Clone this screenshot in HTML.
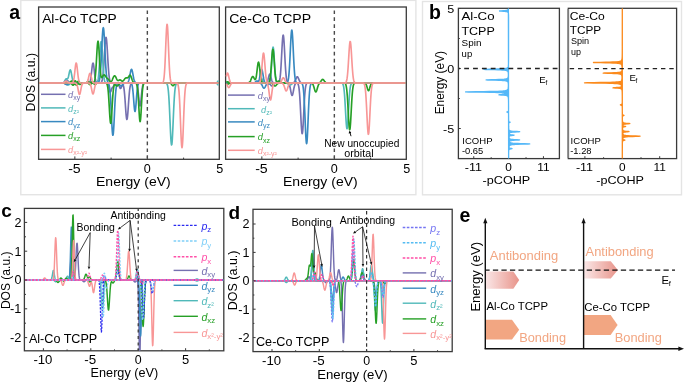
<!DOCTYPE html>
<html><head><meta charset="utf-8"><style>
html,body{margin:0;padding:0;background:#fff;}
svg{display:block;will-change:transform;}
text{font-family:"Liberation Sans", sans-serif;}
</style></head><body>
<svg width="685" height="382" viewBox="0 0 685 382">
<rect x="0" y="0" width="685" height="382" fill="#fff"/>
<rect x="20.80" y="0.40" width="395.10" height="194.30" fill="none" stroke="#e4e4e4" stroke-width="1.4"/>
<rect x="422.50" y="1.50" width="259.00" height="193.30" fill="none" stroke="#e4e4e4" stroke-width="1.4"/>
<text x="9.30" y="18.80" font-size="19.5" fill="#000" font-weight="bold" >a</text>
<text x="429.00" y="19.40" font-size="19.5" fill="#000" font-weight="bold" >b</text>
<text x="1.20" y="217.30" font-size="19" fill="#000" font-weight="bold" >c</text>
<text x="228.40" y="219.40" font-size="19" fill="#000" font-weight="bold" >d</text>
<text x="459.40" y="221.60" font-size="19.5" fill="#000" font-weight="bold" >e</text>
<rect x="38.60" y="7.00" width="180.70" height="152.30" fill="none" stroke="#3a3a3a" stroke-width="1.3"/>
<line x1="74.85" y1="159.00" x2="74.85" y2="156.40" stroke="#3a3a3a" stroke-width="1" />
<line x1="111.10" y1="159.00" x2="111.10" y2="157.60" stroke="#3a3a3a" stroke-width="1" />
<line x1="147.35" y1="159.00" x2="147.35" y2="156.40" stroke="#3a3a3a" stroke-width="1" />
<line x1="183.60" y1="159.00" x2="183.60" y2="157.60" stroke="#3a3a3a" stroke-width="1" />
<line x1="147.35" y1="7.60" x2="147.35" y2="158.40" stroke="#4a4a4a" stroke-width="1.4" stroke-dasharray="3.7,3.2" stroke-dashoffset="4.1"/>
<text x="42.20" y="23.10" font-size="12.6" fill="#000" textLength="74.6" lengthAdjust="spacingAndGlyphs" >Al-Co TCPP</text>
<text x="74.45" y="172.80" font-size="12.5" fill="#000" textLength="12.6" lengthAdjust="spacingAndGlyphs" text-anchor="middle" >-5</text>
<text x="147.35" y="172.80" font-size="12.5" fill="#000" textLength="7.0" lengthAdjust="spacingAndGlyphs" text-anchor="middle" >0</text>
<text x="219.85" y="172.80" font-size="12.5" fill="#000" textLength="7.0" lengthAdjust="spacingAndGlyphs" text-anchor="middle" >5</text>
<text x="96.05" y="186.00" font-size="12.6" fill="#000" textLength="74.6" lengthAdjust="spacingAndGlyphs" >Energy (eV)</text>
<rect x="225.60" y="7.00" width="180.70" height="152.30" fill="none" stroke="#3a3a3a" stroke-width="1.3"/>
<line x1="261.85" y1="159.00" x2="261.85" y2="156.40" stroke="#3a3a3a" stroke-width="1" />
<line x1="298.10" y1="159.00" x2="298.10" y2="157.60" stroke="#3a3a3a" stroke-width="1" />
<line x1="334.35" y1="159.00" x2="334.35" y2="156.40" stroke="#3a3a3a" stroke-width="1" />
<line x1="370.60" y1="159.00" x2="370.60" y2="157.60" stroke="#3a3a3a" stroke-width="1" />
<line x1="334.35" y1="7.60" x2="334.35" y2="158.40" stroke="#4a4a4a" stroke-width="1.4" stroke-dasharray="3.7,3.2" stroke-dashoffset="4.1"/>
<text x="229.20" y="23.10" font-size="12.6" fill="#000" textLength="82.0" lengthAdjust="spacingAndGlyphs" >Ce-Co TCPP</text>
<text x="261.45" y="172.80" font-size="12.5" fill="#000" textLength="12.6" lengthAdjust="spacingAndGlyphs" text-anchor="middle" >-5</text>
<text x="334.35" y="172.80" font-size="12.5" fill="#000" textLength="7.0" lengthAdjust="spacingAndGlyphs" text-anchor="middle" >0</text>
<text x="406.85" y="172.80" font-size="12.5" fill="#000" textLength="7.0" lengthAdjust="spacingAndGlyphs" text-anchor="middle" >5</text>
<text x="283.05" y="186.00" font-size="12.6" fill="#000" textLength="74.6" lengthAdjust="spacingAndGlyphs" >Energy (eV)</text>
<text x="34.60" y="111.40" font-size="12.4" fill="#000" textLength="58.4" lengthAdjust="spacingAndGlyphs" transform="rotate(-90 34.60 111.40)" >DOS (a.u.)</text>
<rect x="458.40" y="8.30" width="101.00" height="150.30" fill="none" stroke="#3a3a3a" stroke-width="1.3"/>
<line x1="473.75" y1="158.60" x2="473.75" y2="156.20" stroke="#3a3a3a" stroke-width="1" />
<line x1="491.18" y1="158.60" x2="491.18" y2="157.20" stroke="#3a3a3a" stroke-width="1" />
<line x1="526.02" y1="158.60" x2="526.02" y2="157.20" stroke="#3a3a3a" stroke-width="1" />
<line x1="543.45" y1="158.60" x2="543.45" y2="156.20" stroke="#3a3a3a" stroke-width="1" />
<line x1="458.40" y1="8.50" x2="460.80" y2="8.50" stroke="#3a3a3a" stroke-width="1" />
<line x1="458.40" y1="38.50" x2="459.80" y2="38.50" stroke="#3a3a3a" stroke-width="1" />
<line x1="458.40" y1="68.50" x2="460.80" y2="68.50" stroke="#3a3a3a" stroke-width="1" />
<line x1="458.40" y1="98.50" x2="459.80" y2="98.50" stroke="#3a3a3a" stroke-width="1" />
<line x1="458.40" y1="128.50" x2="460.80" y2="128.50" stroke="#3a3a3a" stroke-width="1" />
<text x="473.35" y="171.00" font-size="11.2" fill="#000" textLength="17.2" lengthAdjust="spacingAndGlyphs" text-anchor="middle" >-11</text>
<text x="508.60" y="171.00" font-size="11.2" fill="#000" textLength="6.6" lengthAdjust="spacingAndGlyphs" text-anchor="middle" >0</text>
<text x="543.45" y="171.00" font-size="11.2" fill="#000" textLength="12.4" lengthAdjust="spacingAndGlyphs" text-anchor="middle" >11</text>
<text x="482.60" y="183.60" font-size="11.2" fill="#000" textLength="47.6" lengthAdjust="spacingAndGlyphs" >-pCOHP</text>
<text x="461.40" y="20.40" font-size="11.3" fill="#000" textLength="33.2" lengthAdjust="spacingAndGlyphs" >Al-Co</text>
<text x="461.40" y="35.10" font-size="11.3" fill="#000" textLength="33.4" lengthAdjust="spacingAndGlyphs" >TCPP</text>
<text x="461.60" y="45.60" font-size="8.8" fill="#000" textLength="19.8" lengthAdjust="spacingAndGlyphs" >Spin</text>
<text x="461.60" y="56.60" font-size="8.8" fill="#000" textLength="10.6" lengthAdjust="spacingAndGlyphs" >up</text>
<text x="462.30" y="143.60" font-size="9.2" fill="#000" textLength="30.2" lengthAdjust="spacingAndGlyphs" >ICOHP</text>
<text x="461.90" y="154.30" font-size="9.2" fill="#000" textLength="21.4" lengthAdjust="spacingAndGlyphs" >-0.65</text>
<rect x="568.30" y="8.30" width="108.30" height="150.30" fill="none" stroke="#3a3a3a" stroke-width="1.3"/>
<line x1="584.90" y1="158.60" x2="584.90" y2="156.20" stroke="#3a3a3a" stroke-width="1" />
<line x1="603.60" y1="158.60" x2="603.60" y2="157.20" stroke="#3a3a3a" stroke-width="1" />
<line x1="641.00" y1="158.60" x2="641.00" y2="157.20" stroke="#3a3a3a" stroke-width="1" />
<line x1="659.70" y1="158.60" x2="659.70" y2="156.20" stroke="#3a3a3a" stroke-width="1" />
<text x="584.50" y="171.00" font-size="11.2" fill="#000" textLength="17.2" lengthAdjust="spacingAndGlyphs" text-anchor="middle" >-11</text>
<text x="622.30" y="171.00" font-size="11.2" fill="#000" textLength="6.6" lengthAdjust="spacingAndGlyphs" text-anchor="middle" >0</text>
<text x="659.70" y="171.00" font-size="11.2" fill="#000" textLength="12.4" lengthAdjust="spacingAndGlyphs" text-anchor="middle" >11</text>
<text x="596.30" y="183.60" font-size="11.2" fill="#000" textLength="47.6" lengthAdjust="spacingAndGlyphs" >-pCOHP</text>
<text x="569.70" y="20.10" font-size="11.3" fill="#000" textLength="35.0" lengthAdjust="spacingAndGlyphs" >Ce-Co</text>
<text x="569.70" y="33.60" font-size="11.3" fill="#000" textLength="31.4" lengthAdjust="spacingAndGlyphs" >TCPP</text>
<text x="570.90" y="44.20" font-size="8.8" fill="#000" textLength="18.2" lengthAdjust="spacingAndGlyphs" >Spin</text>
<text x="570.90" y="54.80" font-size="8.8" fill="#000" textLength="10.0" lengthAdjust="spacingAndGlyphs" >up</text>
<text x="570.60" y="143.60" font-size="9.2" fill="#000" textLength="30.2" lengthAdjust="spacingAndGlyphs" >ICOHP</text>
<text x="570.20" y="154.30" font-size="9.2" fill="#000" textLength="21.4" lengthAdjust="spacingAndGlyphs" >-1.28</text>
<line x1="568.30" y1="9.00" x2="568.30" y2="157.90" stroke="#7c7c7c" stroke-width="1.7" />
<text x="454.20" y="12.70" font-size="11.6" fill="#000" textLength="7.0" lengthAdjust="spacingAndGlyphs" text-anchor="end" >5</text>
<text x="454.20" y="72.70" font-size="11.6" fill="#000" textLength="7.0" lengthAdjust="spacingAndGlyphs" text-anchor="end" >0</text>
<text x="454.20" y="132.70" font-size="11.6" fill="#000" textLength="11.2" lengthAdjust="spacingAndGlyphs" text-anchor="end" >-5</text>
<text x="443.60" y="114.30" font-size="12.8" fill="#000" textLength="63.3" lengthAdjust="spacingAndGlyphs" transform="rotate(-90 443.60 114.30)" >Energy (eV)</text>
<text x="539.20" y="82.80" font-size="9.6" fill="#000" >E</text>
<text x="545.50" y="85.00" font-size="6.4" fill="#000" >f</text>
<text x="629.40" y="81.00" font-size="9.6" fill="#000" >E</text>
<text x="635.50" y="83.20" font-size="6.4" fill="#000" >f</text>
<path d="M508.37,8.80 L508.35,8.90 L508.33,9.00 L508.30,9.10 L508.27,9.20 L508.23,9.30 L508.18,9.40 L508.13,9.50 L508.06,9.60 L507.98,9.70 L507.88,9.80 L507.76,9.90 L507.60,10.00 L507.40,10.10 L507.14,10.20 L506.78,10.30 L506.29,10.40 L505.61,10.50 L504.65,10.60 L503.35,10.70 L501.74,10.80 L500.18,10.90 L499.50,11.00 L500.18,11.10 L501.74,11.20 L503.35,11.30 L504.65,11.40 L505.61,11.50 L506.29,11.60 L506.78,11.70 L507.14,11.80 L507.40,11.90 L507.60,12.00 L507.76,12.10 L507.88,12.20 L507.98,12.30 L508.06,12.40 L508.13,12.50 L508.18,12.60 L508.23,12.70 L508.27,12.80 L508.30,12.90 L508.33,13.00 L508.35,13.10 L508.37,13.20 L508.39,13.30 L508.41,13.40 L508.42,13.50 L508.44,13.60 L508.45,13.70 L508.46,13.80 L508.47,13.90 L508.48,14.00 L508.48,14.10 L508.49,14.20 L508.50,14.30 L508.50,14.40 L508.51,14.50 L508.51,14.60 L508.52,14.70 L508.52,14.80 L508.52,14.90 L508.53,15.00 L508.53,15.10 L508.53,15.20 L508.54,15.30 L508.54,15.40 L508.54,15.50 L508.55,15.60 L508.55,15.70 L508.55,15.80 L508.55,15.90 L508.55,16.00 L508.55,16.10 L508.56,16.20 L508.56,16.30 L508.56,16.40 L508.56,16.50 L508.56,16.60 L508.56,16.70 L508.56,16.80 L508.57,16.90 L508.57,17.00 L508.57,17.10 L508.57,17.20 L508.57,17.30 L508.57,17.40 L508.57,17.50 L508.57,17.60 L508.57,17.70 L508.57,17.80 L508.57,17.90 L508.57,18.00 L508.58,18.10 L508.58,18.20 L508.58,18.30 L508.58,18.40 L508.58,18.50 L508.58,18.60 L508.58,18.70 L508.58,18.80 L508.58,18.90 L508.58,19.00 L508.58,19.10 L508.58,53.50 L508.58,53.60 L508.58,53.70 L508.58,53.80 L508.58,53.90 L508.58,54.00 L508.58,54.10 L508.58,54.20 L508.58,54.30 L508.58,54.40 L508.58,54.50 L508.58,54.60 L508.58,54.70 L508.58,54.80 L508.58,54.90 L508.58,55.00 L508.58,55.10 L508.58,55.20 L508.58,55.30 L508.58,55.40 L508.58,55.50 L508.58,55.60 L508.57,55.70 L508.57,55.80 L508.57,55.90 L508.57,56.00 L508.57,56.10 L508.57,56.20 L508.57,56.30 L508.57,56.40 L508.57,56.50 L508.57,56.60 L508.57,56.70 L508.57,56.80 L508.57,56.90 L508.57,57.00 L508.57,57.10 L508.57,57.20 L508.57,57.30 L508.57,57.40 L508.57,57.50 L508.57,57.60 L508.57,57.70 L508.57,57.80 L508.57,57.90 L508.57,58.00 L508.57,58.10 L508.57,58.20 L508.56,58.30 L508.56,58.40 L508.56,58.50 L508.56,58.60 L508.56,58.70 L508.56,58.80 L508.56,58.90 L508.56,59.00 L508.56,59.10 L508.56,59.20 L508.56,59.30 L508.56,59.40 L508.56,59.50 L508.56,59.60 L508.56,59.70 L508.56,59.80 L508.55,59.90 L508.55,60.00 L508.55,60.10 L508.55,60.20 L508.55,60.30 L508.55,60.40 L508.55,60.50 L508.55,60.60 L508.55,60.70 L508.55,60.80 L508.54,60.90 L508.54,61.00 L508.54,61.10 L508.54,61.20 L508.54,61.30 L508.54,61.40 L508.54,61.50 L508.54,61.60 L508.53,61.70 L508.53,61.80 L508.53,61.90 L508.53,62.00 L508.53,62.10 L508.53,62.20 L508.53,62.30 L508.52,62.40 L508.52,62.50 L508.52,62.60 L508.52,62.70 L508.51,62.80 L508.51,62.90 L508.51,63.00 L508.51,63.10 L508.51,63.20 L508.50,63.30 L508.50,63.40 L508.50,63.50 L508.49,63.60 L508.49,63.70 L508.49,63.80 L508.48,63.90 L508.48,64.00 L508.47,64.10 L508.47,64.20 L508.47,64.30 L508.46,64.40 L508.46,64.50 L508.45,64.60 L508.44,64.70 L508.44,64.80 L508.43,64.90 L508.43,65.00 L508.42,65.10 L508.41,65.20 L508.40,65.30 L508.39,65.40 L508.38,65.50 L508.37,65.60 L508.36,65.70 L508.35,65.80 L508.33,65.90 L508.32,66.00 L508.30,66.10 L508.29,66.20 L508.27,66.30 L508.25,66.40 L508.22,66.50 L508.20,66.60 L508.17,66.70 L508.14,66.80 L508.10,66.90 L508.06,67.00 L508.02,67.10 L507.97,67.20 L507.91,67.30 L507.84,67.40 L507.77,67.50 L507.68,67.60 L507.57,67.70 L507.45,67.80 L507.30,67.90 L507.12,68.00 L506.91,68.10 L506.64,68.20 L506.31,68.30 L505.88,68.40 L505.34,68.50 L504.62,68.60 L503.65,68.70 L502.32,68.80 L500.48,68.90 L497.90,69.00 L494.38,69.10 L490.02,69.20 L485.82,69.30 L483.96,69.40 L485.82,69.50 L490.02,69.60 L494.38,69.70 L497.89,69.80 L500.47,69.90 L502.31,70.00 L503.64,70.10 L504.61,70.20 L505.33,70.30 L505.87,70.40 L506.30,70.50 L506.63,70.60 L506.89,70.70 L507.11,70.80 L507.28,70.90 L507.43,71.00 L507.55,71.10 L507.65,71.20 L507.74,71.30 L507.82,71.40 L507.88,71.50 L507.94,71.60 L507.99,71.70 L508.03,71.80 L508.07,71.90 L508.10,72.00 L508.13,72.10 L508.16,72.20 L508.18,72.30 L508.21,72.40 L508.23,72.50 L508.24,72.60 L508.26,72.70 L508.27,72.80 L508.28,72.90 L508.30,73.00 L508.31,73.10 L508.32,73.20 L508.32,73.30 L508.33,73.40 L508.34,73.50 L508.34,73.60 L508.35,73.70 L508.35,73.80 L508.36,73.90 L508.36,74.00 L508.37,74.10 L508.37,74.20 L508.37,74.30 L508.37,74.40 L508.37,74.50 L508.37,74.60 L508.37,74.70 L508.37,74.80 L508.37,74.90 L508.37,75.00 L508.37,75.10 L508.37,75.20 L508.36,75.30 L508.36,75.40 L508.36,75.50 L508.35,75.60 L508.35,75.70 L508.34,75.80 L508.34,75.90 L508.33,76.00 L508.32,76.10 L508.31,76.20 L508.30,76.30 L508.29,76.40 L508.28,76.50 L508.27,76.60 L508.25,76.70 L508.24,76.80 L508.22,76.90 L508.20,77.00 L508.18,77.10 L508.15,77.20 L508.13,77.30 L508.10,77.40 L508.06,77.50 L508.02,77.60 L507.97,77.70 L507.92,77.80 L507.86,77.90 L507.79,78.00 L507.71,78.10 L507.62,78.20 L507.51,78.30 L507.37,78.40 L507.21,78.50 L507.02,78.60 L506.78,78.70 L506.47,78.80 L506.09,78.90 L505.59,79.00 L504.93,79.10 L504.05,79.20 L502.85,79.30 L501.17,79.40 L498.82,79.50 L495.62,79.60 L491.65,79.70 L487.82,79.80 L486.13,79.90 L487.82,80.00 L491.65,80.10 L495.62,80.20 L498.82,80.30 L501.17,80.40 L502.84,80.50 L504.05,80.60 L504.93,80.70 L505.59,80.80 L506.09,80.90 L506.47,81.00 L506.77,81.10 L507.01,81.20 L507.21,81.30 L507.37,81.40 L507.50,81.50 L507.61,81.60 L507.71,81.70 L507.79,81.80 L507.86,81.90 L507.92,82.00 L507.97,82.10 L508.01,82.20 L508.05,82.30 L508.09,82.40 L508.12,82.50 L508.15,82.60 L508.17,82.70 L508.19,82.80 L508.21,82.90 L508.23,83.00 L508.24,83.10 L508.26,83.20 L508.27,83.30 L508.28,83.40 L508.29,83.50 L508.30,83.60 L508.31,83.70 L508.32,83.80 L508.33,83.90 L508.33,84.00 L508.34,84.10 L508.34,84.20 L508.35,84.30 L508.35,84.40 L508.35,84.50 L508.36,84.60 L508.36,84.70 L508.36,84.80 L508.36,84.90 L508.36,85.00 L508.36,85.10 L508.36,85.20 L508.36,85.30 L508.36,85.40 L508.36,85.50 L508.36,85.60 L508.36,85.70 L508.36,85.80 L508.36,85.90 L508.35,86.00 L508.35,86.10 L508.35,86.20 L508.34,86.30 L508.34,86.40 L508.33,86.50 L508.33,86.60 L508.32,86.70 L508.32,86.80 L508.31,86.90 L508.30,87.00 L508.29,87.10 L508.29,87.20 L508.28,87.30 L508.27,87.40 L508.25,87.50 L508.24,87.60 L508.23,87.70 L508.22,87.80 L508.20,87.90 L508.18,88.00 L508.17,88.10 L508.15,88.20 L508.13,88.30 L508.10,88.40 L508.08,88.50 L508.05,88.60 L508.02,88.70 L507.99,88.80 L507.95,88.90 L507.91,89.00 L507.87,89.10 L507.82,89.20 L507.76,89.30 L507.70,89.40 L507.63,89.50 L507.55,89.60 L507.46,89.70 L507.36,89.80 L507.25,89.90 L507.11,90.00 L506.96,90.10 L506.77,90.20 L506.56,90.30 L506.30,90.40 L505.99,90.50 L505.61,90.60 L505.14,90.70 L504.56,90.80 L503.82,90.90 L502.86,91.00 L501.60,91.10 L499.91,91.20 L497.59,91.30 L494.37,91.40 L489.87,91.50 L483.74,91.60 L476.12,91.70 L468.79,91.80 L465.55,91.90 L468.78,92.00 L476.09,92.10 L483.69,92.20 L489.80,92.30 L494.28,92.40 L497.48,92.50 L499.78,92.60 L501.44,92.70 L502.67,92.80 L503.60,92.90 L504.31,93.00 L504.85,93.10 L505.27,93.20 L505.59,93.30 L505.83,93.40 L506.01,93.50 L506.12,93.60 L506.18,93.70 L506.18,93.80 L506.11,93.90 L505.96,94.00 L505.71,94.10 L505.30,94.20 L504.70,94.30 L503.81,94.40 L502.58,94.50 L501.02,94.60 L499.51,94.70 L498.87,94.80 L499.60,94.90 L501.19,95.00 L502.83,95.10 L504.16,95.20 L505.14,95.30 L505.85,95.40 L506.37,95.50 L506.74,95.60 L507.03,95.70 L507.25,95.80 L507.43,95.90 L507.56,96.00 L507.68,96.10 L507.77,96.20 L507.85,96.30 L507.92,96.40 L507.97,96.50 L508.02,96.60 L508.06,96.70 L508.10,96.80 L508.13,96.90 L508.16,97.00 L508.19,97.10 L508.21,97.20 L508.24,97.30 L508.26,97.40 L508.27,97.50 L508.29,97.60 L508.30,97.70 L508.32,97.80 L508.33,97.90 L508.34,98.00 L508.35,98.10 L508.36,98.20 L508.37,98.30 L508.38,98.40 L508.39,98.50 L508.40,98.60 L508.41,98.70 L508.41,98.80 L508.42,98.90 L508.43,99.00 L508.43,99.10 L508.44,99.20 L508.44,99.30 L508.45,99.40 L508.45,99.50 L508.46,99.60 L508.46,99.70 L508.46,99.80 L508.47,99.90 L508.47,100.00 L508.48,100.10 L508.48,100.20 L508.48,100.30 L508.49,100.40 L508.49,100.50 L508.49,100.60 L508.49,100.70 L508.50,100.80 L508.50,100.90 L508.50,101.00 L508.50,101.10 L508.51,101.20 L508.51,101.30 L508.51,101.40 L508.51,101.50 L508.51,101.60 L508.52,101.70 L508.52,101.80 L508.52,101.90 L508.52,102.00 L508.52,102.10 L508.52,102.20 L508.53,102.30 L508.53,102.40 L508.53,102.50 L508.53,102.60 L508.53,102.70 L508.53,102.80 L508.53,102.90 L508.54,103.00 L508.54,103.10 L508.54,103.20 L508.54,103.30 L508.54,103.40 L508.54,103.50 L508.54,103.60 L508.54,103.70 L508.54,103.80 L508.55,103.90 L508.55,104.00 L508.55,104.10 L508.55,104.20 L508.55,104.30 L508.55,104.40 L508.55,104.50 L508.55,104.60 L508.55,104.70 L508.55,104.80 L508.55,104.90 L508.55,105.00 L508.55,105.10 L508.56,105.20 L508.56,105.30 L508.56,105.40 L508.56,105.50 L508.56,105.60 L508.56,105.70 L508.56,105.80 L508.56,105.90 L508.56,106.00 L508.56,106.10 L508.56,106.20 L508.56,106.30 L508.56,106.40 L508.56,106.50 L508.56,106.60 L508.56,106.70 L508.56,106.80 L508.56,106.90 L508.56,107.00 L508.56,107.10 L508.56,107.20 L508.56,107.30 L508.56,107.40 L508.56,107.50 L508.56,107.60 L508.56,107.70 L508.56,107.80 L508.56,107.90 L508.56,108.00 L508.56,108.10 L508.56,108.20 L508.56,108.30 L508.56,108.40 L508.56,108.50 L508.56,108.60 L508.56,108.70 L508.56,108.80 L508.56,108.90 L508.56,109.00 L508.56,109.10 L508.55,109.20 L508.55,109.30 L508.55,109.40 L508.55,109.50 L508.55,109.60 L508.54,109.70 L508.54,109.80 L508.54,109.90 L508.53,110.00 L508.53,110.10 L508.52,110.20 L508.52,110.30 L508.51,110.40 L508.50,110.50 L508.49,110.60 L508.47,110.70 L508.45,110.80 L508.43,110.90 L508.40,111.00 L508.36,111.10 L508.31,111.20 L508.25,111.30 L508.16,111.40 L508.03,111.50 L507.85,111.60 L507.61,111.70 L507.31,111.80 L507.02,111.90 L506.89,112.00 L507.02,112.10 L507.31,112.20 L507.61,112.30 L507.85,112.40 L508.03,112.50 L508.16,112.60 L508.25,112.70 L508.32,112.80 L508.37,112.90 L508.41,113.00 L508.44,113.10 L508.46,113.20 L508.48,113.30 L508.49,113.40 L508.51,113.50 L508.52,113.60 L508.53,113.70 L508.53,113.80 L508.54,113.90 L508.55,114.00 L508.55,114.10 L508.55,114.20 L508.56,114.30 L508.56,114.40 L508.56,114.50 L508.57,114.60 L508.57,114.70 L508.57,114.80 L508.57,114.90 L508.58,115.00 L508.58,115.10 L508.58,115.20 L508.58,115.30 L508.62,119.00 L508.62,119.10 L508.62,119.20 L508.62,119.30 L508.63,119.40 L508.63,119.50 L508.63,119.60 L508.63,119.70 L508.64,119.80 L508.64,119.90 L508.64,120.00 L508.65,120.10 L508.65,120.20 L508.66,120.30 L508.66,120.40 L508.67,120.50 L508.68,120.60 L508.69,120.70 L508.70,120.80 L508.71,120.90 L508.73,121.00 L508.75,121.10 L508.78,121.20 L508.81,121.30 L508.85,121.40 L508.91,121.50 L508.99,121.60 L509.11,121.70 L509.27,121.80 L509.48,121.90 L509.75,122.00 L510.00,122.10 L510.12,122.20 L510.00,122.30 L509.75,122.40 L509.48,122.50 L509.27,122.60 L509.11,122.70 L509.00,122.80 L508.92,122.90 L508.86,123.00 L508.82,123.10 L508.79,123.20 L508.76,123.30 L508.74,123.40 L508.73,123.50 L508.71,123.60 L508.70,123.70 L508.70,123.80 L508.69,123.90 L508.68,124.00 L508.68,124.10 L508.68,124.20 L508.67,124.30 L508.67,124.40 L508.67,124.50 L508.67,124.60 L508.67,124.70 L508.66,124.80 L508.66,124.90 L508.66,125.00 L508.66,125.10 L508.66,125.20 L508.66,125.30 L508.66,125.40 L508.66,125.50 L508.66,125.60 L508.67,125.70 L508.67,125.80 L508.67,125.90 L508.67,126.00 L508.67,126.10 L508.67,126.20 L508.67,126.30 L508.67,126.40 L508.68,126.50 L508.68,126.60 L508.68,126.70 L508.68,126.80 L508.68,126.90 L508.69,127.00 L508.69,127.10 L508.69,127.20 L508.70,127.30 L508.70,127.40 L508.70,127.50 L508.71,127.60 L508.71,127.70 L508.72,127.80 L508.72,127.90 L508.73,128.00 L508.73,128.10 L508.74,128.20 L508.75,128.30 L508.75,128.40 L508.76,128.50 L508.77,128.60 L508.78,128.70 L508.79,128.80 L508.81,128.90 L508.82,129.00 L508.83,129.10 L508.85,129.20 L508.87,129.30 L508.89,129.40 L508.91,129.50 L508.94,129.60 L508.97,129.70 L509.01,129.80 L509.05,129.90 L509.10,130.00 L509.15,130.10 L509.22,130.20 L509.30,130.30 L509.40,130.40 L509.52,130.50 L509.67,130.60 L509.86,130.70 L510.11,130.80 L510.43,130.90 L510.87,131.00 L511.46,131.10 L512.29,131.20 L513.44,131.30 L515.02,131.40 L516.97,131.50 L518.85,131.60 L519.69,131.70 L518.86,131.80 L516.99,131.90 L515.04,132.00 L513.47,132.10 L512.33,132.20 L511.51,132.30 L510.92,132.40 L510.50,132.50 L510.18,132.60 L509.95,132.70 L509.77,132.80 L509.63,132.90 L509.52,133.00 L509.44,133.10 L509.37,133.20 L509.33,133.30 L509.29,133.40 L509.27,133.50 L509.26,133.60 L509.26,133.70 L509.27,133.80 L509.29,133.90 L509.33,134.00 L509.38,134.10 L509.46,134.20 L509.56,134.30 L509.70,134.40 L509.90,134.50 L510.18,134.60 L510.57,134.70 L511.12,134.80 L511.87,134.90 L512.80,135.00 L513.70,135.10 L514.10,135.20 L513.70,135.30 L512.79,135.40 L511.85,135.50 L511.09,135.60 L510.54,135.70 L510.14,135.80 L509.86,135.90 L509.65,136.00 L509.50,136.10 L509.38,136.20 L509.29,136.30 L509.23,136.40 L509.17,136.50 L509.13,136.60 L509.10,136.70 L509.08,136.80 L509.06,136.90 L509.05,137.00 L509.04,137.10 L509.04,137.20 L509.04,137.30 L509.04,137.40 L509.05,137.50 L509.06,137.60 L509.07,137.70 L509.09,137.80 L509.11,137.90 L509.14,138.00 L509.18,138.10 L509.22,138.20 L509.27,138.30 L509.33,138.40 L509.41,138.50 L509.50,138.60 L509.62,138.70 L509.77,138.80 L509.95,138.90 L510.20,139.00 L510.51,139.10 L510.94,139.20 L511.53,139.30 L512.34,139.40 L513.47,139.50 L515.02,139.60 L516.94,139.70 L518.79,139.80 L519.61,139.90 L518.80,140.00 L516.97,140.10 L515.06,140.20 L513.52,140.30 L512.40,140.40 L511.60,140.50 L511.04,140.60 L510.62,140.70 L510.32,140.80 L510.10,140.90 L509.93,141.00 L509.81,141.10 L509.71,141.20 L509.64,141.30 L509.60,141.40 L509.57,141.50 L509.55,141.60 L509.55,141.70 L509.56,141.80 L509.58,141.90 L509.61,142.00 L509.66,142.10 L509.73,142.20 L509.82,142.30 L509.92,142.40 L510.06,142.50 L510.23,142.60 L510.44,142.70 L510.72,142.80 L511.07,142.90 L511.53,143.00 L512.13,143.10 L512.95,143.20 L514.08,143.30 L515.64,143.40 L517.84,143.50 L520.83,143.60 L524.55,143.70 L528.13,143.80 L529.71,143.90 L528.13,144.00 L524.54,144.10 L520.81,144.20 L517.81,144.30 L515.61,144.40 L514.03,144.50 L512.90,144.60 L512.07,144.70 L511.45,144.80 L510.98,144.90 L510.62,145.00 L510.34,145.10 L510.11,145.20 L509.93,145.30 L509.78,145.40 L509.65,145.50 L509.55,145.60 L509.46,145.70 L509.39,145.80 L509.32,145.90 L509.27,146.00 L509.22,146.10 L509.19,146.20 L509.15,146.30 L509.12,146.40 L509.10,146.50 L509.08,146.60 L509.07,146.70 L509.06,146.80 L509.05,146.90 L509.05,147.00 L509.05,147.10 L509.06,147.20 L509.07,147.30 L509.10,147.40 L509.13,147.50 L509.18,147.60 L509.24,147.70 L509.33,147.80 L509.45,147.90 L509.62,148.00 L509.86,148.10 L510.19,148.20 L510.66,148.30 L511.24,148.40 L511.80,148.50 L512.04,148.60 L511.78,148.70 L511.22,148.80 L510.63,148.90 L510.15,149.00 L509.80,149.10 L509.55,149.20 L509.37,149.30 L509.23,149.40 L509.13,149.50 L509.06,149.60 L509.00,149.70 L508.95,149.80 L508.91,149.90 L508.88,150.00 L508.85,150.10 L508.83,150.20 L508.81,150.30 L508.80,150.40 L508.78,150.50 L508.77,150.60 L508.76,150.70 L508.75,150.80 L508.74,150.90 L508.73,151.00 L508.73,151.10 L508.72,151.20 L508.71,151.30 L508.71,151.40 L508.70,151.50 L508.70,151.60 L508.70,151.70 L508.69,151.80 L508.69,151.90 L508.69,152.00 L508.68,152.10 L508.68,152.20 L508.68,152.30 L508.67,152.40 L508.67,152.50 L508.67,152.60 L508.67,152.70 L508.67,152.80 L508.66,152.90 L508.66,153.00 L508.66,153.10 L508.66,153.20 L508.66,153.30 L508.66,153.40 L508.65,153.50 L508.65,153.60 L508.65,153.70 L508.65,153.80 L508.65,153.90 L508.65,154.00 L508.65,154.10 L508.65,154.20 L508.64,154.30 L508.64,154.40 L508.64,154.50 L508.64,154.60 L508.64,154.70 L508.64,154.80 L508.64,154.90 L508.64,155.00 L508.64,155.10 L508.64,155.20 L508.64,155.30 L508.64,155.40 L508.63,155.50 L508.63,155.60 L508.63,155.70 L508.63,155.80 L508.63,155.90 L508.63,156.00 L508.63,156.10 L508.63,156.20 L508.63,156.30 L508.63,156.40 L508.63,156.50 L508.63,156.60 L508.63,156.70 L508.63,156.80 L508.63,156.90 L508.63,157.00 L508.63,157.10 L508.63,157.20 L508.63,157.30 L508.62,157.40 L508.62,157.50 L508.62,157.60 L508.62,157.70 L508.62,157.80 L508.62,157.90 Z" fill="#55b8f8" stroke="#55b8f8" stroke-width="1.3" stroke-linejoin="round"/>
<path d="M622.30,8.80 L622.28,46.20 L622.28,46.30 L622.28,46.40 L622.28,46.50 L622.28,46.60 L622.28,46.70 L622.28,46.80 L622.28,46.90 L622.28,47.00 L622.28,47.10 L622.28,47.20 L622.28,47.30 L622.28,47.40 L622.28,47.50 L622.28,47.60 L622.28,47.70 L622.28,47.80 L622.28,47.90 L622.28,48.00 L622.28,48.10 L622.28,48.20 L622.27,48.30 L622.27,48.40 L622.27,48.50 L622.27,48.60 L622.27,48.70 L622.27,48.80 L622.27,48.90 L622.27,49.00 L622.27,49.10 L622.27,49.20 L622.27,49.30 L622.27,49.40 L622.27,49.50 L622.27,49.60 L622.27,49.70 L622.27,49.80 L622.27,49.90 L622.27,50.00 L622.27,50.10 L622.27,50.20 L622.27,50.30 L622.27,50.40 L622.27,50.50 L622.27,50.60 L622.27,50.70 L622.27,50.80 L622.26,50.90 L622.26,51.00 L622.26,51.10 L622.26,51.20 L622.26,51.30 L622.26,51.40 L622.26,51.50 L622.26,51.60 L622.26,51.70 L622.26,51.80 L622.26,51.90 L622.26,52.00 L622.26,52.10 L622.26,52.20 L622.26,52.30 L622.26,52.40 L622.25,52.50 L622.25,52.60 L622.25,52.70 L622.25,52.80 L622.25,52.90 L622.25,53.00 L622.25,53.10 L622.25,53.20 L622.25,53.30 L622.25,53.40 L622.25,53.50 L622.24,53.60 L622.24,53.70 L622.24,53.80 L622.24,53.90 L622.24,54.00 L622.24,54.10 L622.24,54.20 L622.24,54.30 L622.23,54.40 L622.23,54.50 L622.23,54.60 L622.23,54.70 L622.23,54.80 L622.23,54.90 L622.22,55.00 L622.22,55.10 L622.22,55.20 L622.22,55.30 L622.22,55.40 L622.21,55.50 L622.21,55.60 L622.21,55.70 L622.21,55.80 L622.20,55.90 L622.20,56.00 L622.20,56.10 L622.20,56.20 L622.19,56.30 L622.19,56.40 L622.19,56.50 L622.18,56.60 L622.18,56.70 L622.18,56.80 L622.17,56.90 L622.17,57.00 L622.16,57.10 L622.16,57.20 L622.15,57.30 L622.15,57.40 L622.14,57.50 L622.14,57.60 L622.13,57.70 L622.12,57.80 L622.12,57.90 L622.11,58.00 L622.10,58.10 L622.09,58.20 L622.08,58.30 L622.07,58.40 L622.06,58.50 L622.05,58.60 L622.04,58.70 L622.03,58.80 L622.01,58.90 L621.99,59.00 L621.98,59.10 L621.96,59.20 L621.94,59.30 L621.92,59.40 L621.89,59.50 L621.87,59.60 L621.84,59.70 L621.80,59.80 L621.77,59.90 L621.72,60.00 L621.68,60.10 L621.62,60.20 L621.57,60.30 L621.50,60.40 L621.42,60.50 L621.33,60.60 L621.23,60.70 L621.10,60.80 L620.96,60.90 L620.79,61.00 L620.58,61.10 L620.33,61.20 L620.02,61.30 L619.63,61.40 L619.13,61.50 L618.49,61.60 L617.64,61.70 L616.51,61.80 L614.96,61.90 L612.80,62.00 L609.78,62.10 L605.67,62.20 L600.56,62.30 L595.64,62.40 L593.47,62.50 L595.64,62.60 L600.56,62.70 L605.66,62.80 L609.78,62.90 L612.79,63.00 L614.95,63.10 L616.50,63.20 L617.64,63.30 L618.48,63.40 L619.12,63.50 L619.61,63.60 L620.00,63.70 L620.31,63.80 L620.57,63.90 L620.77,64.00 L620.94,64.10 L621.09,64.20 L621.21,64.30 L621.31,64.40 L621.40,64.50 L621.48,64.60 L621.54,64.70 L621.60,64.80 L621.65,64.90 L621.70,65.00 L621.74,65.10 L621.77,65.20 L621.80,65.30 L621.83,65.40 L621.86,65.50 L621.88,65.60 L621.90,65.70 L621.92,65.80 L621.94,65.90 L621.95,66.00 L621.97,66.10 L621.98,66.20 L621.99,66.30 L622.00,66.40 L622.01,66.50 L622.02,66.60 L622.03,66.70 L622.03,66.80 L622.04,66.90 L622.05,67.00 L622.05,67.10 L622.05,67.20 L622.06,67.30 L622.06,67.40 L622.07,67.50 L622.07,67.60 L622.07,67.70 L622.07,67.80 L622.07,67.90 L622.07,68.00 L622.07,68.10 L622.07,68.20 L622.07,68.30 L622.07,68.40 L622.07,68.50 L622.07,68.60 L622.07,68.70 L622.06,68.80 L622.06,68.90 L622.05,69.00 L622.05,69.10 L622.04,69.20 L622.04,69.30 L622.03,69.40 L622.02,69.50 L622.01,69.60 L622.01,69.70 L621.99,69.80 L621.98,69.90 L621.97,70.00 L621.95,70.10 L621.94,70.20 L621.92,70.30 L621.90,70.40 L621.88,70.50 L621.85,70.60 L621.82,70.70 L621.79,70.80 L621.75,70.90 L621.70,71.00 L621.65,71.10 L621.59,71.20 L621.53,71.30 L621.45,71.40 L621.35,71.50 L621.24,71.60 L621.10,71.70 L620.94,71.80 L620.73,71.90 L620.47,72.00 L620.15,72.10 L619.72,72.20 L619.17,72.30 L618.42,72.40 L617.40,72.50 L615.97,72.60 L613.98,72.70 L611.27,72.80 L607.90,72.90 L604.65,73.00 L603.22,73.10 L604.65,73.20 L607.89,73.30 L611.26,73.40 L613.98,73.50 L615.97,73.60 L617.39,73.70 L618.41,73.80 L619.16,73.90 L619.72,74.00 L620.14,74.10 L620.46,74.20 L620.72,74.30 L620.93,74.40 L621.09,74.50 L621.23,74.60 L621.34,74.70 L621.43,74.80 L621.51,74.90 L621.58,75.00 L621.64,75.10 L621.68,75.20 L621.73,75.30 L621.76,75.40 L621.80,75.50 L621.83,75.60 L621.85,75.70 L621.87,75.80 L621.89,75.90 L621.91,76.00 L621.92,76.10 L621.94,76.20 L621.95,76.30 L621.96,76.40 L621.97,76.50 L621.98,76.60 L621.98,76.70 L621.99,76.80 L621.99,76.90 L622.00,77.00 L622.00,77.10 L622.00,77.20 L622.01,77.30 L622.01,77.40 L622.01,77.50 L622.01,77.60 L622.01,77.70 L622.00,77.80 L622.00,77.90 L622.00,78.00 L622.00,78.10 L621.99,78.20 L621.99,78.30 L621.98,78.40 L621.97,78.50 L621.97,78.60 L621.96,78.70 L621.95,78.80 L621.94,78.90 L621.93,79.00 L621.92,79.10 L621.91,79.20 L621.89,79.30 L621.88,79.40 L621.87,79.50 L621.85,79.60 L621.83,79.70 L621.81,79.80 L621.79,79.90 L621.77,80.00 L621.76,80.10 L621.74,80.20 L621.72,80.30 L621.71,80.40 L621.71,80.50 L621.73,80.60 L621.77,80.70 L621.84,80.80 L621.97,80.90 L622.13,81.00 L622.26,81.10 L622.20,81.20 L621.85,81.30 L621.29,81.40 L620.66,81.50 L620.00,81.60 L619.31,81.70 L618.54,81.80 L617.60,81.90 L616.43,82.00 L614.89,82.10 L612.82,82.20 L609.95,82.30 L605.97,82.40 L600.55,82.50 L593.83,82.60 L587.37,82.70 L584.50,82.80 L587.34,82.90 L593.79,83.00 L600.49,83.10 L605.88,83.20 L609.83,83.30 L612.66,83.40 L614.69,83.50 L616.17,83.60 L617.27,83.70 L618.11,83.80 L618.75,83.90 L619.26,84.00 L619.66,84.10 L619.99,84.20 L620.26,84.30 L620.47,84.40 L620.66,84.50 L620.81,84.60 L620.94,84.70 L621.05,84.80 L621.14,84.90 L621.22,85.00 L621.29,85.10 L621.34,85.20 L621.39,85.30 L621.43,85.40 L621.46,85.50 L621.48,85.60 L621.50,85.70 L621.51,85.80 L621.52,85.90 L621.51,86.00 L621.50,86.10 L621.48,86.20 L621.45,86.30 L621.40,86.40 L621.34,86.50 L621.26,86.60 L621.15,86.70 L621.01,86.80 L620.82,86.90 L620.57,87.00 L620.22,87.10 L619.74,87.20 L619.07,87.30 L618.13,87.40 L616.84,87.50 L615.23,87.60 L613.69,87.70 L613.01,87.80 L613.70,87.90 L615.26,88.00 L616.88,88.10 L618.19,88.20 L619.15,88.30 L619.83,88.40 L620.33,88.50 L620.69,88.60 L620.96,88.70 L621.17,88.80 L621.33,88.90 L621.46,89.00 L621.56,89.10 L621.64,89.20 L621.71,89.30 L621.77,89.40 L621.82,89.50 L621.86,89.60 L621.90,89.70 L621.93,89.80 L621.95,89.90 L621.98,90.00 L622.00,90.10 L622.02,90.20 L622.03,90.30 L622.05,90.40 L622.06,90.50 L622.08,90.60 L622.09,90.70 L622.10,90.80 L622.11,90.90 L622.12,91.00 L622.12,91.10 L622.13,91.20 L622.14,91.30 L622.15,91.40 L622.15,91.50 L622.16,91.60 L622.16,91.70 L622.17,91.80 L622.17,91.90 L622.18,92.00 L622.18,92.10 L622.18,92.20 L622.19,92.30 L622.19,92.40 L622.19,92.50 L622.20,92.60 L622.20,92.70 L622.20,92.80 L622.21,92.90 L622.21,93.00 L622.21,93.10 L622.21,93.20 L622.22,93.30 L622.22,93.40 L622.22,93.50 L622.22,93.60 L622.22,93.70 L622.23,93.80 L622.23,93.90 L622.23,94.00 L622.23,94.10 L622.23,94.20 L622.23,94.30 L622.23,94.40 L622.24,94.50 L622.24,94.60 L622.24,94.70 L622.24,94.80 L622.24,94.90 L622.24,95.00 L622.24,95.10 L622.24,95.20 L622.25,95.30 L622.25,95.40 L622.25,95.50 L622.25,95.60 L622.25,95.70 L622.25,95.80 L622.25,95.90 L622.25,96.00 L622.25,96.10 L622.25,96.20 L622.25,96.30 L622.25,96.40 L622.26,96.50 L622.26,96.60 L622.26,96.70 L622.26,96.80 L622.26,96.90 L622.26,97.00 L622.26,97.10 L622.26,97.20 L622.26,97.30 L622.26,97.40 L622.26,97.50 L622.26,97.60 L622.26,97.70 L622.26,97.80 L622.26,97.90 L622.26,98.00 L622.26,98.10 L622.26,98.20 L622.26,98.30 L622.26,98.40 L622.27,98.50 L622.27,98.60 L622.27,98.70 L622.27,98.80 L622.27,98.90 L622.27,99.00 L622.27,99.10 L622.27,99.20 L622.27,99.30 L622.27,99.40 L622.27,99.50 L622.27,99.60 L622.27,99.70 L622.27,99.80 L622.27,99.90 L622.27,100.00 L622.27,100.10 L622.27,100.20 L622.27,100.30 L622.27,100.40 L622.27,100.50 L622.27,100.60 L622.27,100.70 L622.27,100.80 L622.27,100.90 L622.27,101.00 L622.27,101.10 L622.26,101.20 L622.26,101.30 L622.26,101.40 L622.26,101.50 L622.26,101.60 L622.26,101.70 L622.26,101.80 L622.26,101.90 L622.26,102.00 L622.26,102.10 L622.25,102.20 L622.25,102.30 L622.25,102.40 L622.25,102.50 L622.24,102.60 L622.24,102.70 L622.24,102.80 L622.23,102.90 L622.22,103.00 L622.22,103.10 L622.21,103.20 L622.20,103.30 L622.19,103.40 L622.18,103.50 L622.16,103.60 L622.14,103.70 L622.11,103.80 L622.08,103.90 L622.04,104.00 L621.98,104.10 L621.91,104.20 L621.81,104.30 L621.67,104.40 L621.47,104.50 L621.20,104.60 L620.86,104.70 L620.53,104.80 L620.39,104.90 L620.54,105.00 L620.86,105.10 L621.20,105.20 L621.47,105.30 L621.67,105.40 L621.81,105.50 L621.91,105.60 L621.99,105.70 L622.04,105.80 L622.09,105.90 L622.12,106.00 L622.15,106.10 L622.17,106.20 L622.18,106.30 L622.20,106.40 L622.21,106.50 L622.22,106.60 L622.23,106.70 L622.23,106.80 L622.24,106.90 L622.25,107.00 L622.25,107.10 L622.25,107.20 L622.26,107.30 L622.26,107.40 L622.26,107.50 L622.27,107.60 L622.27,107.70 L622.27,107.80 L622.27,107.90 L622.28,108.00 L622.28,108.10 L622.28,108.20 L622.28,108.30 L622.32,112.10 L622.32,112.20 L622.32,112.30 L622.32,112.40 L622.33,112.50 L622.33,112.60 L622.33,112.70 L622.33,112.80 L622.34,112.90 L622.34,113.00 L622.34,113.10 L622.35,113.20 L622.35,113.30 L622.36,113.40 L622.36,113.50 L622.37,113.60 L622.38,113.70 L622.38,113.80 L622.40,113.90 L622.41,114.00 L622.42,114.10 L622.44,114.20 L622.47,114.30 L622.50,114.40 L622.53,114.50 L622.58,114.60 L622.65,114.70 L622.74,114.80 L622.87,114.90 L623.05,115.00 L623.29,115.10 L623.60,115.20 L623.89,115.30 L624.02,115.40 L623.89,115.50 L623.60,115.60 L623.30,115.70 L623.05,115.80 L622.88,115.90 L622.75,116.00 L622.66,116.10 L622.59,116.20 L622.54,116.30 L622.51,116.40 L622.48,116.50 L622.46,116.60 L622.44,116.70 L622.42,116.80 L622.41,116.90 L622.40,117.00 L622.40,117.10 L622.39,117.20 L622.39,117.30 L622.38,117.40 L622.38,117.50 L622.37,117.60 L622.37,117.70 L622.37,117.80 L622.37,117.90 L622.37,118.00 L622.37,118.10 L622.37,118.20 L622.37,118.30 L622.37,118.40 L622.37,118.50 L622.37,118.60 L622.37,118.70 L622.37,118.80 L622.37,118.90 L622.37,119.00 L622.37,119.10 L622.37,119.20 L622.38,119.30 L622.38,119.40 L622.38,119.50 L622.38,119.60 L622.39,119.70 L622.39,119.80 L622.39,119.90 L622.40,120.00 L622.40,120.10 L622.41,120.20 L622.41,120.30 L622.42,120.40 L622.42,120.50 L622.43,120.60 L622.44,120.70 L622.44,120.80 L622.45,120.90 L622.46,121.00 L622.47,121.10 L622.49,121.20 L622.50,121.30 L622.52,121.40 L622.54,121.50 L622.56,121.60 L622.58,121.70 L622.61,121.80 L622.64,121.90 L622.68,122.00 L622.73,122.10 L622.78,122.20 L622.85,122.30 L622.93,122.40 L623.03,122.50 L623.16,122.60 L623.33,122.70 L623.55,122.80 L623.85,122.90 L624.26,123.00 L624.82,123.10 L625.61,123.20 L626.68,123.30 L628.02,123.40 L629.30,123.50 L629.87,123.60 L629.31,123.70 L628.03,123.80 L626.71,123.90 L625.64,124.00 L624.86,124.10 L624.30,124.20 L623.91,124.30 L623.62,124.40 L623.41,124.50 L623.25,124.60 L623.14,124.70 L623.05,124.80 L622.99,124.90 L622.94,125.00 L622.91,125.10 L622.89,125.20 L622.89,125.30 L622.90,125.40 L622.93,125.50 L622.98,125.60 L623.06,125.70 L623.17,125.80 L623.33,125.90 L623.55,126.00 L623.88,126.10 L624.33,126.20 L624.89,126.30 L625.42,126.40 L625.66,126.50 L625.41,126.60 L624.86,126.70 L624.29,126.80 L623.83,126.90 L623.49,127.00 L623.25,127.10 L623.08,127.20 L622.95,127.30 L622.86,127.40 L622.78,127.50 L622.73,127.60 L622.69,127.70 L622.65,127.80 L622.63,127.90 L622.60,128.00 L622.59,128.10 L622.57,128.20 L622.56,128.30 L622.56,128.40 L622.55,128.50 L622.55,128.60 L622.55,128.70 L622.55,128.80 L622.55,128.90 L622.55,129.00 L622.56,129.10 L622.56,129.20 L622.57,129.30 L622.58,129.40 L622.59,129.50 L622.61,129.60 L622.63,129.70 L622.65,129.80 L622.68,129.90 L622.71,130.00 L622.75,130.10 L622.80,130.20 L622.86,130.30 L622.93,130.40 L623.02,130.50 L623.13,130.60 L623.28,130.70 L623.47,130.80 L623.73,130.90 L624.09,131.00 L624.59,131.10 L625.28,131.20 L626.23,131.30 L627.40,131.40 L628.53,131.50 L629.03,131.60 L628.54,131.70 L627.42,131.80 L626.25,131.90 L625.31,132.00 L624.62,132.10 L624.14,132.20 L623.79,132.30 L623.53,132.40 L623.35,132.50 L623.21,132.60 L623.11,132.70 L623.03,132.80 L622.97,132.90 L622.92,133.00 L622.89,133.10 L622.86,133.20 L622.84,133.30 L622.83,133.40 L622.83,133.50 L622.83,133.60 L622.84,133.70 L622.85,133.80 L622.87,133.90 L622.89,134.00 L622.93,134.10 L622.96,134.20 L623.01,134.30 L623.07,134.40 L623.13,134.50 L623.22,134.60 L623.32,134.70 L623.44,134.80 L623.59,134.90 L623.78,135.00 L624.01,135.10 L624.31,135.20 L624.71,135.30 L625.22,135.40 L625.91,135.50 L626.87,135.60 L628.19,135.70 L630.04,135.80 L632.57,135.90 L635.71,136.00 L638.73,136.10 L640.06,136.20 L638.73,136.30 L635.71,136.40 L632.57,136.50 L630.04,136.60 L628.18,136.70 L626.86,136.80 L625.90,136.90 L625.21,137.00 L624.69,137.10 L624.30,137.20 L623.99,137.30 L623.76,137.40 L623.57,137.50 L623.41,137.60 L623.29,137.70 L623.19,137.80 L623.10,137.90 L623.03,138.00 L622.98,138.10 L622.93,138.20 L622.89,138.30 L622.86,138.40 L622.83,138.50 L622.81,138.60 L622.80,138.70 L622.80,138.80 L622.80,138.90 L622.81,139.00 L622.83,139.10 L622.87,139.20 L622.93,139.30 L623.01,139.40 L623.12,139.50 L623.29,139.60 L623.53,139.70 L623.86,139.80 L624.28,139.90 L624.68,140.00 L624.86,140.10 L624.67,140.20 L624.25,140.30 L623.82,140.40 L623.47,140.50 L623.21,140.60 L623.03,140.70 L622.89,140.80 L622.79,140.90 L622.72,141.00 L622.66,141.10 L622.62,141.20 L622.58,141.30 L622.55,141.40 L622.53,141.50 L622.51,141.60 L622.49,141.70 L622.48,141.80 L622.46,141.90 L622.45,142.00 L622.44,142.10 L622.43,142.20 L622.43,142.30 L622.42,142.40 L622.41,142.50 L622.41,142.60 L622.40,142.70 L622.40,142.80 L622.39,142.90 L622.39,143.00 L622.39,143.10 L622.38,143.20 L622.38,143.30 L622.38,143.40 L622.37,143.50 L622.37,143.60 L622.37,143.70 L622.37,143.80 L622.36,143.90 L622.36,144.00 L622.36,144.10 L622.36,144.20 L622.36,144.30 L622.35,144.40 L622.35,144.50 L622.35,144.60 L622.35,144.70 L622.35,144.80 L622.35,144.90 L622.35,145.00 L622.34,145.10 L622.34,145.20 L622.34,145.30 L622.34,145.40 L622.34,145.50 L622.34,145.60 L622.34,145.70 L622.34,145.80 L622.34,145.90 L622.34,146.00 L622.33,146.10 L622.33,146.20 L622.33,146.30 L622.33,146.40 L622.33,146.50 L622.33,146.60 L622.33,146.70 L622.33,146.80 L622.33,146.90 L622.33,147.00 L622.33,147.10 L622.33,147.20 L622.33,147.30 L622.33,147.40 L622.33,147.50 L622.33,147.60 L622.32,147.70 L622.32,147.80 L622.32,147.90 L622.32,148.00 L622.32,148.10 L622.32,148.20 L622.32,148.30 L622.32,148.40 L622.32,148.50 L622.32,148.60 L622.32,148.70 L622.32,148.80 L622.32,148.90 L622.32,149.00 L622.31,157.90 Z" fill="#fb8a1c" stroke="#fb8a1c" stroke-width="1.3" stroke-linejoin="round"/>
<line x1="459.00" y1="68.50" x2="558.80" y2="68.50" stroke="#222" stroke-width="1.3" stroke-dasharray="4.8,4.05" stroke-dashoffset="3.65"/>
<line x1="568.90" y1="68.70" x2="676.00" y2="68.70" stroke="#222" stroke-width="1.3" stroke-dasharray="4.4,3.9" stroke-dashoffset="7.5"/>
<rect x="24.40" y="208.40" width="199.40" height="142.40" fill="none" stroke="#3a3a3a" stroke-width="1.3"/>
<rect x="253.00" y="209.30" width="199.20" height="142.30" fill="none" stroke="#3a3a3a" stroke-width="1.3"/>
<path d="M39.30,83.00 L62.05,82.98 L62.30,82.97 L62.55,82.95 L62.80,82.93 L63.05,82.89 L63.30,82.85 L63.55,82.78 L63.80,82.70 L64.05,82.60 L64.30,82.49 L64.55,82.36 L64.80,82.21 L65.05,82.06 L65.30,81.91 L65.55,81.77 L65.80,81.65 L66.05,81.57 L66.30,81.51 L66.55,81.50 L66.80,81.53 L67.05,81.60 L67.30,81.70 L67.55,81.83 L67.80,81.97 L68.05,82.12 L68.30,82.27 L68.55,82.41 L68.80,82.54 L69.05,82.65 L69.30,82.74 L69.55,82.81 L69.80,82.87 L70.05,82.91 L70.30,82.94 L70.55,82.96 L70.80,82.98 L71.05,82.98 L88.05,82.99 L88.30,82.97 L88.55,82.94 L88.80,82.89 L89.05,82.80 L89.30,82.65 L89.55,82.41 L89.80,82.03 L90.05,81.48 L90.30,80.69 L90.55,79.61 L90.80,78.22 L91.05,76.51 L91.30,74.49 L91.55,72.26 L91.80,69.94 L92.05,67.69 L92.30,65.70 L92.55,64.16 L92.80,63.24 L93.05,63.01 L93.30,63.53 L93.55,64.71 L93.80,66.45 L94.05,68.57 L94.30,70.87 L94.55,73.17 L94.80,75.33 L95.05,77.23 L95.30,78.82 L95.55,80.08 L95.80,81.03 L96.05,81.72 L96.30,82.20 L96.55,82.52 L96.80,82.72 L97.05,82.84 L97.30,82.92 L97.55,82.96 L97.80,82.98 L98.05,82.99 L99.55,82.99 L99.80,82.97 L100.05,82.95 L100.30,82.92 L100.55,82.86 L100.80,82.77 L101.05,82.62 L101.30,82.39 L101.55,82.04 L101.80,81.54 L102.05,80.83 L102.30,79.85 L102.55,78.53 L102.80,76.82 L103.05,74.65 L103.30,72.00 L103.55,68.85 L103.80,65.24 L104.05,61.25 L104.30,57.01 L104.55,52.69 L104.80,48.50 L105.05,44.69 L105.30,41.47 L105.55,39.07 L105.80,37.66 L106.05,37.32 L106.30,38.10 L106.55,39.92 L106.80,42.67 L107.05,46.15 L107.30,50.15 L107.55,54.42 L107.80,58.73 L108.05,62.89 L108.30,66.74 L108.55,70.17 L108.80,73.12 L109.05,75.57 L109.30,77.55 L109.55,79.10 L109.80,80.28 L110.05,81.14 L110.30,81.77 L110.55,82.20 L110.80,82.49 L111.05,82.69 L111.30,82.81 L111.55,82.89 L111.80,82.94 L112.05,82.96 L112.30,82.98 L218.55,83.00" fill="none" stroke="#7570b0" stroke-width="1.65" stroke-linejoin="round" opacity="1"/>
<path d="M39.30,83.00 L62.30,83.02 L62.55,83.03 L62.80,83.04 L63.05,83.07 L63.30,83.10 L63.55,83.14 L63.80,83.20 L64.05,83.28 L64.30,83.37 L64.55,83.49 L64.80,83.62 L65.05,83.76 L65.30,83.91 L65.55,84.06 L65.80,84.20 L66.05,84.32 L66.30,84.42 L66.55,84.48 L66.80,84.50 L67.05,84.48 L67.30,84.42 L67.55,84.32 L67.80,84.20 L68.05,84.06 L68.30,83.91 L68.55,83.76 L68.80,83.62 L69.05,83.49 L69.30,83.37 L69.55,83.28 L69.80,83.20 L70.05,83.14 L70.30,83.10 L70.55,83.07 L70.80,83.04 L71.05,83.03 L71.30,83.02 L106.05,83.02 L106.30,83.03 L106.55,83.07 L106.80,83.13 L107.05,83.23 L107.30,83.40 L107.55,83.65 L107.80,84.03 L108.05,84.55 L108.30,85.24 L108.55,86.11 L108.80,87.12 L109.05,88.23 L109.30,89.36 L109.55,90.41 L109.80,91.27 L110.05,91.85 L110.30,92.08 L110.55,91.96 L110.80,91.52 L111.05,90.85 L111.30,90.07 L111.55,89.28 L111.80,88.58 L112.05,88.02 L112.30,87.59 L112.55,87.26 L112.80,86.97 L113.05,86.65 L113.30,86.26 L113.55,85.81 L113.80,85.31 L114.05,84.80 L114.30,84.32 L114.55,83.92 L114.80,83.60 L115.05,83.37 L115.30,83.22 L115.55,83.12 L115.80,83.06 L116.05,83.03 L116.30,83.03 L116.55,83.03 L116.80,83.05 L117.05,83.09 L117.30,83.16 L117.55,83.27 L117.80,83.44 L118.05,83.68 L118.30,84.02 L118.55,84.47 L118.80,85.02 L119.05,85.65 L119.30,86.34 L119.55,87.02 L119.80,87.64 L120.05,88.13 L120.30,88.43 L120.55,88.50 L120.80,88.34 L121.05,87.97 L121.30,87.44 L121.55,86.81 L121.80,86.17 L122.05,85.58 L122.30,85.12 L122.55,84.82 L122.80,84.75 L123.05,84.93 L123.30,85.41 L123.55,86.23 L123.80,87.44 L124.05,89.07 L124.30,91.16 L124.55,93.72 L124.80,96.71 L125.05,100.06 L125.30,103.67 L125.55,107.35 L125.80,110.89 L126.05,114.09 L126.30,116.69 L126.55,118.52 L126.80,119.42 L127.05,119.32 L127.30,118.23 L127.55,116.23 L127.80,113.49 L128.05,110.21 L128.30,106.61 L128.55,102.93 L128.80,99.36 L129.05,96.07 L129.30,93.15 L129.55,90.67 L129.80,88.63 L130.05,87.02 L130.30,85.80 L130.55,84.89 L130.80,84.24 L131.05,83.79 L131.30,83.49 L131.55,83.30 L131.80,83.18 L132.05,83.10 L132.30,83.06 L132.55,83.03 L132.80,83.02 L135.05,83.02 L135.30,83.03 L135.55,83.07 L135.80,83.12 L136.05,83.23 L136.30,83.40 L136.55,83.68 L136.80,84.11 L137.05,84.75 L137.30,85.66 L137.55,86.89 L137.80,88.49 L138.05,90.47 L138.30,92.78 L138.55,95.35 L138.80,98.02 L139.05,100.61 L139.30,102.90 L139.55,104.66 L139.80,105.73 L140.05,105.98 L140.30,105.40 L140.55,104.03 L140.80,102.03 L141.05,99.60 L141.30,96.95 L141.55,94.30 L141.80,91.82 L142.05,89.63 L142.30,87.81 L142.55,86.36 L142.80,85.26 L143.05,84.47 L143.30,83.92 L143.55,83.55 L143.80,83.32 L144.05,83.18 L144.30,83.10 L144.55,83.05 L144.80,83.03 L145.05,83.01 L218.55,83.00" fill="none" stroke="#7570b0" stroke-width="1.65" stroke-linejoin="round" opacity="1"/>
<path d="M39.30,83.00 L61.80,82.99 L62.05,82.98 L62.30,82.96 L62.55,82.92 L62.80,82.87 L63.05,82.79 L63.30,82.67 L63.55,82.50 L63.80,82.27 L64.05,81.98 L64.30,81.62 L64.55,81.21 L64.80,80.75 L65.05,80.28 L65.30,79.83 L65.55,79.43 L65.80,79.11 L66.05,78.90 L66.30,78.79 L66.55,78.78 L66.80,78.83 L67.05,78.89 L67.30,78.89 L67.55,78.78 L67.80,78.49 L68.05,77.97 L68.30,77.23 L68.55,76.27 L68.80,75.14 L69.05,73.91 L69.30,72.69 L69.55,71.59 L69.80,70.72 L70.05,70.16 L70.30,69.97 L70.55,70.19 L70.80,70.80 L71.05,71.73 L71.30,72.93 L71.55,74.27 L71.80,75.68 L72.05,77.05 L72.30,78.31 L72.55,79.43 L72.80,80.36 L73.05,81.11 L73.30,81.69 L73.55,82.12 L73.80,82.43 L74.05,82.64 L74.30,82.78 L74.55,82.87 L74.80,82.93 L75.05,82.96 L75.30,82.98 L75.55,82.99 L95.55,82.99 L95.80,82.98 L96.05,82.95 L96.30,82.91 L96.55,82.83 L96.80,82.70 L97.05,82.49 L97.30,82.14 L97.55,81.61 L97.80,80.83 L98.05,79.70 L98.30,78.14 L98.55,76.08 L98.80,73.45 L99.05,70.24 L99.30,66.48 L99.55,62.28 L99.80,57.83 L100.05,53.38 L100.30,49.25 L100.55,45.74 L100.80,43.16 L101.05,41.74 L101.30,41.61 L101.55,42.78 L101.80,45.14 L102.05,48.49 L102.30,52.52 L102.55,56.93 L102.80,61.40 L103.05,65.67 L103.30,69.53 L103.55,72.86 L103.80,75.60 L104.05,77.77 L104.30,79.42 L104.55,80.63 L104.80,81.48 L105.05,82.05 L105.30,82.43 L105.55,82.67 L105.80,82.81 L106.05,82.90 L106.30,82.95 L106.55,82.97 L106.80,82.99 L215.30,82.99 L215.55,82.97 L215.80,82.95 L216.05,82.90 L216.30,82.82 L216.55,82.70 L216.80,82.53 L217.05,82.30 L217.30,82.03 L217.55,81.73 L217.80,81.43 L218.05,81.19 L218.30,81.04 L218.55,81.00" fill="none" stroke="#50b9b9" stroke-width="1.65" stroke-linejoin="round" opacity="1"/>
<path d="M39.30,83.00 L63.30,83.01 L63.55,83.02 L63.80,83.04 L64.05,83.06 L64.30,83.10 L64.55,83.14 L64.80,83.21 L65.05,83.29 L65.30,83.40 L65.55,83.53 L65.80,83.68 L66.05,83.86 L66.30,84.05 L66.55,84.25 L66.80,84.45 L67.05,84.64 L67.30,84.79 L67.55,84.91 L67.80,84.98 L68.05,85.00 L68.30,84.96 L68.55,84.87 L68.80,84.73 L69.05,84.57 L69.30,84.37 L69.55,84.17 L69.80,83.97 L70.05,83.79 L70.30,83.62 L70.55,83.47 L70.80,83.35 L71.05,83.25 L71.30,83.18 L71.55,83.12 L71.80,83.08 L72.05,83.05 L72.30,83.03 L72.55,83.02 L72.80,83.01 L165.05,83.01 L165.30,83.03 L165.55,83.05 L165.80,83.09 L166.05,83.15 L166.30,83.26 L166.55,83.43 L166.80,83.69 L167.05,84.09 L167.30,84.67 L167.55,85.52 L167.80,86.69 L168.05,88.29 L168.30,90.39 L168.55,93.08 L168.80,96.41 L169.05,100.41 L169.30,105.06 L169.55,110.28 L169.80,115.93 L170.05,121.78 L170.30,127.57 L170.55,132.99 L170.80,137.71 L171.05,141.44 L171.30,143.92 L171.55,144.97 L171.80,144.52 L172.05,142.60 L172.30,139.34 L172.55,134.98 L172.80,129.80 L173.05,124.12 L173.30,118.26 L173.55,112.50 L173.80,107.09 L174.05,102.20 L174.30,97.93 L174.55,94.33 L174.80,91.39 L175.05,89.06 L175.30,87.28 L175.55,85.94 L175.80,84.98 L176.05,84.30 L176.30,83.83 L176.55,83.52 L176.80,83.32 L177.05,83.19 L177.30,83.11 L177.55,83.06 L177.80,83.03 L178.05,83.02 L215.30,83.01 L215.55,83.03 L215.80,83.05 L216.05,83.10 L216.30,83.18 L216.55,83.30 L216.80,83.47 L217.05,83.70 L217.30,83.97 L217.55,84.27 L217.80,84.57 L218.05,84.81 L218.30,84.96 L218.55,85.00" fill="none" stroke="#50b9b9" stroke-width="1.65" stroke-linejoin="round" opacity="1"/>
<path d="M39.30,83.00 L62.05,82.98 L62.30,82.97 L62.55,82.95 L62.80,82.93 L63.05,82.89 L63.30,82.83 L63.55,82.75 L63.80,82.65 L64.05,82.52 L64.30,82.35 L64.55,82.16 L64.80,81.93 L65.05,81.68 L65.30,81.42 L65.55,81.16 L65.80,80.92 L66.05,80.71 L66.30,80.54 L66.55,80.44 L66.80,80.40 L67.05,80.44 L67.30,80.54 L67.55,80.71 L67.80,80.92 L68.05,81.16 L68.30,81.42 L68.55,81.68 L68.80,81.93 L69.05,82.16 L69.30,82.35 L69.55,82.52 L69.80,82.65 L70.05,82.75 L70.30,82.83 L70.55,82.89 L70.80,82.93 L71.05,82.95 L71.30,82.97 L71.55,82.98 L96.80,82.99 L97.05,82.97 L97.30,82.95 L97.55,82.91 L97.80,82.85 L98.05,82.75 L98.30,82.58 L98.55,82.33 L98.80,81.94 L99.05,81.38 L99.30,80.57 L99.55,79.45 L99.80,77.95 L100.05,75.97 L100.30,73.47 L100.55,70.37 L100.80,66.69 L101.05,62.43 L101.30,57.68 L101.55,52.59 L101.80,47.37 L102.05,42.24 L102.30,37.51 L102.55,33.45 L102.80,30.34 L103.05,28.37 L103.30,27.70 L103.55,28.37 L103.80,30.34 L104.05,33.45 L104.30,37.51 L104.55,42.24 L104.80,47.37 L105.05,52.59 L105.30,57.68 L105.55,62.43 L105.80,66.69 L106.05,70.37 L106.30,73.47 L106.55,75.97 L106.80,77.95 L107.05,79.45 L107.30,80.57 L107.55,81.38 L107.80,81.94 L108.05,82.33 L108.30,82.58 L108.55,82.75 L108.80,82.85 L109.05,82.91 L109.30,82.95 L109.55,82.97 L109.80,82.99 L126.05,82.98 L126.30,82.97 L126.55,82.94 L126.80,82.90 L127.05,82.83 L127.30,82.73 L127.55,82.57 L127.80,82.35 L128.05,82.03 L128.30,81.59 L128.55,81.02 L128.80,80.29 L129.05,79.39 L129.30,78.33 L129.55,77.12 L129.80,75.79 L130.05,74.41 L130.30,73.05 L130.55,71.79 L130.80,70.71 L131.05,69.90 L131.30,69.42 L131.55,69.31 L131.80,69.57 L132.05,70.19 L132.30,71.12 L132.55,72.28 L132.80,73.59 L133.05,74.97 L133.30,76.33 L133.55,77.62 L133.80,78.77 L134.05,79.77 L134.30,80.60 L134.55,81.27 L134.80,81.78 L135.05,82.17 L135.30,82.45 L135.55,82.64 L135.80,82.77 L136.05,82.86 L136.30,82.92 L136.55,82.95 L136.80,82.97 L137.05,82.99 L218.55,83.00" fill="none" stroke="#3889c0" stroke-width="1.65" stroke-linejoin="round" opacity="1"/>
<path d="M39.30,83.00 L62.30,83.02 L62.55,83.03 L62.80,83.04 L63.05,83.07 L63.30,83.10 L63.55,83.14 L63.80,83.20 L64.05,83.28 L64.30,83.37 L64.55,83.49 L64.80,83.62 L65.05,83.76 L65.30,83.91 L65.55,84.06 L65.80,84.20 L66.05,84.32 L66.30,84.42 L66.55,84.48 L66.80,84.50 L67.05,84.48 L67.30,84.42 L67.55,84.32 L67.80,84.20 L68.05,84.06 L68.30,83.91 L68.55,83.76 L68.80,83.62 L69.05,83.49 L69.30,83.37 L69.55,83.28 L69.80,83.20 L70.05,83.14 L70.30,83.10 L70.55,83.07 L70.80,83.04 L71.05,83.03 L71.30,83.02 L106.80,83.01 L107.05,83.03 L107.30,83.05 L107.55,83.09 L107.80,83.16 L108.05,83.28 L108.30,83.48 L108.55,83.78 L108.80,84.25 L109.05,84.94 L109.30,85.94 L109.55,87.33 L109.80,89.19 L110.05,91.62 L110.30,94.67 L110.55,98.36 L110.80,102.67 L111.05,107.49 L111.30,112.67 L111.55,117.95 L111.80,123.05 L112.05,127.63 L112.30,131.37 L112.55,133.99 L112.80,135.28 L113.05,135.14 L113.30,133.57 L113.55,130.70 L113.80,126.77 L114.05,122.06 L114.30,116.90 L114.55,111.61 L114.80,106.49 L115.05,101.76 L115.30,97.57 L115.55,94.01 L115.80,91.09 L116.05,88.79 L116.30,87.04 L116.55,85.75 L116.80,84.84 L117.05,84.23 L117.30,83.85 L117.55,83.64 L117.80,83.56 L118.05,83.58 L118.30,83.67 L118.55,83.83 L118.80,84.05 L119.05,84.30 L119.30,84.58 L119.55,84.88 L119.80,85.18 L120.05,85.46 L120.30,85.69 L120.55,85.87 L120.80,85.97 L121.05,86.00 L121.30,85.94 L121.55,85.80 L121.80,85.60 L122.05,85.35 L122.30,85.06 L122.55,84.76 L122.80,84.46 L123.05,84.18 L123.30,83.93 L123.55,83.71 L123.80,83.53 L124.05,83.38 L124.30,83.27 L124.55,83.18 L124.80,83.12 L125.05,83.08 L125.30,83.05 L125.55,83.03 L125.80,83.02 L129.80,83.01 L130.05,83.02 L130.30,83.04 L130.55,83.08 L130.80,83.15 L131.05,83.28 L131.30,83.50 L131.55,83.84 L131.80,84.38 L132.05,85.17 L132.30,86.30 L132.55,87.83 L132.80,89.81 L133.05,92.25 L133.30,95.12 L133.55,98.30 L133.80,101.61 L134.05,104.82 L134.30,107.65 L134.55,109.84 L134.80,111.16 L135.05,111.48 L135.30,110.75 L135.55,109.06 L135.80,106.58 L136.05,103.57 L136.30,100.29 L136.55,97.00 L136.80,93.93 L137.05,91.22 L137.30,88.96 L137.55,87.16 L137.80,85.80 L138.05,84.82 L138.30,84.14 L138.55,83.68 L138.80,83.40 L139.05,83.22 L139.30,83.12 L139.55,83.06 L139.80,83.03 L140.05,83.02 L218.55,83.00" fill="none" stroke="#3889c0" stroke-width="1.65" stroke-linejoin="round" opacity="1"/>
<path d="M39.30,83.00 L68.55,82.99 L68.80,82.98 L69.05,82.95 L69.30,82.90 L69.55,82.81 L69.80,82.66 L70.05,82.45 L70.30,82.18 L70.55,81.85 L70.80,81.52 L71.05,81.23 L71.30,81.05 L71.55,81.00 L71.80,81.09 L72.05,81.31 L72.30,81.60 L72.55,81.88 L72.80,82.10 L73.05,82.22 L73.30,82.21 L73.55,82.08 L73.80,81.85 L74.05,81.56 L74.30,81.26 L74.55,81.01 L74.80,80.84 L75.05,80.80 L75.30,80.89 L75.55,81.10 L75.80,81.38 L76.05,81.69 L76.30,81.96 L76.55,82.17 L76.80,82.26 L77.05,82.24 L77.30,82.10 L77.55,81.88 L77.80,81.63 L78.05,81.39 L78.30,81.23 L78.55,81.20 L78.80,81.30 L79.05,81.51 L79.30,81.79 L79.55,82.09 L79.80,82.37 L80.05,82.59 L80.30,82.76 L80.55,82.87 L80.80,82.93 L81.05,82.97 L81.30,82.99 L85.05,82.98 L85.30,82.96 L85.55,82.93 L85.80,82.87 L86.05,82.78 L86.30,82.65 L86.55,82.48 L86.80,82.27 L87.05,82.04 L87.30,81.83 L87.55,81.64 L87.80,81.53 L88.05,81.50 L88.30,81.56 L88.55,81.71 L88.80,81.90 L89.05,82.12 L89.30,82.32 L89.55,82.49 L89.80,82.60 L90.05,82.64 L90.30,82.61 L90.55,82.52 L90.80,82.39 L91.05,82.22 L91.30,82.05 L91.55,81.91 L91.80,81.82 L92.05,81.80 L92.30,81.84 L92.55,81.95 L92.80,82.09 L93.05,82.23 L93.30,82.34 L93.55,82.37 L93.80,82.30 L94.05,82.07 L94.30,81.64 L94.55,80.95 L94.80,79.91 L95.05,78.45 L95.30,76.49 L95.55,73.96 L95.80,70.84 L96.05,67.15 L96.30,63.00 L96.55,58.54 L96.80,54.04 L97.05,49.78 L97.30,46.08 L97.55,43.26 L97.80,41.56 L98.05,41.13 L98.30,42.01 L98.55,44.11 L98.80,47.22 L99.05,51.07 L99.30,55.33 L99.55,59.68 L99.80,63.83 L100.05,67.55 L100.30,70.71 L100.55,73.24 L100.80,75.12 L101.05,76.41 L101.30,77.19 L101.55,77.54 L101.80,77.58 L102.05,77.39 L102.30,77.05 L102.55,76.63 L102.80,76.19 L103.05,75.78 L103.30,75.42 L103.55,75.15 L103.80,74.97 L104.05,74.91 L104.30,74.94 L104.55,75.08 L104.80,75.31 L105.05,75.60 L105.30,75.93 L105.55,76.28 L105.80,76.64 L106.05,76.98 L106.30,77.29 L106.55,77.57 L106.80,77.82 L107.05,78.04 L107.30,78.26 L107.55,78.47 L107.80,78.71 L108.05,78.96 L108.30,79.25 L108.55,79.57 L108.80,79.91 L109.05,80.26 L109.30,80.61 L109.55,80.93 L109.80,81.21 L110.05,81.44 L110.30,81.60 L110.55,81.68 L110.80,81.67 L111.05,81.57 L111.30,81.38 L111.55,81.10 L111.80,80.73 L112.05,80.28 L112.30,79.77 L112.55,79.20 L112.80,78.61 L113.05,78.02 L113.30,77.45 L113.55,76.92 L113.80,76.47 L114.05,76.13 L114.30,75.90 L114.55,75.80 L114.80,75.84 L115.05,76.01 L115.30,76.30 L115.55,76.70 L115.80,77.18 L116.05,77.70 L116.30,78.25 L116.55,78.78 L116.80,79.28 L117.05,79.71 L117.30,80.07 L117.55,80.33 L117.80,80.49 L118.05,80.56 L118.30,80.55 L118.55,80.47 L118.80,80.34 L119.05,80.19 L119.30,80.05 L119.55,79.94 L119.80,79.87 L120.05,79.87 L120.30,79.93 L120.55,80.04 L120.80,80.21 L121.05,80.41 L121.30,80.62 L121.55,80.82 L121.80,80.99 L122.05,81.11 L122.30,81.17 L122.55,81.16 L122.80,81.08 L123.05,80.94 L123.30,80.72 L123.55,80.46 L123.80,80.15 L124.05,79.81 L124.30,79.46 L124.55,79.12 L124.80,78.79 L125.05,78.50 L125.30,78.26 L125.55,78.06 L125.80,77.93 L126.05,77.84 L126.30,77.81 L126.55,77.81 L126.80,77.83 L127.05,77.85 L127.30,77.84 L127.55,77.78 L127.80,77.66 L128.05,77.47 L128.30,77.19 L128.55,76.85 L128.80,76.47 L129.05,76.07 L129.30,75.70 L129.55,75.41 L129.80,75.23 L130.05,75.19 L130.30,75.32 L130.55,75.62 L130.80,76.07 L131.05,76.66 L131.30,77.35 L131.55,78.09 L131.80,78.85 L132.05,79.58 L132.30,80.26 L132.55,80.87 L132.80,81.38 L133.05,81.81 L133.30,82.14 L133.55,82.40 L133.80,82.59 L134.05,82.73 L134.30,82.83 L134.55,82.89 L134.80,82.93 L135.05,82.96 L135.30,82.98 L135.55,82.99 L218.55,83.00" fill="none" stroke="#26a026" stroke-width="1.65" stroke-linejoin="round" opacity="1"/>
<path d="M39.30,83.00 L69.80,83.01 L70.05,83.03 L70.30,83.06 L70.55,83.11 L70.80,83.20 L71.05,83.33 L71.30,83.52 L71.55,83.77 L71.80,84.07 L72.05,84.40 L72.30,84.72 L72.55,84.99 L72.80,85.16 L73.05,85.20 L73.30,85.12 L73.55,84.92 L73.80,84.65 L74.05,84.38 L74.30,84.14 L74.55,83.99 L74.80,83.95 L75.05,84.04 L75.30,84.23 L75.55,84.49 L75.80,84.77 L76.05,85.01 L76.30,85.17 L76.55,85.20 L76.80,85.11 L77.05,84.90 L77.30,84.61 L77.55,84.30 L77.80,84.02 L78.05,83.81 L78.30,83.69 L78.55,83.68 L78.80,83.77 L79.05,83.94 L79.30,84.15 L79.55,84.34 L79.80,84.47 L80.05,84.50 L80.30,84.42 L80.55,84.25 L80.80,84.01 L81.05,83.76 L81.30,83.53 L81.55,83.34 L81.80,83.20 L82.05,83.11 L82.30,83.06 L82.55,83.03 L82.80,83.01 L86.80,83.01 L87.05,83.02 L87.30,83.04 L87.55,83.08 L87.80,83.14 L88.05,83.24 L88.30,83.38 L88.55,83.56 L88.80,83.78 L89.05,84.02 L89.30,84.25 L89.55,84.45 L89.80,84.57 L90.05,84.60 L90.30,84.53 L90.55,84.38 L90.80,84.16 L91.05,83.92 L91.30,83.69 L91.55,83.49 L91.80,83.33 L92.05,83.22 L92.30,83.15 L92.55,83.14 L92.80,83.17 L93.05,83.24 L93.30,83.36 L93.55,83.53 L93.80,83.73 L94.05,83.96 L94.30,84.17 L94.55,84.36 L94.80,84.47 L95.05,84.50 L95.30,84.43 L95.55,84.29 L95.80,84.09 L96.05,83.86 L96.30,83.64 L96.55,83.45 L96.80,83.30 L97.05,83.18 L97.30,83.11 L97.55,83.06 L97.80,83.03 L98.05,83.01 L105.05,83.01 L105.30,83.02 L105.55,83.05 L105.80,83.09 L106.05,83.16 L106.30,83.29 L106.55,83.50 L106.80,83.83 L107.05,84.35 L107.30,85.12 L107.55,86.21 L107.80,87.73 L108.05,89.74 L108.30,92.29 L108.55,95.42 L108.80,99.09 L109.05,103.17 L109.30,107.50 L109.55,111.83 L109.80,115.86 L110.05,119.27 L110.30,121.78 L110.55,123.17 L110.80,123.30 L111.05,122.16 L111.30,119.86 L111.55,116.60 L111.80,112.68 L112.05,108.39 L112.30,104.05 L112.55,99.91 L112.80,96.18 L113.05,92.97 L113.30,90.35 L113.55,88.30 L113.80,86.79 L114.05,85.74 L114.30,85.07 L114.55,84.71 L114.80,84.58 L115.05,84.61 L115.30,84.76 L115.55,84.98 L115.80,85.23 L116.05,85.48 L116.30,85.70 L116.55,85.87 L116.80,85.98 L117.05,86.00 L117.30,85.94 L117.55,85.81 L117.80,85.60 L118.05,85.35 L118.30,85.06 L118.55,84.76 L118.80,84.46 L119.05,84.18 L119.30,83.93 L119.55,83.71 L119.80,83.53 L120.05,83.38 L120.30,83.27 L120.55,83.18 L120.80,83.12 L121.05,83.08 L121.30,83.05 L121.55,83.03 L121.80,83.02 L134.80,83.01 L135.05,83.02 L135.30,83.04 L135.55,83.08 L135.80,83.16 L136.05,83.30 L136.30,83.54 L136.55,83.93 L136.80,84.54 L137.05,85.47 L137.30,86.80 L137.55,88.65 L137.80,91.09 L138.05,94.16 L138.30,97.84 L138.55,102.01 L138.80,106.47 L139.05,110.93 L139.30,115.02 L139.55,118.39 L139.80,120.68 L140.05,121.67 L140.30,121.24 L140.55,119.45 L140.80,116.48 L141.05,112.63 L141.30,108.27 L141.55,103.78 L141.80,99.46 L142.05,95.56 L142.30,92.24 L142.55,89.55 L142.80,87.48 L143.05,85.95 L143.30,84.87 L143.55,84.14 L143.80,83.67 L144.05,83.38 L144.30,83.21 L144.55,83.11 L144.80,83.06 L145.05,83.03 L145.30,83.01 L169.05,83.01 L169.30,83.02 L169.55,83.04 L169.80,83.08 L170.05,83.13 L170.30,83.21 L170.55,83.34 L170.80,83.50 L171.05,83.72 L171.30,83.99 L171.55,84.30 L171.80,84.64 L172.05,84.97 L172.30,85.28 L172.55,85.52 L172.80,85.66 L173.05,85.70 L173.30,85.62 L173.55,85.43 L173.80,85.16 L174.05,84.84 L174.30,84.50 L174.55,84.17 L174.80,83.88 L175.05,83.63 L175.30,83.43 L175.55,83.28 L175.80,83.18 L176.05,83.11 L176.30,83.06 L176.55,83.03 L176.80,83.02 L218.55,83.00" fill="none" stroke="#26a026" stroke-width="1.65" stroke-linejoin="round" opacity="1"/>
<path d="M39.30,83.00 L61.55,82.98 L61.80,82.97 L62.05,82.96 L62.30,82.93 L62.55,82.90 L62.80,82.85 L63.05,82.78 L63.30,82.69 L63.55,82.58 L63.80,82.44 L64.05,82.28 L64.30,82.10 L64.55,81.91 L64.80,81.71 L65.05,81.51 L65.30,81.33 L65.55,81.18 L65.80,81.07 L66.05,81.01 L66.30,81.00 L66.55,81.05 L66.80,81.15 L67.05,81.30 L67.30,81.47 L67.55,81.67 L67.80,81.87 L68.05,82.07 L68.30,82.25 L68.55,82.41 L68.80,82.55 L69.05,82.67 L69.30,82.76 L69.55,82.83 L69.80,82.89 L70.05,82.93 L70.30,82.95 L70.55,82.97 L70.80,82.98 L71.05,82.98 L71.30,82.98 L71.55,82.96 L71.80,82.93 L72.05,82.88 L72.30,82.78 L72.55,82.61 L72.80,82.35 L73.05,81.94 L73.30,81.34 L73.55,80.50 L73.80,79.36 L74.05,77.91 L74.30,76.13 L74.55,74.06 L74.80,71.80 L75.05,69.48 L75.30,67.26 L75.55,65.35 L75.80,63.92 L76.05,63.13 L76.30,63.06 L76.55,63.71 L76.80,65.02 L77.05,66.85 L77.30,69.02 L77.55,71.34 L77.80,73.62 L78.05,75.73 L78.30,77.58 L78.55,79.10 L78.80,80.29 L79.05,81.19 L79.30,81.84 L79.55,82.28 L79.80,82.57 L80.05,82.75 L80.30,82.86 L80.55,82.93 L80.80,82.96 L81.05,82.98 L85.30,82.99 L85.55,82.97 L85.80,82.95 L86.05,82.90 L86.30,82.83 L86.55,82.71 L86.80,82.53 L87.05,82.26 L87.30,81.88 L87.55,81.36 L87.80,80.68 L88.05,79.85 L88.30,78.87 L88.55,77.79 L88.80,76.66 L89.05,75.57 L89.30,74.61 L89.55,73.86 L89.80,73.41 L90.05,73.31 L90.30,73.55 L90.55,74.13 L90.80,74.97 L91.05,76.00 L91.30,77.12 L91.55,78.23 L91.80,79.28 L92.05,80.20 L92.30,80.97 L92.55,81.58 L92.80,82.05 L93.05,82.38 L93.30,82.61 L93.55,82.77 L93.80,82.86 L94.05,82.92 L94.30,82.96 L94.55,82.98 L94.80,82.99 L161.30,82.99 L161.55,82.98 L161.80,82.95 L162.05,82.91 L162.30,82.84 L162.55,82.70 L162.80,82.47 L163.05,82.10 L163.30,81.52 L163.55,80.64 L163.80,79.35 L164.05,77.52 L164.30,75.04 L164.55,71.81 L164.80,67.75 L165.05,62.87 L165.30,57.27 L165.55,51.14 L165.80,44.79 L166.05,38.62 L166.30,33.06 L166.55,28.57 L166.80,25.53 L167.05,24.24 L167.30,24.80 L167.55,27.16 L167.80,31.11 L168.05,36.29 L168.30,42.28 L168.55,48.61 L168.80,54.87 L169.05,60.71 L169.30,65.89 L169.55,70.28 L169.80,73.84 L170.05,76.61 L170.30,78.69 L170.55,80.18 L170.80,81.21 L171.05,81.90 L171.30,82.35 L171.55,82.62 L171.80,82.79 L172.05,82.89 L172.30,82.94 L172.55,82.97 L172.80,82.99 L218.55,83.00" fill="none" stroke="#f89696" stroke-width="1.65" stroke-linejoin="round" opacity="1"/>
<path d="M39.30,83.00 L74.80,83.02 L75.05,83.03 L75.30,83.06 L75.55,83.11 L75.80,83.20 L76.05,83.34 L76.30,83.56 L76.55,83.88 L76.80,84.33 L77.05,84.95 L77.30,85.75 L77.55,86.73 L77.80,87.89 L78.05,89.17 L78.30,90.51 L78.55,91.81 L78.80,92.95 L79.05,93.83 L79.30,94.36 L79.55,94.49 L79.80,94.20 L80.05,93.52 L80.30,92.52 L80.55,91.30 L80.80,89.98 L81.05,88.65 L81.30,87.41 L81.55,86.32 L81.80,85.40 L82.05,84.68 L82.30,84.13 L82.55,83.73 L82.80,83.46 L83.05,83.28 L83.30,83.16 L83.55,83.09 L83.80,83.05 L84.05,83.03 L84.30,83.01 L88.30,83.02 L88.55,83.03 L88.80,83.06 L89.05,83.11 L89.30,83.19 L89.55,83.32 L89.80,83.53 L90.05,83.83 L90.30,84.26 L90.55,84.85 L90.80,85.60 L91.05,86.54 L91.30,87.64 L91.55,88.85 L91.80,90.12 L92.05,91.35 L92.30,92.43 L92.55,93.27 L92.80,93.77 L93.05,93.89 L93.30,93.61 L93.55,92.97 L93.80,92.02 L94.05,90.87 L94.30,89.61 L94.55,88.35 L94.80,87.18 L95.05,86.14 L95.30,85.28 L95.55,84.59 L95.80,84.07 L96.05,83.70 L96.30,83.43 L96.55,83.26 L96.80,83.15 L97.05,83.09 L97.30,83.05 L97.55,83.02 L97.80,83.01 L175.80,83.01 L176.05,83.02 L176.30,83.05 L176.55,83.09 L176.80,83.16 L177.05,83.28 L177.30,83.48 L177.55,83.79 L177.80,84.28 L178.05,85.02 L178.30,86.09 L178.55,87.59 L178.80,89.65 L179.05,92.35 L179.30,95.80 L179.55,100.05 L179.80,105.07 L180.05,110.79 L180.30,117.04 L180.55,123.55 L180.80,129.98 L181.05,135.94 L181.30,141.02 L181.55,144.85 L181.80,147.13 L182.05,147.66 L182.30,146.42 L182.55,143.49 L182.80,139.12 L183.05,133.64 L183.30,127.44 L183.55,120.93 L183.80,114.49 L184.05,108.43 L184.30,102.97 L184.55,98.25 L184.80,94.33 L185.05,91.19 L185.30,88.75 L185.55,86.93 L185.80,85.61 L186.05,84.69 L186.30,84.06 L186.55,83.65 L186.80,83.39 L187.05,83.22 L187.30,83.13 L187.55,83.07 L187.80,83.04 L188.05,83.02 L218.55,83.00" fill="none" stroke="#f89696" stroke-width="1.65" stroke-linejoin="round" opacity="1"/>
<path d="M226.30,83.00 L246.30,82.98 L246.55,82.97 L246.80,82.96 L247.05,82.94 L247.30,82.92 L247.55,82.89 L247.80,82.86 L248.05,82.82 L248.30,82.78 L248.55,82.73 L248.80,82.68 L249.05,82.63 L249.30,82.58 L249.55,82.54 L249.80,82.52 L250.05,82.50 L250.30,82.50 L250.55,82.51 L250.80,82.54 L251.05,82.57 L251.30,82.62 L251.55,82.67 L251.80,82.72 L252.05,82.77 L252.30,82.81 L252.55,82.85 L252.80,82.89 L253.05,82.92 L253.30,82.94 L253.55,82.96 L253.80,82.97 L254.05,82.98 L265.05,82.99 L265.30,82.98 L265.55,82.96 L265.80,82.92 L266.05,82.86 L266.30,82.76 L266.55,82.61 L266.80,82.38 L267.05,82.05 L267.30,81.60 L267.55,81.01 L267.80,80.27 L268.05,79.40 L268.30,78.43 L268.55,77.39 L268.80,76.38 L269.05,75.46 L269.30,74.73 L269.55,74.26 L269.80,74.10 L270.05,74.26 L270.30,74.73 L270.55,75.46 L270.80,76.38 L271.05,77.39 L271.30,78.43 L271.55,79.40 L271.80,80.27 L272.05,81.01 L272.30,81.60 L272.55,82.05 L272.80,82.38 L273.05,82.61 L273.30,82.76 L273.55,82.86 L273.80,82.92 L274.05,82.96 L274.30,82.98 L274.55,82.99 L277.05,82.99 L277.30,82.98 L277.55,82.96 L277.80,82.93 L278.05,82.87 L278.30,82.77 L278.55,82.61 L278.80,82.35 L279.05,81.96 L279.30,81.37 L279.55,80.51 L279.80,79.32 L280.05,77.71 L280.30,75.59 L280.55,72.92 L280.80,69.65 L281.05,65.82 L281.30,61.48 L281.55,56.79 L281.80,51.95 L282.05,47.22 L282.30,42.91 L282.55,39.30 L282.80,36.68 L283.05,35.24 L283.30,35.11 L283.55,36.29 L283.80,38.69 L284.05,42.12 L284.30,46.32 L284.55,50.99 L284.80,55.82 L285.05,60.56 L285.30,64.99 L285.55,68.93 L285.80,72.31 L286.05,75.11 L286.30,77.33 L286.55,79.04 L286.80,80.31 L287.05,81.22 L287.30,81.85 L287.55,82.28 L287.80,82.56 L288.05,82.74 L288.30,82.85 L288.55,82.92 L288.80,82.95 L289.05,82.98 L289.30,82.99 L292.05,82.99 L292.30,82.98 L292.55,82.96 L292.80,82.93 L293.05,82.89 L293.30,82.82 L293.55,82.73 L293.80,82.59 L294.05,82.41 L294.30,82.16 L294.55,81.85 L294.80,81.45 L295.05,80.99 L295.30,80.45 L295.55,79.86 L295.80,79.24 L296.05,78.62 L296.30,78.04 L296.55,77.53 L296.80,77.14 L297.05,76.89 L297.30,76.80 L297.55,76.89 L297.80,77.14 L298.05,77.53 L298.30,78.04 L298.55,78.62 L298.80,79.24 L299.05,79.86 L299.30,80.45 L299.55,80.99 L299.80,81.45 L300.05,81.85 L300.30,82.16 L300.55,82.41 L300.80,82.59 L301.05,82.73 L301.30,82.82 L301.55,82.89 L301.80,82.93 L302.05,82.96 L302.30,82.98 L302.55,82.99 L405.55,83.00" fill="none" stroke="#7570b0" stroke-width="1.65" stroke-linejoin="round" opacity="1"/>
<path d="M226.30,83.00 L267.80,83.01 L268.05,83.02 L268.30,83.04 L268.55,83.08 L268.80,83.13 L269.05,83.22 L269.30,83.34 L269.55,83.52 L269.80,83.75 L270.05,84.04 L270.30,84.37 L270.55,84.74 L270.80,85.12 L271.05,85.47 L271.30,85.75 L271.55,85.94 L271.80,86.00 L272.05,85.94 L272.30,85.75 L272.55,85.47 L272.80,85.12 L273.05,84.74 L273.30,84.37 L273.55,84.04 L273.80,83.75 L274.05,83.52 L274.30,83.34 L274.55,83.22 L274.80,83.13 L275.05,83.08 L275.30,83.04 L275.55,83.02 L275.80,83.01 L287.05,83.02 L287.30,83.03 L287.55,83.06 L287.80,83.11 L288.05,83.19 L288.30,83.31 L288.55,83.50 L288.80,83.77 L289.05,84.16 L289.30,84.68 L289.55,85.36 L289.80,86.22 L290.05,87.24 L290.30,88.43 L290.55,89.72 L290.80,91.06 L291.05,92.36 L291.30,93.53 L291.55,94.48 L291.80,95.12 L292.05,95.39 L292.30,95.27 L292.55,94.78 L292.80,93.94 L293.05,92.85 L293.30,91.59 L293.55,90.25 L293.80,88.93 L294.05,87.70 L294.30,86.61 L294.55,85.68 L294.80,84.93 L295.05,84.35 L295.30,83.91 L295.55,83.60 L295.80,83.38 L296.05,83.24 L296.30,83.16 L296.55,83.12 L296.80,83.12 L297.05,83.16 L297.30,83.26 L297.55,83.42 L297.80,83.69 L298.05,84.11 L298.30,84.73 L298.55,85.63 L298.80,86.89 L299.05,88.60 L299.30,90.84 L299.55,93.67 L299.80,97.12 L300.05,101.19 L300.30,105.78 L300.55,110.74 L300.80,115.86 L301.05,120.86 L301.30,125.43 L301.55,129.25 L301.80,132.03 L302.05,133.55 L302.30,133.69 L302.55,132.44 L302.80,129.89 L303.05,126.26 L303.30,121.82 L303.55,116.88 L303.80,111.76 L304.05,106.74 L304.30,102.07 L304.55,97.89 L304.80,94.31 L305.05,91.36 L305.30,89.00 L305.55,87.20 L305.80,85.85 L306.05,84.89 L306.30,84.21 L306.55,83.76 L306.80,83.46 L307.05,83.27 L307.30,83.16 L307.55,83.09 L307.80,83.05 L308.05,83.03 L308.30,83.01 L405.55,83.00" fill="none" stroke="#7570b0" stroke-width="1.65" stroke-linejoin="round" opacity="1"/>
<path d="M226.30,83.00 L255.80,82.99 L256.05,82.98 L256.30,82.96 L256.55,82.94 L256.80,82.90 L257.05,82.84 L257.30,82.76 L257.55,82.64 L257.80,82.49 L258.05,82.28 L258.30,82.01 L258.55,81.68 L258.80,81.29 L259.05,80.85 L259.30,80.37 L259.55,79.87 L259.80,79.37 L260.05,78.91 L260.30,78.52 L260.55,78.22 L260.80,78.04 L261.05,78.00 L261.30,78.10 L261.55,78.33 L261.80,78.66 L262.05,79.09 L262.30,79.57 L262.55,80.07 L262.80,80.57 L263.05,81.03 L263.30,81.46 L263.55,81.82 L263.80,82.12 L264.05,82.37 L264.30,82.56 L264.55,82.70 L264.80,82.80 L265.05,82.87 L265.30,82.92 L265.55,82.95 L265.80,82.97 L266.05,82.98 L268.05,82.98 L268.30,82.96 L268.55,82.92 L268.80,82.85 L269.05,82.72 L269.30,82.50 L269.55,82.14 L269.80,81.57 L270.05,80.71 L270.30,79.47 L270.55,77.76 L270.80,75.49 L271.05,72.65 L271.30,69.23 L271.55,65.36 L271.80,61.23 L272.05,57.09 L272.30,53.29 L272.55,50.17 L272.80,48.04 L273.05,47.13 L273.30,47.52 L273.55,49.19 L273.80,51.94 L274.05,55.51 L274.30,59.55 L274.55,63.73 L274.80,67.73 L275.05,71.34 L275.30,74.43 L275.55,76.92 L275.80,78.85 L276.05,80.27 L276.30,81.26 L276.55,81.94 L276.80,82.37 L277.05,82.64 L277.30,82.81 L277.55,82.90 L277.80,82.95 L278.05,82.97 L278.30,82.99 L405.55,83.00" fill="none" stroke="#50b9b9" stroke-width="1.65" stroke-linejoin="round" opacity="1"/>
<path d="M226.30,83.00 L285.30,83.01 L285.55,83.02 L285.80,83.04 L286.05,83.06 L286.30,83.10 L286.55,83.14 L286.80,83.21 L287.05,83.29 L287.30,83.40 L287.55,83.53 L287.80,83.68 L288.05,83.86 L288.30,84.05 L288.55,84.25 L288.80,84.45 L289.05,84.64 L289.30,84.79 L289.55,84.91 L289.80,84.98 L290.05,85.00 L290.30,84.96 L290.55,84.87 L290.80,84.73 L291.05,84.57 L291.30,84.37 L291.55,84.17 L291.80,83.97 L292.05,83.79 L292.30,83.62 L292.55,83.47 L292.80,83.35 L293.05,83.25 L293.30,83.18 L293.55,83.12 L293.80,83.08 L294.05,83.05 L294.30,83.03 L294.55,83.02 L294.80,83.01 L341.05,83.02 L341.30,83.03 L341.55,83.06 L341.80,83.11 L342.05,83.20 L342.30,83.34 L342.55,83.56 L342.80,83.91 L343.05,84.43 L343.30,85.18 L343.55,86.24 L343.80,87.70 L344.05,89.61 L344.30,92.04 L344.55,95.04 L344.80,98.59 L345.05,102.63 L345.30,107.04 L345.55,111.64 L345.80,116.19 L346.05,120.40 L346.30,123.99 L346.55,126.69 L346.80,128.30 L347.05,128.67 L347.30,127.80 L347.55,125.73 L347.80,122.64 L348.05,118.77 L348.30,114.39 L348.55,109.79 L348.80,105.24 L349.05,100.96 L349.30,97.11 L349.55,93.77 L349.80,91.00 L350.05,88.78 L350.30,87.06 L350.55,85.78 L350.80,84.85 L351.05,84.19 L351.30,83.75 L351.55,83.46 L351.80,83.27 L352.05,83.16 L352.30,83.09 L352.55,83.05 L352.80,83.03 L353.05,83.01 L405.55,83.00" fill="none" stroke="#50b9b9" stroke-width="1.65" stroke-linejoin="round" opacity="1"/>
<path d="M226.30,83.00 L253.05,82.98 L253.30,82.97 L253.55,82.95 L253.80,82.91 L254.05,82.86 L254.30,82.77 L254.55,82.66 L254.80,82.50 L255.05,82.31 L255.30,82.08 L255.55,81.84 L255.80,81.58 L256.05,81.35 L256.30,81.16 L256.55,81.02 L256.80,80.96 L257.05,80.97 L257.30,81.04 L257.55,81.14 L257.80,81.24 L258.05,81.28 L258.30,81.23 L258.55,81.02 L258.80,80.63 L259.05,80.03 L259.30,79.19 L259.55,78.13 L259.80,76.87 L260.05,75.47 L260.30,74.00 L260.55,72.57 L260.80,71.27 L261.05,70.22 L261.30,69.51 L261.55,69.21 L261.80,69.34 L262.05,69.89 L262.30,70.82 L262.55,72.04 L262.80,73.44 L263.05,74.93 L263.30,76.40 L263.55,77.77 L263.80,78.99 L264.05,80.02 L264.30,80.85 L264.55,81.50 L264.80,81.99 L265.05,82.34 L265.30,82.58 L265.55,82.74 L265.80,82.85 L266.05,82.91 L266.30,82.95 L266.55,82.97 L266.80,82.99 L285.80,82.98 L286.05,82.97 L286.30,82.94 L286.55,82.88 L286.80,82.80 L287.05,82.65 L287.30,82.41 L287.55,82.04 L287.80,81.49 L288.05,80.68 L288.30,79.52 L288.55,77.94 L288.80,75.84 L289.05,73.15 L289.30,69.81 L289.55,65.83 L289.80,61.25 L290.05,56.21 L290.30,50.91 L290.55,45.62 L290.80,40.64 L291.05,36.32 L291.30,32.96 L291.55,30.83 L291.80,30.10 L292.05,30.83 L292.30,32.96 L292.55,36.32 L292.80,40.64 L293.05,45.62 L293.30,50.91 L293.55,56.21 L293.80,61.25 L294.05,65.83 L294.30,69.81 L294.55,73.15 L294.80,75.84 L295.05,77.94 L295.30,79.52 L295.55,80.68 L295.80,81.49 L296.05,82.04 L296.30,82.41 L296.55,82.65 L296.80,82.80 L297.05,82.88 L297.30,82.94 L297.55,82.97 L297.80,82.98 L405.55,83.00" fill="none" stroke="#3889c0" stroke-width="1.65" stroke-linejoin="round" opacity="1"/>
<path d="M226.30,83.00 L258.80,83.01 L259.05,83.02 L259.30,83.04 L259.55,83.06 L259.80,83.10 L260.05,83.16 L260.30,83.25 L260.55,83.37 L260.80,83.53 L261.05,83.75 L261.30,84.03 L261.55,84.37 L261.80,84.77 L262.05,85.23 L262.30,85.74 L262.55,86.26 L262.80,86.78 L263.05,87.26 L263.30,87.66 L263.55,87.97 L263.80,88.15 L264.05,88.20 L264.30,88.10 L264.55,87.86 L264.80,87.51 L265.05,87.07 L265.30,86.58 L265.55,86.07 L265.80,85.57 L266.05,85.11 L266.30,84.72 L266.55,84.42 L266.80,84.22 L267.05,84.11 L267.30,84.10 L267.55,84.14 L267.80,84.23 L268.05,84.31 L268.30,84.36 L268.55,84.35 L268.80,84.27 L269.05,84.14 L269.30,83.95 L269.55,83.75 L269.80,83.56 L270.05,83.39 L270.30,83.26 L270.55,83.16 L270.80,83.09 L271.05,83.05 L271.30,83.03 L271.55,83.01 L300.55,83.02 L300.80,83.03 L301.05,83.06 L301.30,83.12 L301.55,83.21 L301.80,83.36 L302.05,83.61 L302.30,84.00 L302.55,84.59 L302.80,85.45 L303.05,86.69 L303.30,88.40 L303.55,90.68 L303.80,93.63 L304.05,97.31 L304.30,101.73 L304.55,106.86 L304.80,112.55 L305.05,118.59 L305.30,124.70 L305.55,130.51 L305.80,135.65 L306.05,139.75 L306.30,142.50 L306.55,143.67 L306.80,143.16 L307.05,141.03 L307.30,137.44 L307.55,132.67 L307.80,127.08 L308.05,121.04 L308.30,114.94 L308.55,109.07 L308.80,103.71 L309.05,98.99 L309.30,95.01 L309.55,91.78 L309.80,89.24 L310.05,87.31 L310.30,85.90 L310.55,84.89 L310.80,84.20 L311.05,83.74 L311.30,83.45 L311.55,83.26 L311.80,83.15 L312.05,83.08 L312.30,83.04 L312.55,83.02 L312.80,83.01 L405.55,83.00" fill="none" stroke="#3889c0" stroke-width="1.65" stroke-linejoin="round" opacity="1"/>
<path d="M226.30,82.27 L226.55,82.12 L226.80,81.99 L227.05,81.88 L227.30,81.82 L227.55,81.80 L227.80,81.84 L228.05,81.92 L228.30,82.04 L228.55,82.18 L228.80,82.33 L229.05,82.48 L229.30,82.61 L229.55,82.72 L229.80,82.81 L230.05,82.87 L230.30,82.92 L230.55,82.95 L230.80,82.97 L231.05,82.98 L247.30,82.98 L247.55,82.97 L247.80,82.95 L248.05,82.92 L248.30,82.88 L248.55,82.81 L248.80,82.71 L249.05,82.58 L249.30,82.41 L249.55,82.17 L249.80,81.88 L250.05,81.52 L250.30,81.08 L250.55,80.58 L250.80,80.02 L251.05,79.43 L251.30,78.81 L251.55,78.21 L251.80,77.65 L252.05,77.18 L252.30,76.81 L252.55,76.58 L252.80,76.49 L253.05,76.57 L253.30,76.79 L253.55,77.14 L253.80,77.58 L254.05,78.08 L254.30,78.58 L254.55,79.04 L254.80,79.39 L255.05,79.58 L255.30,79.55 L255.55,79.25 L255.80,78.62 L256.05,77.65 L256.30,76.33 L256.55,74.66 L256.80,72.72 L257.05,70.59 L257.30,68.40 L257.55,66.32 L257.80,64.51 L258.05,63.12 L258.30,62.29 L258.55,62.10 L258.80,62.57 L259.05,63.65 L259.30,65.25 L259.55,67.22 L259.80,69.42 L260.05,71.68 L260.30,73.85 L260.55,75.85 L260.80,77.58 L261.05,79.02 L261.30,80.17 L261.55,81.05 L261.80,81.70 L262.05,82.16 L262.30,82.47 L262.55,82.68 L262.80,82.81 L263.05,82.89 L263.30,82.94 L263.55,82.97 L263.80,82.98 L267.30,82.99 L267.55,82.98 L267.80,82.96 L268.05,82.92 L268.30,82.85 L268.55,82.73 L268.80,82.54 L269.05,82.23 L269.30,81.76 L269.55,81.08 L269.80,80.10 L270.05,78.76 L270.30,76.99 L270.55,74.76 L270.80,72.06 L271.05,68.92 L271.30,65.46 L271.55,61.83 L271.80,58.25 L272.05,54.97 L272.30,52.26 L272.55,50.34 L272.80,49.39 L273.05,49.49 L273.30,50.65 L273.55,52.74 L273.80,55.59 L274.05,58.94 L274.30,62.55 L274.55,66.15 L274.80,69.54 L275.05,72.57 L275.30,75.15 L275.55,77.24 L275.80,78.85 L276.05,80.03 L276.30,80.84 L276.55,81.35 L276.80,81.62 L277.05,81.72 L277.30,81.71 L277.55,81.61 L277.80,81.47 L278.05,81.32 L278.30,81.19 L278.55,81.08 L278.80,81.01 L279.05,81.00 L279.30,81.04 L279.55,81.13 L279.80,81.26 L280.05,81.43 L280.30,81.63 L280.55,81.83 L280.80,82.03 L281.05,82.21 L281.30,82.38 L281.55,82.53 L281.80,82.65 L282.05,82.75 L282.30,82.82 L282.55,82.88 L282.80,82.92 L283.05,82.95 L283.30,82.97 L283.55,82.98 L283.80,82.99 L317.80,82.98 L318.05,82.97 L318.30,82.95 L318.55,82.92 L318.80,82.88 L319.05,82.81 L319.30,82.72 L319.55,82.60 L319.80,82.44 L320.05,82.24 L320.30,82.00 L320.55,81.71 L320.80,81.39 L321.05,81.03 L321.30,80.67 L321.55,80.32 L321.80,79.99 L322.05,79.72 L322.30,79.53 L322.55,79.42 L322.80,79.41 L323.05,79.50 L323.30,79.68 L323.55,79.93 L323.80,80.25 L324.05,80.60 L324.30,80.96 L324.55,81.32 L324.80,81.65 L325.05,81.94 L325.30,82.20 L325.55,82.41 L325.80,82.57 L326.05,82.70 L326.30,82.80 L326.55,82.87 L326.80,82.91 L327.05,82.95 L327.30,82.97 L327.55,82.98 L405.55,83.00" fill="none" stroke="#26a026" stroke-width="1.65" stroke-linejoin="round" opacity="1"/>
<path d="M226.30,83.73 L226.55,83.88 L226.80,84.01 L227.05,84.12 L227.30,84.18 L227.55,84.20 L227.80,84.16 L228.05,84.08 L228.30,83.96 L228.55,83.82 L228.80,83.67 L229.05,83.52 L229.30,83.39 L229.55,83.28 L229.80,83.19 L230.05,83.13 L230.30,83.08 L230.55,83.05 L230.80,83.03 L231.05,83.02 L270.05,83.01 L270.30,83.02 L270.55,83.04 L270.80,83.06 L271.05,83.09 L271.30,83.14 L271.55,83.21 L271.80,83.31 L272.05,83.43 L272.30,83.59 L272.55,83.79 L272.80,84.02 L273.05,84.29 L273.30,84.58 L273.55,84.88 L273.80,85.18 L274.05,85.45 L274.30,85.69 L274.55,85.87 L274.80,85.97 L275.05,86.00 L275.30,85.94 L275.55,85.80 L275.80,85.60 L276.05,85.35 L276.30,85.06 L276.55,84.76 L276.80,84.46 L277.05,84.18 L277.30,83.93 L277.55,83.71 L277.80,83.53 L278.05,83.38 L278.30,83.27 L278.55,83.18 L278.80,83.12 L279.05,83.08 L279.30,83.05 L279.55,83.03 L279.80,83.02 L310.55,83.02 L310.80,83.03 L311.05,83.06 L311.30,83.10 L311.55,83.16 L311.80,83.26 L312.05,83.40 L312.30,83.59 L312.55,83.86 L312.80,84.22 L313.05,84.68 L313.30,85.24 L313.55,85.92 L313.80,86.70 L314.05,87.56 L314.30,88.46 L314.55,89.36 L314.80,90.21 L315.05,90.94 L315.30,91.51 L315.55,91.88 L315.80,92.00 L316.05,91.88 L316.30,91.51 L316.55,90.94 L316.80,90.21 L317.05,89.36 L317.30,88.46 L317.55,87.56 L317.80,86.70 L318.05,85.92 L318.30,85.24 L318.55,84.68 L318.80,84.22 L319.05,83.86 L319.30,83.59 L319.55,83.40 L319.80,83.26 L320.05,83.16 L320.30,83.10 L320.55,83.06 L320.80,83.03 L321.05,83.02 L343.55,83.01 L343.80,83.02 L344.05,83.04 L344.30,83.07 L344.55,83.13 L344.80,83.23 L345.05,83.38 L345.30,83.63 L345.55,84.02 L345.80,84.59 L346.05,85.42 L346.30,86.59 L346.55,88.16 L346.80,90.22 L347.05,92.83 L347.30,96.01 L347.55,99.75 L347.80,103.98 L348.05,108.56 L348.30,113.28 L348.55,117.88 L348.80,122.09 L349.05,125.61 L349.30,128.17 L349.55,129.57 L349.80,129.70 L350.05,128.54 L350.30,126.20 L350.55,122.86 L350.80,118.77 L351.05,114.21 L351.30,109.50 L351.55,104.87 L351.80,100.56 L352.05,96.72 L352.30,93.42 L352.55,90.70 L352.80,88.53 L353.05,86.87 L353.30,85.63 L353.55,84.74 L353.80,84.12 L354.05,83.70 L354.30,83.42 L354.55,83.25 L354.80,83.14 L355.05,83.08 L355.30,83.04 L355.55,83.02 L355.80,83.01 L363.80,83.01 L364.05,83.02 L364.30,83.04 L364.55,83.08 L364.80,83.13 L365.05,83.23 L365.30,83.37 L365.55,83.59 L365.80,83.89 L366.05,84.30 L366.30,84.84 L366.55,85.50 L366.80,86.27 L367.05,87.13 L367.30,88.03 L367.55,88.90 L367.80,89.66 L368.05,90.25 L368.30,90.61 L368.55,90.69 L368.80,90.50 L369.05,90.04 L369.30,89.37 L369.55,88.56 L369.80,87.67 L370.05,86.78 L370.30,85.95 L370.55,85.22 L370.80,84.61 L371.05,84.12 L371.30,83.76 L371.55,83.49 L371.80,83.31 L372.05,83.19 L372.30,83.11 L372.55,83.06 L372.80,83.03 L373.05,83.02 L405.55,83.00" fill="none" stroke="#26a026" stroke-width="1.65" stroke-linejoin="round" opacity="1"/>
<path d="M226.30,76.47 L226.55,75.34 L226.80,74.35 L227.05,73.58 L227.30,73.12 L227.55,73.01 L227.80,73.26 L228.05,73.86 L228.30,74.73 L228.55,75.78 L228.80,76.93 L229.05,78.09 L229.30,79.17 L229.55,80.12 L229.80,80.91 L230.05,81.54 L230.30,82.02 L230.55,82.36 L230.80,82.60 L231.05,82.76 L231.30,82.86 L231.55,82.92 L231.80,82.96 L232.05,82.98 L232.30,82.99 L258.05,82.98 L258.30,82.97 L258.55,82.94 L258.80,82.89 L259.05,82.81 L259.30,82.67 L259.55,82.44 L259.80,82.09 L260.05,81.56 L260.30,80.80 L260.55,79.74 L260.80,78.33 L261.05,76.51 L261.30,74.27 L261.55,71.63 L261.80,68.65 L262.05,65.45 L262.30,62.22 L262.55,59.17 L262.80,56.53 L263.05,54.51 L263.30,53.30 L263.55,53.02 L263.80,53.68 L264.05,55.23 L264.30,57.52 L264.55,60.35 L264.80,63.51 L265.05,66.75 L265.30,69.87 L265.55,72.73 L265.80,75.22 L266.05,77.29 L266.30,78.94 L266.55,80.20 L266.80,81.14 L267.05,81.80 L267.30,82.25 L267.55,82.54 L267.80,82.73 L268.05,82.85 L268.30,82.92 L268.55,82.96 L268.80,82.98 L269.05,82.99 L278.55,82.98 L278.80,82.97 L279.05,82.95 L279.30,82.91 L279.55,82.86 L279.80,82.77 L280.05,82.65 L280.30,82.48 L280.55,82.24 L280.80,81.94 L281.05,81.57 L281.30,81.13 L281.55,80.62 L281.80,80.07 L282.05,79.51 L282.30,78.97 L282.55,78.50 L282.80,78.12 L283.05,77.88 L283.30,77.80 L283.55,77.88 L283.80,78.12 L284.05,78.50 L284.30,78.97 L284.55,79.51 L284.80,80.07 L285.05,80.62 L285.30,81.13 L285.55,81.57 L285.80,81.94 L286.05,82.24 L286.30,82.48 L286.55,82.65 L286.80,82.77 L287.05,82.86 L287.30,82.91 L287.55,82.95 L287.80,82.97 L288.05,82.98 L344.30,82.98 L344.55,82.97 L344.80,82.94 L345.05,82.89 L345.30,82.80 L345.55,82.66 L345.80,82.44 L346.05,82.09 L346.30,81.58 L346.55,80.85 L346.80,79.81 L347.05,78.41 L347.30,76.58 L347.55,74.26 L347.80,71.43 L348.05,68.11 L348.30,64.35 L348.55,60.28 L348.80,56.09 L349.05,51.99 L349.30,48.25 L349.55,45.13 L349.80,42.85 L350.05,41.61 L350.30,41.49 L350.55,42.52 L350.80,44.60 L351.05,47.57 L351.30,51.21 L351.55,55.25 L351.80,59.45 L352.05,63.56 L352.30,67.39 L352.55,70.81 L352.80,73.74 L353.05,76.16 L353.30,78.08 L353.55,79.56 L353.80,80.66 L354.05,81.46 L354.30,82.01 L354.55,82.38 L354.80,82.62 L355.05,82.78 L355.30,82.87 L355.55,82.93 L355.80,82.96 L356.05,82.98 L356.30,82.99 L405.55,83.00" fill="none" stroke="#f89696" stroke-width="1.65" stroke-linejoin="round" opacity="1"/>
<path d="M226.30,83.72 L226.55,84.03 L226.80,84.41 L227.05,84.86 L227.30,85.36 L227.55,85.90 L227.80,86.42 L228.05,86.89 L228.30,87.27 L228.55,87.52 L228.80,87.60 L229.05,87.52 L229.30,87.27 L229.55,86.89 L229.80,86.42 L230.05,85.90 L230.30,85.36 L230.55,84.86 L230.80,84.41 L231.05,84.03 L231.30,83.72 L231.55,83.49 L231.80,83.32 L232.05,83.20 L232.30,83.12 L232.55,83.07 L232.80,83.04 L233.05,83.02 L233.30,83.01 L265.55,83.01 L265.80,83.02 L266.05,83.05 L266.30,83.09 L266.55,83.17 L266.80,83.30 L267.05,83.50 L267.30,83.82 L267.55,84.29 L267.80,84.97 L268.05,85.88 L268.30,87.06 L268.55,88.52 L268.80,90.23 L269.05,92.13 L269.30,94.10 L269.55,96.02 L269.80,97.71 L270.05,99.01 L270.30,99.80 L270.55,99.99 L270.80,99.55 L271.05,98.54 L271.30,97.07 L271.55,95.27 L271.80,93.31 L272.05,91.35 L272.30,89.52 L272.55,87.90 L272.80,86.55 L273.05,85.48 L273.30,84.67 L273.55,84.08 L273.80,83.68 L274.05,83.41 L274.30,83.24 L274.55,83.13 L274.80,83.07 L275.05,83.04 L275.30,83.02 L280.80,83.01 L281.05,83.02 L281.30,83.04 L281.55,83.06 L281.80,83.11 L282.05,83.17 L282.30,83.27 L282.55,83.41 L282.80,83.61 L283.05,83.87 L283.30,84.22 L283.55,84.66 L283.80,85.20 L284.05,85.83 L284.30,86.54 L284.55,87.31 L284.80,88.11 L285.05,88.89 L285.30,89.60 L285.55,90.19 L285.80,90.62 L286.05,90.86 L286.30,90.88 L286.55,90.69 L286.80,90.29 L287.05,89.73 L287.30,89.04 L287.55,88.27 L287.80,87.47 L288.05,86.69 L288.30,85.96 L288.55,85.32 L288.80,84.76 L289.05,84.30 L289.30,83.93 L289.55,83.65 L289.80,83.44 L290.05,83.29 L290.30,83.19 L290.55,83.12 L290.80,83.07 L291.05,83.04 L291.30,83.02 L291.55,83.01 L362.30,83.01 L362.55,83.03 L362.80,83.05 L363.05,83.09 L363.30,83.16 L363.55,83.28 L363.80,83.47 L364.05,83.77 L364.30,84.23 L364.55,84.91 L364.80,85.89 L365.05,87.25 L365.30,89.07 L365.55,91.45 L365.80,94.44 L366.05,98.07 L366.30,102.29 L366.55,107.02 L366.80,112.10 L367.05,117.28 L367.30,122.28 L367.55,126.78 L367.80,130.45 L368.05,133.02 L368.30,134.29 L368.55,134.14 L368.80,132.60 L369.05,129.79 L369.30,125.93 L369.55,121.31 L369.80,116.25 L370.05,111.07 L370.30,106.04 L370.55,101.40 L370.80,97.29 L371.05,93.79 L371.30,90.93 L371.55,88.67 L371.80,86.94 L372.05,85.66 L372.30,84.75 L372.55,84.12 L372.80,83.70 L373.05,83.42 L373.30,83.25 L373.55,83.14 L373.80,83.08 L374.05,83.04 L374.30,83.02 L374.55,83.01 L405.55,83.00" fill="none" stroke="#f89696" stroke-width="1.65" stroke-linejoin="round" opacity="1"/>
<line x1="41.00" y1="94.30" x2="65.50" y2="94.30" stroke="#7570b0" stroke-width="1.5" />
<text x="68.00" y="98.10" font-size="9.2" fill="#7570b0" font-style="italic">d<tspan font-size="7" dy="2.1" font-style="normal">xy</tspan></text>
<line x1="41.00" y1="107.90" x2="65.50" y2="107.90" stroke="#50b9b9" stroke-width="1.5" />
<text x="68.00" y="111.70" font-size="9.2" fill="#50b9b9" font-style="italic">d<tspan font-size="7" dy="2.1" font-style="normal">z²</tspan></text>
<line x1="41.00" y1="121.60" x2="65.50" y2="121.60" stroke="#3889c0" stroke-width="1.5" />
<text x="68.00" y="125.40" font-size="9.2" fill="#3889c0" font-style="italic">d<tspan font-size="7" dy="2.1" font-style="normal">yz</tspan></text>
<line x1="41.00" y1="135.40" x2="65.50" y2="135.40" stroke="#26a026" stroke-width="1.5" />
<text x="68.00" y="139.20" font-size="9.2" fill="#26a026" font-style="italic">d<tspan font-size="7" dy="2.1" font-style="normal">xz</tspan></text>
<line x1="41.00" y1="149.40" x2="65.50" y2="149.40" stroke="#f89696" stroke-width="1.5" />
<text x="68.00" y="153.20" font-size="9.2" fill="#f89696" font-style="italic">d<tspan font-size="7" dy="2.1" font-style="normal">x²-y²</tspan></text>
<line x1="228.00" y1="95.10" x2="254.70" y2="95.10" stroke="#7570b0" stroke-width="1.5" />
<text x="257.80" y="98.90" font-size="9.2" fill="#7570b0" font-style="italic">d<tspan font-size="7" dy="2.1" font-style="normal">xy</tspan></text>
<line x1="228.00" y1="108.70" x2="254.70" y2="108.70" stroke="#50b9b9" stroke-width="1.5" />
<text x="261.00" y="112.50" font-size="9.2" fill="#50b9b9" font-style="italic">d<tspan font-size="7" dy="2.1" font-style="normal">z²</tspan></text>
<line x1="228.00" y1="121.90" x2="254.70" y2="121.90" stroke="#3889c0" stroke-width="1.5" />
<text x="257.80" y="125.70" font-size="9.2" fill="#3889c0" font-style="italic">d<tspan font-size="7" dy="2.1" font-style="normal">yz</tspan></text>
<line x1="228.00" y1="136.60" x2="254.70" y2="136.60" stroke="#26a026" stroke-width="1.5" />
<text x="257.80" y="140.40" font-size="9.2" fill="#26a026" font-style="italic">d<tspan font-size="7" dy="2.1" font-style="normal">xz</tspan></text>
<line x1="228.00" y1="150.30" x2="254.70" y2="150.30" stroke="#f89696" stroke-width="1.5" />
<text x="257.80" y="154.10" font-size="9.2" fill="#f89696" font-style="italic">d<tspan font-size="7" dy="2.1" font-style="normal">x²-y²</tspan></text>
<text x="324.30" y="146.50" font-size="10.0" fill="#000" textLength="75.0" lengthAdjust="spacingAndGlyphs" >New unoccupied</text>
<text x="344.30" y="157.40" font-size="10.0" fill="#000" textLength="29.3" lengthAdjust="spacingAndGlyphs" >orbital</text>
<line x1="351.00" y1="136.20" x2="349.90" y2="132.00" stroke="#000" stroke-width="0.9" />
<path d="M349.6,130.6 L348.6,133.6 L351.2,133.0 Z" fill="#000"/>
<path d="M25.10,280.00 L63.35,279.99 L63.60,279.98 L63.85,279.96 L64.10,279.92 L64.35,279.85 L64.60,279.75 L64.85,279.62 L65.10,279.44 L65.35,279.23 L65.60,279.00 L65.85,278.79 L66.10,278.62 L66.35,278.52 L66.60,278.51 L66.85,278.59 L67.10,278.75 L67.35,278.95 L67.60,279.18 L67.85,279.39 L68.10,279.57 L68.35,279.69 L68.60,279.72 L68.85,279.61 L69.10,279.25 L69.35,278.46 L69.60,277.01 L69.85,274.70 L70.10,271.45 L70.35,267.49 L70.60,263.39 L70.85,260.01 L71.10,258.17 L71.35,258.38 L71.60,260.59 L71.85,264.18 L72.10,268.32 L72.35,272.17 L72.60,275.24 L72.85,277.37 L73.10,278.67 L73.35,279.36 L73.60,279.64 L73.85,279.65 L74.10,279.42 L74.35,278.89 L74.60,277.92 L74.85,276.33 L75.10,273.91 L75.35,270.52 L75.60,266.11 L75.85,260.90 L76.10,255.32 L76.35,250.05 L76.60,245.84 L76.85,243.41 L77.10,243.18 L77.35,245.20 L77.60,249.10 L77.85,254.22 L78.10,259.80 L78.35,265.13 L78.60,269.71 L78.85,273.32 L79.10,275.92 L79.35,277.66 L79.60,278.74 L79.85,279.36 L80.10,279.70 L80.35,279.86 L80.60,279.94 L80.85,279.98 L81.10,279.99 L133.60,279.99 L133.85,279.98 L134.10,279.96 L134.35,279.91 L134.60,279.83 L134.85,279.70 L135.10,279.51 L135.35,279.23 L135.60,278.87 L135.85,278.45 L136.10,278.00 L136.35,277.57 L136.60,277.23 L136.85,277.03 L137.10,277.01 L137.35,277.18 L137.60,277.49 L137.85,277.91 L138.10,278.36 L138.35,278.79 L138.60,279.17 L138.85,279.46 L139.10,279.67 L139.35,279.81 L139.60,279.90 L139.85,279.95 L140.10,279.98 L140.35,279.99 L223.10,280.00" fill="none" stroke="#7570b0" stroke-width="1.45" stroke-linejoin="round" opacity="1"/>
<path d="M25.10,280.00 L80.85,280.01 L81.10,280.03 L81.35,280.05 L81.60,280.10 L81.85,280.18 L82.10,280.30 L82.35,280.46 L82.60,280.68 L82.85,280.93 L83.10,281.20 L83.35,281.46 L83.60,281.66 L83.85,281.78 L84.10,281.79 L84.35,281.69 L84.60,281.50 L84.85,281.25 L85.10,280.98 L85.35,280.72 L85.60,280.50 L85.85,280.33 L86.10,280.20 L86.35,280.11 L86.60,280.06 L86.85,280.03 L87.10,280.01 L131.85,280.01 L132.10,280.03 L132.35,280.06 L132.60,280.11 L132.85,280.20 L133.10,280.33 L133.35,280.51 L133.60,280.75 L133.85,281.03 L134.10,281.33 L134.35,281.62 L134.60,281.85 L134.85,281.98 L135.10,281.99 L135.35,281.88 L135.60,281.67 L135.85,281.39 L136.10,281.09 L136.35,280.81 L136.60,280.57 L136.85,280.42 L137.10,280.42 L137.35,280.72 L137.60,281.66 L137.85,283.85 L138.10,288.24 L138.35,295.84 L138.60,307.29 L138.85,322.09 L139.10,338.09 L139.35,350.10 L139.60,350.10 L139.85,350.10 L140.10,349.39 L140.35,334.95 L140.60,318.94 L140.85,304.69 L141.10,294.01 L141.35,287.11 L141.60,283.23 L141.85,281.31 L142.10,280.48 L142.35,280.16 L142.60,280.05 L142.85,280.01 L223.10,280.00" fill="none" stroke="#7570b0" stroke-width="1.45" stroke-linejoin="round" opacity="1"/>
<path d="M25.10,280.00 L68.10,279.99 L68.35,279.96 L68.60,279.88 L68.85,279.67 L69.10,279.15 L69.35,278.01 L69.60,275.78 L69.85,271.89 L70.10,265.85 L70.35,257.60 L70.60,247.85 L70.85,238.16 L71.10,230.60 L71.35,227.10 L71.60,228.63 L71.85,234.76 L72.10,243.86 L72.35,253.81 L72.60,262.79 L72.85,269.75 L73.10,274.46 L73.35,277.28 L73.60,278.79 L73.85,279.51 L74.10,279.82 L74.35,279.94 L74.60,279.98 L134.10,279.99 L134.35,279.97 L134.60,279.94 L134.85,279.88 L135.10,279.78 L135.35,279.60 L135.60,279.34 L135.85,278.97 L136.10,278.50 L136.35,277.94 L136.60,277.33 L136.85,276.76 L137.10,276.31 L137.35,276.04 L137.60,276.02 L137.85,276.24 L138.10,276.66 L138.35,277.21 L138.60,277.82 L138.85,278.39 L139.10,278.89 L139.35,279.28 L139.60,279.56 L139.85,279.75 L140.10,279.86 L140.35,279.93 L140.60,279.97 L140.85,279.99 L223.10,280.00" fill="none" stroke="#3889c0" stroke-width="1.45" stroke-linejoin="round" opacity="1"/>
<path d="M25.10,280.00 L98.60,280.01 L98.85,280.02 L99.10,280.04 L99.35,280.09 L99.60,280.17 L99.85,280.30 L100.10,280.49 L100.35,280.77 L100.60,281.13 L100.85,281.55 L101.10,282.00 L101.35,282.43 L101.60,282.77 L101.85,282.97 L102.10,282.99 L102.35,282.82 L102.60,282.51 L102.85,282.09 L103.10,281.64 L103.35,281.21 L103.60,280.83 L103.85,280.54 L104.10,280.33 L104.35,280.19 L104.60,280.10 L104.85,280.05 L105.10,280.02 L105.35,280.01 L137.35,280.01 L137.60,280.05 L137.85,280.15 L138.10,280.42 L138.35,281.07 L138.60,282.46 L138.85,285.12 L139.10,289.66 L139.35,296.52 L139.60,305.64 L139.85,316.09 L140.10,326.06 L140.35,333.33 L140.60,336.00 L140.85,333.33 L141.10,326.06 L141.35,316.09 L141.60,305.64 L141.85,296.52 L142.10,289.66 L142.35,285.12 L142.60,282.46 L142.85,281.07 L143.10,280.42 L143.35,280.15 L143.60,280.05 L143.85,280.01 L223.10,280.00" fill="none" stroke="#3889c0" stroke-width="1.45" stroke-linejoin="round" opacity="1"/>
<path d="M25.10,280.00 L50.10,279.99 L50.35,279.97 L50.60,279.92 L50.85,279.83 L51.10,279.63 L51.35,279.28 L51.60,278.70 L51.85,277.82 L52.10,276.62 L52.35,275.14 L52.60,273.53 L52.85,272.04 L53.10,270.92 L53.35,270.41 L53.60,270.63 L53.85,271.53 L54.10,272.91 L54.35,274.50 L54.60,276.05 L54.85,277.38 L55.10,278.39 L55.35,279.08 L55.60,279.52 L55.85,279.76 L56.10,279.89 L56.35,279.96 L56.60,279.98 L64.10,279.99 L64.35,279.97 L64.60,279.94 L64.85,279.89 L65.10,279.79 L65.35,279.62 L65.60,279.37 L65.85,279.03 L66.10,278.57 L66.35,278.04 L66.60,277.47 L66.85,276.92 L67.10,276.49 L67.35,276.24 L67.60,276.22 L67.85,276.43 L68.10,276.83 L68.35,277.35 L68.60,277.92 L68.85,278.47 L69.10,278.94 L69.35,279.31 L69.60,279.57 L69.85,279.72 L70.10,279.76 L70.35,279.66 L70.60,279.37 L70.85,278.79 L71.10,277.83 L71.35,276.44 L71.60,274.69 L71.85,272.81 L72.10,271.17 L72.35,270.17 L72.60,270.08 L72.85,270.91 L73.10,272.45 L73.35,274.31 L73.60,276.11 L73.85,277.59 L74.10,278.65 L74.35,279.31 L74.60,279.68 L74.85,279.87 L75.10,279.95 L75.35,279.98 L133.60,279.99 L133.85,279.97 L134.10,279.94 L134.35,279.86 L134.60,279.73 L134.85,279.48 L135.10,279.07 L135.35,278.43 L135.60,277.52 L135.85,276.33 L136.10,274.89 L136.35,273.31 L136.60,271.78 L136.85,270.51 L137.10,269.71 L137.35,269.51 L137.60,269.96 L137.85,270.97 L138.10,272.38 L138.35,273.95 L138.60,275.49 L138.85,276.84 L139.10,277.92 L139.35,278.72 L139.60,279.25 L139.85,279.59 L140.10,279.79 L140.35,279.90 L140.60,279.95 L140.85,279.98 L193.60,279.98 L193.85,279.97 L194.10,279.95 L194.35,279.91 L194.60,279.86 L194.85,279.80 L195.10,279.71 L195.35,279.61 L195.60,279.49 L195.85,279.37 L196.10,279.25 L196.35,279.14 L196.60,279.05 L196.85,279.01 L197.10,279.00 L197.35,279.04 L197.60,279.12 L197.85,279.22 L198.10,279.34 L198.35,279.47 L198.60,279.59 L198.85,279.70 L199.10,279.78 L199.35,279.85 L199.60,279.90 L199.85,279.94 L200.10,279.96 L200.35,279.98 L200.60,279.99 L223.10,280.00" fill="none" stroke="#50b9b9" stroke-width="1.45" stroke-linejoin="round" opacity="1"/>
<path d="M25.10,280.00 L52.85,280.02 L53.10,280.04 L53.35,280.08 L53.60,280.15 L53.85,280.27 L54.10,280.45 L54.35,280.69 L54.60,280.97 L54.85,281.27 L55.10,281.54 L55.35,281.73 L55.60,281.80 L55.85,281.73 L56.10,281.54 L56.35,281.27 L56.60,280.97 L56.85,280.69 L57.10,280.45 L57.35,280.27 L57.60,280.15 L57.85,280.08 L58.10,280.04 L58.35,280.02 L98.60,280.01 L98.85,280.04 L99.10,280.09 L99.35,280.21 L99.60,280.45 L99.85,280.90 L100.10,281.68 L100.35,282.97 L100.60,284.93 L100.85,287.69 L101.10,291.26 L101.35,295.49 L101.60,300.01 L101.85,304.29 L102.10,307.69 L102.35,309.66 L102.60,309.85 L102.85,308.22 L103.10,305.06 L103.35,300.90 L103.60,296.38 L103.85,292.06 L104.10,288.34 L104.35,285.42 L104.60,283.31 L104.85,281.90 L105.10,281.02 L105.35,280.52 L105.60,280.25 L105.85,280.11 L106.10,280.05 L106.35,280.02 L138.85,280.01 L139.10,280.03 L139.35,280.08 L139.60,280.19 L139.85,280.42 L140.10,280.87 L140.35,281.70 L140.60,283.12 L140.85,285.38 L141.10,288.71 L141.35,293.24 L141.60,298.90 L141.85,305.35 L142.10,311.95 L142.35,317.82 L142.60,322.06 L142.85,323.95 L143.10,323.13 L143.35,319.76 L143.60,314.44 L143.85,308.02 L144.10,301.42 L144.35,295.38 L144.60,290.37 L144.85,286.57 L145.10,283.91 L145.35,282.19 L145.60,281.15 L145.85,280.57 L146.10,280.26 L146.35,280.11 L146.60,280.05 L146.85,280.02 L193.60,280.02 L193.85,280.03 L194.10,280.05 L194.35,280.09 L194.60,280.14 L194.85,280.20 L195.10,280.29 L195.35,280.39 L195.60,280.51 L195.85,280.63 L196.10,280.75 L196.35,280.86 L196.60,280.95 L196.85,280.99 L197.10,281.00 L197.35,280.96 L197.60,280.88 L197.85,280.78 L198.10,280.66 L198.35,280.53 L198.60,280.41 L198.85,280.30 L199.10,280.22 L199.35,280.15 L199.60,280.10 L199.85,280.06 L200.10,280.04 L200.35,280.02 L200.60,280.01 L223.10,280.00" fill="none" stroke="#50b9b9" stroke-width="1.45" stroke-linejoin="round" opacity="1"/>
<path d="M25.10,280.00 L57.85,279.99 L58.10,279.97 L58.35,279.94 L58.60,279.89 L58.85,279.80 L59.10,279.67 L59.35,279.49 L59.60,279.25 L59.85,278.97 L60.10,278.67 L60.35,278.38 L60.60,278.16 L60.85,278.03 L61.10,278.03 L61.35,278.16 L61.60,278.41 L61.85,278.75 L62.10,279.15 L62.35,279.58 L62.60,280.00 L62.85,280.40 L63.10,280.75 L63.35,281.03 L63.60,281.20 L63.85,281.25 L64.10,281.15 L64.35,280.89 L64.60,280.50 L64.85,280.01 L65.10,279.48 L65.35,278.98 L65.60,278.57 L65.85,278.29 L66.10,278.18 L66.35,278.21 L66.60,278.38 L66.85,278.63 L67.10,278.92 L67.35,279.20 L67.60,279.45 L67.85,279.64 L68.10,279.78 L68.35,279.87 L68.60,279.93 L68.85,279.97 L69.10,279.98 L69.85,279.99 L70.10,279.96 L70.35,279.87 L70.60,279.61 L70.85,278.92 L71.10,277.35 L71.35,274.16 L71.60,268.49 L71.85,259.72 L72.10,248.02 L72.35,234.87 L72.60,223.01 L72.85,215.60 L73.10,214.88 L73.35,221.08 L73.60,232.29 L73.85,245.43 L74.10,257.59 L74.35,267.00 L74.60,273.25 L74.85,276.86 L75.10,278.70 L75.35,279.52 L75.60,279.84 L75.85,279.95 L76.10,279.99 L82.10,279.99 L82.35,279.98 L82.60,279.95 L82.85,279.90 L83.10,279.82 L83.35,279.68 L83.60,279.46 L83.85,279.14 L84.10,278.70 L84.35,278.12 L84.60,277.42 L84.85,276.64 L85.10,275.85 L85.35,275.13 L85.60,274.57 L85.85,274.25 L86.10,274.21 L86.35,274.47 L86.60,274.96 L86.85,275.61 L87.10,276.31 L87.35,276.97 L87.60,277.49 L87.85,277.82 L88.10,277.94 L88.35,277.86 L88.60,277.64 L88.85,277.37 L89.10,277.12 L89.35,276.98 L89.60,276.99 L89.85,277.17 L90.10,277.49 L90.35,277.91 L90.60,278.36 L90.85,278.79 L91.10,279.17 L91.35,279.46 L91.60,279.67 L91.85,279.81 L92.10,279.90 L92.35,279.95 L92.60,279.98 L92.85,279.99 L113.85,279.99 L114.10,279.97 L114.35,279.93 L114.60,279.85 L114.85,279.68 L115.10,279.36 L115.35,278.82 L115.60,277.94 L115.85,276.62 L116.10,274.80 L116.35,272.48 L116.60,269.79 L116.85,266.97 L117.10,264.38 L117.35,262.41 L117.60,261.39 L117.85,261.51 L118.10,262.74 L118.35,264.86 L118.60,267.53 L118.85,270.35 L119.10,272.98 L119.35,275.21 L119.60,276.92 L119.85,278.15 L120.10,278.95 L120.35,279.44 L120.60,279.72 L120.85,279.87 L121.10,279.94 L121.35,279.98 L121.60,279.99 L125.60,279.99 L125.85,279.97 L126.10,279.94 L126.35,279.88 L126.60,279.78 L126.85,279.60 L127.10,279.34 L127.35,278.97 L127.60,278.50 L127.85,277.94 L128.10,277.33 L128.35,276.76 L128.60,276.31 L128.85,276.04 L129.10,276.02 L129.35,276.24 L129.60,276.66 L129.85,277.21 L130.10,277.82 L130.35,278.39 L130.60,278.89 L130.85,279.28 L131.10,279.56 L131.35,279.75 L131.60,279.86 L131.85,279.93 L132.10,279.97 L132.35,279.99 L223.10,280.00" fill="none" stroke="#26a026" stroke-width="1.45" stroke-linejoin="round" opacity="1"/>
<path d="M25.10,280.00 L54.85,280.02 L55.10,280.04 L55.35,280.07 L55.60,280.14 L55.85,280.25 L56.10,280.41 L56.35,280.64 L56.60,280.94 L56.85,281.29 L57.10,281.67 L57.35,282.02 L57.60,282.31 L57.85,282.47 L58.10,282.49 L58.35,282.35 L58.60,282.09 L58.85,281.74 L59.10,281.37 L59.35,281.01 L59.60,280.70 L59.85,280.45 L60.10,280.28 L60.35,280.16 L60.60,280.09 L60.85,280.04 L61.10,280.02 L61.35,280.01 L86.85,280.01 L87.10,280.03 L87.35,280.06 L87.60,280.11 L87.85,280.20 L88.10,280.33 L88.35,280.51 L88.60,280.75 L88.85,281.03 L89.10,281.33 L89.35,281.62 L89.60,281.85 L89.85,281.98 L90.10,281.99 L90.35,281.88 L90.60,281.67 L90.85,281.39 L91.10,281.09 L91.35,280.80 L91.60,280.56 L91.85,280.36 L92.10,280.22 L92.35,280.13 L92.60,280.07 L92.85,280.03 L93.10,280.02 L104.10,280.01 L104.35,280.02 L104.60,280.06 L104.85,280.12 L105.10,280.25 L105.35,280.50 L105.60,280.93 L105.85,281.66 L106.10,282.79 L106.35,284.47 L106.60,286.79 L106.85,289.80 L107.10,293.44 L107.35,297.49 L107.60,301.61 L107.85,305.36 L108.10,308.27 L108.35,309.92 L108.60,310.08 L108.85,308.71 L109.10,306.03 L109.35,302.41 L109.60,298.33 L109.85,294.24 L110.10,290.53 L110.35,287.43 L110.60,285.05 L110.85,283.38 L111.10,282.34 L111.35,281.82 L111.60,281.70 L111.85,281.84 L112.10,282.14 L112.35,282.49 L112.60,282.80 L112.85,282.98 L113.10,282.99 L113.35,282.82 L113.60,282.51 L113.85,282.09 L114.10,281.64 L114.35,281.21 L114.60,280.83 L114.85,280.54 L115.10,280.33 L115.35,280.19 L115.60,280.10 L115.85,280.05 L116.10,280.02 L116.35,280.01 L139.10,280.02 L139.35,280.04 L139.60,280.10 L139.85,280.24 L140.10,280.52 L140.35,281.06 L140.60,282.04 L140.85,283.70 L141.10,286.29 L141.35,290.06 L141.60,295.10 L141.85,301.29 L142.10,308.20 L142.35,315.10 L142.60,321.04 L142.85,325.07 L143.10,326.50 L143.35,325.07 L143.60,321.04 L143.85,315.10 L144.10,308.20 L144.35,301.29 L144.60,295.10 L144.85,290.06 L145.10,286.29 L145.35,283.70 L145.60,282.04 L145.85,281.06 L146.10,280.52 L146.35,280.24 L146.60,280.10 L146.85,280.04 L147.10,280.02 L223.10,280.00" fill="none" stroke="#26a026" stroke-width="1.45" stroke-linejoin="round" opacity="1"/>
<path d="M25.10,280.00 L41.60,279.98 L41.85,279.97 L42.10,279.93 L42.35,279.87 L42.60,279.78 L42.85,279.64 L43.10,279.44 L43.35,279.20 L43.60,278.91 L43.85,278.61 L44.10,278.33 L44.35,278.12 L44.60,278.01 L44.85,278.02 L45.10,278.15 L45.35,278.38 L45.60,278.67 L45.85,278.97 L46.10,279.25 L46.35,279.49 L46.60,279.67 L46.85,279.80 L47.10,279.89 L47.35,279.94 L47.60,279.97 L47.85,279.99 L52.10,279.99 L52.35,279.96 L52.60,279.89 L52.85,279.72 L53.10,279.35 L53.35,278.59 L53.60,277.21 L53.85,274.86 L54.10,271.25 L54.35,266.20 L54.60,259.86 L54.85,252.79 L55.10,245.97 L55.35,240.60 L55.60,237.76 L55.85,238.09 L56.10,241.50 L56.35,247.26 L56.60,254.22 L56.85,261.21 L57.10,267.33 L57.35,272.08 L57.60,275.42 L57.85,277.55 L58.10,278.79 L58.35,279.44 L58.60,279.76 L58.85,279.91 L59.10,279.97 L59.35,279.99 L70.60,279.99 L70.85,279.95 L71.10,279.85 L71.35,279.56 L71.60,278.87 L71.85,277.40 L72.10,274.65 L72.35,270.15 L72.60,263.76 L72.85,256.04 L73.10,248.37 L73.35,242.63 L73.60,240.50 L73.85,242.63 L74.10,248.37 L74.35,256.04 L74.60,263.76 L74.85,270.15 L75.10,274.65 L75.35,277.40 L75.60,278.87 L75.85,279.56 L76.10,279.85 L76.35,279.95 L76.60,279.99 L124.85,279.98 L125.10,279.96 L125.35,279.89 L125.60,279.76 L125.85,279.50 L126.10,279.02 L126.35,278.18 L126.60,276.82 L126.85,274.80 L127.10,271.99 L127.35,268.42 L127.60,264.27 L127.85,259.93 L128.10,255.94 L128.35,252.91 L128.60,251.34 L128.85,251.52 L129.10,253.41 L129.35,256.68 L129.60,260.79 L129.85,265.13 L130.10,269.19 L130.35,272.62 L130.60,275.26 L130.85,277.14 L131.10,278.38 L131.35,279.14 L131.60,279.57 L131.85,279.80 L132.10,279.91 L132.35,279.96 L132.60,279.99 L223.10,280.00" fill="none" stroke="#f89696" stroke-width="1.45" stroke-linejoin="round" opacity="1"/>
<path d="M25.10,280.00 L59.35,280.01 L59.60,280.02 L59.85,280.05 L60.10,280.11 L60.35,280.21 L60.60,280.38 L60.85,280.66 L61.10,281.07 L61.35,281.62 L61.60,282.32 L61.85,283.11 L62.10,283.92 L62.35,284.64 L62.60,285.16 L62.85,285.39 L63.10,285.29 L63.35,284.88 L63.60,284.23 L63.85,283.44 L64.10,282.63 L64.35,281.89 L64.60,281.27 L64.85,280.81 L65.10,280.48 L65.35,280.27 L65.60,280.14 L65.85,280.07 L66.10,280.03 L66.35,280.01 L86.10,280.02 L86.35,280.04 L86.60,280.09 L86.85,280.19 L87.10,280.35 L87.35,280.62 L87.60,281.04 L87.85,281.61 L88.10,282.36 L88.35,283.25 L88.60,284.20 L88.85,285.10 L89.10,285.82 L89.35,286.23 L89.60,286.27 L89.85,285.94 L90.10,285.30 L90.35,284.48 L90.60,283.63 L90.85,282.91 L91.10,282.46 L91.35,282.40 L91.60,282.78 L91.85,283.65 L92.10,284.98 L92.35,286.66 L92.60,288.52 L92.85,290.30 L93.10,291.73 L93.35,292.56 L93.60,292.64 L93.85,291.95 L94.10,290.61 L94.35,288.85 L94.60,286.94 L94.85,285.11 L95.10,283.53 L95.35,282.29 L95.60,281.40 L95.85,280.80 L96.10,280.43 L96.35,280.22 L96.60,280.10 L96.85,280.05 L97.10,280.02 L148.85,280.01 L149.10,280.02 L149.35,280.06 L149.60,280.18 L149.85,280.44 L150.10,281.02 L150.35,282.19 L150.60,284.35 L150.85,288.00 L151.10,293.63 L151.35,301.49 L151.60,311.37 L151.85,322.38 L152.10,333.01 L152.35,341.38 L152.60,345.79 L152.85,345.29 L153.10,339.97 L153.35,331.00 L153.60,320.15 L153.85,309.26 L154.10,299.74 L154.35,292.33 L154.60,287.13 L154.85,283.82 L155.10,281.89 L155.35,280.87 L155.60,280.37 L155.85,280.14 L156.10,280.05 L156.35,280.02 L223.10,280.00" fill="none" stroke="#f89696" stroke-width="1.45" stroke-linejoin="round" opacity="1"/>
<path d="M25.10,280.00 L100.85,279.99 L101.10,279.97 L101.35,279.94 L101.60,279.88 L101.85,279.78 L102.10,279.60 L102.35,279.33 L102.60,278.94 L102.85,278.43 L103.10,277.81 L103.35,277.13 L103.60,276.48 L103.85,275.93 L104.10,275.59 L104.35,275.51 L104.60,275.70 L104.85,276.13 L105.10,276.73 L105.35,277.41 L105.60,278.07 L105.85,278.65 L106.10,279.11 L106.35,279.45 L106.60,279.68 L106.85,279.83 L107.10,279.91 L107.35,279.96 L107.60,279.98 L114.35,279.98 L114.60,279.96 L114.85,279.90 L115.10,279.80 L115.35,279.61 L115.60,279.29 L115.85,278.78 L116.10,278.02 L116.35,276.99 L116.60,275.70 L116.85,274.24 L117.10,272.74 L117.35,271.40 L117.60,270.44 L117.85,270.01 L118.10,270.20 L118.35,270.96 L118.60,272.17 L118.85,273.63 L119.10,275.13 L119.35,276.50 L119.60,277.64 L119.85,278.51 L120.10,279.11 L120.35,279.50 L120.60,279.74 L120.85,279.87 L121.10,279.94 L121.35,279.97 L121.60,279.99 L223.10,280.00" fill="none" stroke="#2a2af0" stroke-width="1.3" stroke-linejoin="round" stroke-dasharray="2.2,1.3" stroke-dashoffset="0.9" opacity="1"/>
<path d="M25.10,280.00 L97.60,280.01 L97.85,280.02 L98.10,280.06 L98.35,280.17 L98.60,280.41 L98.85,280.94 L99.10,281.99 L99.35,283.89 L99.60,287.05 L99.85,291.82 L100.10,298.36 L100.35,306.38 L100.60,315.10 L100.85,323.23 L101.10,329.28 L101.35,332.02 L101.60,330.83 L101.85,325.98 L102.10,318.50 L102.35,309.85 L102.60,301.42 L102.85,294.23 L103.10,288.75 L103.35,284.98 L103.60,282.63 L103.85,281.28 L104.10,280.58 L104.35,280.24 L104.60,280.09 L104.85,280.03 L105.10,280.01 L139.35,280.01 L139.60,280.03 L139.85,280.07 L140.10,280.16 L140.35,280.36 L140.60,280.75 L140.85,281.47 L141.10,282.70 L141.35,284.65 L141.60,287.52 L141.85,291.43 L142.10,296.32 L142.35,301.90 L142.60,307.59 L142.85,312.67 L143.10,316.33 L143.35,317.95 L143.60,317.25 L143.85,314.34 L144.10,309.74 L144.35,304.20 L144.60,298.50 L144.85,293.28 L145.10,288.96 L145.35,285.68 L145.60,283.38 L145.85,281.89 L146.10,280.99 L146.35,280.49 L146.60,280.23 L146.85,280.10 L147.10,280.04 L147.35,280.02 L148.60,280.01 L148.85,280.04 L149.10,280.08 L149.35,280.17 L149.60,280.35 L149.85,280.67 L150.10,281.20 L150.35,282.02 L150.60,283.18 L150.85,284.72 L151.10,286.57 L151.35,288.60 L151.60,290.57 L151.85,292.20 L152.10,293.23 L152.35,293.48 L152.60,292.91 L152.85,291.61 L153.10,289.80 L153.35,287.78 L153.60,285.80 L153.85,284.06 L154.10,282.67 L154.35,281.65 L154.60,280.96 L154.85,280.52 L155.10,280.27 L155.35,280.13 L155.60,280.06 L155.85,280.02 L156.10,280.01 L223.10,280.00" fill="none" stroke="#2a2af0" stroke-width="1.3" stroke-linejoin="round" stroke-dasharray="2.2,1.3" stroke-dashoffset="0.9" opacity="1"/>
<path d="M25.10,280.00 L69.60,279.99 L69.85,279.98 L70.10,279.96 L70.35,279.91 L70.60,279.83 L70.85,279.70 L71.10,279.51 L71.35,279.23 L71.60,278.87 L71.85,278.45 L72.10,278.00 L72.35,277.57 L72.60,277.23 L72.85,277.03 L73.10,277.01 L73.35,277.18 L73.60,277.49 L73.85,277.91 L74.10,278.36 L74.35,278.79 L74.60,279.17 L74.85,279.46 L75.10,279.67 L75.35,279.81 L75.60,279.90 L75.85,279.95 L76.10,279.98 L76.35,279.99 L100.85,279.98 L101.10,279.96 L101.35,279.91 L101.60,279.82 L101.85,279.66 L102.10,279.40 L102.35,278.98 L102.60,278.40 L102.85,277.62 L103.10,276.69 L103.35,275.67 L103.60,274.68 L103.85,273.85 L104.10,273.33 L104.35,273.21 L104.60,273.50 L104.85,274.15 L105.10,275.06 L105.35,276.08 L105.60,277.08 L105.85,277.95 L106.10,278.65 L106.35,279.17 L106.60,279.52 L106.85,279.74 L107.10,279.87 L107.35,279.94 L107.60,279.97 L107.85,279.99 L114.60,279.98 L114.85,279.96 L115.10,279.90 L115.35,279.76 L115.60,279.48 L115.85,278.93 L116.10,277.93 L116.35,276.26 L116.60,273.64 L116.85,269.84 L117.10,264.74 L117.35,258.48 L117.60,251.49 L117.85,244.52 L118.10,238.52 L118.35,234.45 L118.60,233.00 L118.85,234.45 L119.10,238.52 L119.35,244.52 L119.60,251.49 L119.85,258.48 L120.10,264.74 L120.35,269.84 L120.60,273.64 L120.85,276.26 L121.10,277.93 L121.35,278.93 L121.60,279.48 L121.85,279.76 L122.10,279.90 L122.35,279.96 L122.60,279.98 L133.85,279.99 L134.10,279.97 L134.35,279.93 L134.60,279.85 L134.85,279.70 L135.10,279.44 L135.35,279.01 L135.60,278.36 L135.85,277.44 L136.10,276.25 L136.35,274.84 L136.60,273.33 L136.85,271.90 L137.10,270.77 L137.35,270.11 L137.60,270.05 L137.85,270.59 L138.10,271.65 L138.35,273.03 L138.60,274.54 L138.85,275.98 L139.10,277.22 L139.35,278.19 L139.60,278.90 L139.85,279.37 L140.10,279.66 L140.35,279.83 L140.60,279.92 L140.85,279.96 L141.10,279.98 L223.10,280.00" fill="none" stroke="#80d0f8" stroke-width="1.3" stroke-linejoin="round" stroke-dasharray="2.2,1.3" stroke-dashoffset="1.75" opacity="1"/>
<path d="M25.10,280.00 L99.60,280.01 L99.85,280.04 L100.10,280.10 L100.35,280.25 L100.60,280.58 L100.85,281.24 L101.10,282.46 L101.35,284.53 L101.60,287.72 L101.85,292.17 L102.10,297.77 L102.35,304.01 L102.60,310.03 L102.85,314.78 L103.10,317.29 L103.35,317.04 L103.60,314.09 L103.85,309.13 L104.10,303.19 L104.35,297.37 L104.60,292.50 L104.85,289.04 L105.10,287.04 L105.35,286.29 L105.60,286.41 L105.85,286.97 L106.10,287.59 L106.35,287.99 L106.60,287.99 L106.85,287.53 L107.10,286.69 L107.35,285.58 L107.60,284.37 L107.85,283.22 L108.10,282.22 L108.35,281.45 L108.60,280.88 L108.85,280.51 L109.10,280.27 L109.35,280.14 L109.60,280.07 L109.85,280.03 L110.10,280.01 L138.60,280.01 L138.85,280.04 L139.10,280.09 L139.35,280.20 L139.60,280.44 L139.85,280.91 L140.10,281.76 L140.35,283.18 L140.60,285.41 L140.85,288.65 L141.10,292.99 L141.35,298.31 L141.60,304.26 L141.85,310.19 L142.10,315.30 L142.35,318.77 L142.60,320.00 L142.85,318.77 L143.10,315.30 L143.35,310.19 L143.60,304.26 L143.85,298.31 L144.10,292.99 L144.35,288.65 L144.60,285.41 L144.85,283.18 L145.10,281.76 L145.35,280.91 L145.60,280.44 L145.85,280.20 L146.10,280.09 L146.35,280.04 L146.60,280.01 L148.85,280.01 L149.10,280.03 L149.35,280.08 L149.60,280.16 L149.85,280.33 L150.10,280.62 L150.35,281.09 L150.60,281.81 L150.85,282.82 L151.10,284.13 L151.35,285.68 L151.60,287.34 L151.85,288.91 L152.10,290.15 L152.35,290.88 L152.60,290.95 L152.85,290.35 L153.10,289.19 L153.35,287.66 L153.60,286.01 L153.85,284.42 L154.10,283.06 L154.35,281.99 L154.60,281.21 L154.85,280.70 L155.10,280.37 L155.35,280.19 L155.60,280.09 L155.85,280.04 L156.10,280.02 L223.10,280.00" fill="none" stroke="#80d0f8" stroke-width="1.3" stroke-linejoin="round" stroke-dasharray="2.2,1.3" stroke-dashoffset="1.75" opacity="1"/>
<path d="M25.10,280.00 L69.85,279.99 L70.10,279.98 L70.35,279.94 L70.60,279.87 L70.85,279.72 L71.10,279.45 L71.35,278.98 L71.60,278.27 L71.85,277.27 L72.10,276.02 L72.35,274.62 L72.60,273.27 L72.85,272.21 L73.10,271.65 L73.35,271.72 L73.60,272.39 L73.85,273.53 L74.10,274.91 L74.35,276.29 L74.60,277.49 L74.85,278.44 L75.10,279.10 L75.35,279.52 L75.60,279.76 L75.85,279.89 L76.10,279.95 L76.35,279.98 L85.35,279.99 L85.60,279.98 L85.85,279.95 L86.10,279.90 L86.35,279.79 L86.60,279.61 L86.85,279.31 L87.10,278.85 L87.35,278.21 L87.60,277.37 L87.85,276.39 L88.10,275.33 L88.35,274.33 L88.60,273.54 L88.85,273.08 L89.10,273.03 L89.35,273.42 L89.60,274.15 L89.85,275.12 L90.10,276.18 L90.35,277.19 L90.60,278.05 L90.85,278.74 L91.10,279.23 L91.35,279.56 L91.60,279.76 L91.85,279.88 L92.10,279.94 L92.35,279.97 L92.60,279.99 L98.85,279.99 L99.10,279.98 L99.35,279.95 L99.60,279.90 L99.85,279.81 L100.10,279.64 L100.35,279.39 L100.60,279.01 L100.85,278.50 L101.10,277.85 L101.35,277.12 L101.60,276.37 L101.85,275.70 L102.10,275.22 L102.35,275.01 L102.60,275.10 L102.85,275.48 L103.10,276.09 L103.35,276.82 L103.60,277.57 L103.85,278.25 L104.10,278.82 L104.35,279.25 L104.60,279.56 L104.85,279.75 L105.10,279.87 L105.35,279.94 L105.60,279.97 L105.85,279.99 L113.60,279.99 L113.85,279.97 L114.10,279.92 L114.35,279.82 L114.60,279.59 L114.85,279.14 L115.10,278.30 L115.35,276.85 L115.60,274.50 L115.85,270.99 L116.10,266.13 L116.35,259.94 L116.60,252.75 L116.85,245.23 L117.10,238.32 L117.35,233.06 L117.60,230.35 L117.85,230.66 L118.10,233.94 L118.35,239.60 L118.60,246.72 L118.85,254.24 L119.10,261.27 L119.35,267.21 L119.60,271.79 L119.85,275.05 L120.10,277.20 L120.35,278.51 L120.60,279.26 L120.85,279.65 L121.10,279.85 L121.35,279.94 L121.60,279.98 L121.85,279.99 L133.85,279.99 L134.10,279.97 L134.35,279.94 L134.60,279.87 L134.85,279.73 L135.10,279.49 L135.35,279.11 L135.60,278.52 L135.85,277.69 L136.10,276.62 L136.35,275.35 L136.60,274.00 L136.85,272.71 L137.10,271.69 L137.35,271.10 L137.60,271.04 L137.85,271.53 L138.10,272.48 L138.35,273.73 L138.60,275.09 L138.85,276.38 L139.10,277.50 L139.35,278.37 L139.60,279.01 L139.85,279.43 L140.10,279.69 L140.35,279.84 L140.60,279.93 L140.85,279.97 L141.10,279.99 L223.10,280.00" fill="none" stroke="#ff50a8" stroke-width="1.3" stroke-linejoin="round" stroke-dasharray="2.2,1.3" stroke-dashoffset="0" opacity="1"/>
<path d="M25.10,280.00 L138.60,280.01 L138.85,280.03 L139.10,280.06 L139.35,280.12 L139.60,280.22 L139.85,280.40 L140.10,280.66 L140.35,281.03 L140.60,281.50 L140.85,282.06 L141.10,282.67 L141.35,283.24 L141.60,283.69 L141.85,283.96 L142.10,283.98 L142.35,283.76 L142.60,283.34 L142.85,282.79 L143.10,282.18 L143.35,281.61 L143.60,281.11 L143.85,280.72 L144.10,280.44 L144.35,280.25 L144.60,280.14 L144.85,280.07 L145.10,280.03 L145.35,280.01 L223.10,280.00" fill="none" stroke="#ff50a8" stroke-width="1.3" stroke-linejoin="round" stroke-dasharray="2.2,1.3" stroke-dashoffset="0" opacity="1"/>
<path d="M253.70,280.70 L305.70,280.68 L305.95,280.66 L306.20,280.62 L306.45,280.55 L306.70,280.42 L306.95,280.21 L307.20,279.91 L307.45,279.50 L307.70,278.98 L307.95,278.40 L308.20,277.80 L308.45,277.26 L308.70,276.88 L308.95,276.70 L309.20,276.78 L309.45,277.09 L309.70,277.57 L309.95,278.15 L310.20,278.75 L310.45,279.30 L310.70,279.76 L310.95,280.10 L311.20,280.34 L311.45,280.50 L311.70,280.60 L311.95,280.65 L312.20,280.68 L312.45,280.69 L328.20,280.69 L328.45,280.67 L328.70,280.62 L328.95,280.50 L329.20,280.26 L329.45,279.77 L329.70,278.87 L329.95,277.31 L330.20,274.78 L330.45,271.00 L330.70,265.77 L330.95,259.11 L331.20,251.38 L331.45,243.28 L331.70,235.85 L331.95,230.19 L332.20,227.27 L332.45,227.60 L332.70,231.13 L332.95,237.23 L333.20,244.88 L333.45,252.98 L333.70,260.55 L333.95,266.93 L334.20,271.87 L334.45,275.38 L334.70,277.68 L334.95,279.09 L335.20,279.88 L335.45,280.28 L335.70,280.44 L335.95,280.44 L336.20,280.30 L336.45,279.99 L336.70,279.47 L336.95,278.69 L337.20,277.61 L337.45,276.24 L337.70,274.64 L337.95,272.97 L338.20,271.43 L338.45,270.26 L338.70,269.66 L338.95,269.72 L339.20,270.45 L339.45,271.71 L339.70,273.30 L339.95,274.97 L340.20,276.53 L340.45,277.85 L340.70,278.87 L340.95,279.60 L341.20,280.08 L341.45,280.37 L341.70,280.53 L341.95,280.62 L342.20,280.67 L342.45,280.69 L451.45,280.70" fill="none" stroke="#7570b0" stroke-width="1.45" stroke-linejoin="round" opacity="1"/>
<path d="M253.70,280.70 L322.95,280.72 L323.20,280.74 L323.45,280.78 L323.70,280.84 L323.95,280.94 L324.20,281.10 L324.45,281.30 L324.70,281.56 L324.95,281.85 L325.20,282.15 L325.45,282.42 L325.70,282.61 L325.95,282.70 L326.20,282.66 L326.45,282.51 L326.70,282.27 L326.95,281.97 L327.20,281.67 L327.45,281.40 L327.70,281.17 L327.95,281.00 L328.20,280.88 L328.45,280.80 L328.70,280.75 L328.95,280.73 L329.20,280.71 L332.95,280.72 L333.20,280.74 L333.45,280.78 L333.70,280.88 L333.95,281.06 L334.20,281.37 L334.45,281.88 L334.70,282.66 L334.95,283.75 L335.20,285.17 L335.45,286.84 L335.70,288.64 L335.95,290.33 L336.20,291.69 L336.45,292.47 L336.70,292.54 L336.95,291.89 L337.20,290.64 L337.45,288.99 L337.70,287.20 L337.95,285.48 L338.20,284.01 L338.45,282.85 L338.70,282.01 L338.95,281.45 L339.20,281.11 L339.45,280.91 L339.70,280.81 L339.95,280.78 L340.20,280.83 L340.45,280.99 L340.70,281.39 L340.95,282.22 L341.20,283.82 L341.45,286.62 L341.70,291.10 L341.95,297.61 L342.20,306.15 L342.45,316.16 L342.70,326.44 L342.95,335.33 L343.20,341.09 L343.45,342.50 L343.70,339.25 L343.95,332.06 L344.20,322.40 L344.45,312.04 L344.70,302.51 L344.95,294.75 L345.20,289.08 L345.45,285.32 L345.70,283.06 L345.95,281.82 L346.20,281.19 L346.45,280.90 L346.70,280.77 L346.95,280.73 L347.20,280.71 L451.45,280.70" fill="none" stroke="#7570b0" stroke-width="1.45" stroke-linejoin="round" opacity="1"/>
<path d="M253.70,280.70 L309.20,280.68 L309.45,280.65 L309.70,280.58 L309.95,280.41 L310.20,280.07 L310.45,279.43 L310.70,278.33 L310.95,276.60 L311.20,274.14 L311.45,270.98 L311.70,267.36 L311.95,263.75 L312.20,260.77 L312.45,259.00 L312.70,258.84 L312.95,260.30 L313.20,263.08 L313.45,266.62 L313.70,270.28 L313.95,273.56 L314.20,276.17 L314.45,278.04 L314.70,279.25 L314.95,279.97 L315.20,280.36 L315.45,280.55 L315.70,280.64 L315.95,280.68 L316.20,280.69 L317.45,280.69 L317.70,280.68 L317.95,280.64 L318.20,280.57 L318.45,280.43 L318.70,280.17 L318.95,279.71 L319.20,278.97 L319.45,277.86 L319.70,276.33 L319.95,274.39 L320.20,272.13 L320.45,269.76 L320.70,267.59 L320.95,265.93 L321.20,265.08 L321.45,265.18 L321.70,266.21 L321.95,267.99 L322.20,270.23 L322.45,272.60 L322.70,274.81 L322.95,276.68 L323.20,278.12 L323.45,279.14 L323.70,279.82 L323.95,280.23 L324.20,280.47 L324.45,280.59 L324.70,280.65 L324.95,280.68 L325.20,280.69 L339.70,280.69 L339.95,280.67 L340.20,280.64 L340.45,280.59 L340.70,280.49 L340.95,280.33 L341.20,280.09 L341.45,279.75 L341.70,279.31 L341.95,278.79 L342.20,278.23 L342.45,277.70 L342.70,277.28 L342.95,277.04 L343.20,277.02 L343.45,277.22 L343.70,277.61 L343.95,278.12 L344.20,278.68 L344.45,279.21 L344.70,279.67 L344.95,280.03 L345.20,280.29 L345.45,280.47 L345.70,280.57 L345.95,280.64 L346.20,280.67 L346.45,280.69 L358.95,280.69 L359.20,280.67 L359.45,280.63 L359.70,280.55 L359.95,280.40 L360.20,280.14 L360.45,279.71 L360.70,279.06 L360.95,278.14 L361.20,276.95 L361.45,275.54 L361.70,274.03 L361.95,272.60 L362.20,271.47 L362.45,270.81 L362.70,270.75 L362.95,271.29 L363.20,272.35 L363.45,273.73 L363.70,275.24 L363.95,276.68 L364.20,277.92 L364.45,278.89 L364.70,279.60 L364.95,280.07 L365.20,280.36 L365.45,280.53 L365.70,280.62 L365.95,280.66 L366.20,280.68 L367.70,280.69 L367.95,280.67 L368.20,280.63 L368.45,280.55 L368.70,280.39 L368.95,280.10 L369.20,279.63 L369.45,278.91 L369.70,277.87 L369.95,276.51 L370.20,274.86 L370.45,273.06 L370.70,271.31 L370.95,269.86 L371.20,268.94 L371.45,268.71 L371.70,269.23 L371.95,270.38 L372.20,271.99 L372.45,273.79 L372.70,275.55 L372.95,277.09 L373.20,278.33 L373.45,279.23 L373.70,279.85 L373.95,280.24 L374.20,280.46 L374.45,280.59 L374.70,280.65 L374.95,280.68 L375.20,280.69 L451.45,280.70" fill="none" stroke="#3889c0" stroke-width="1.45" stroke-linejoin="round" opacity="1"/>
<path d="M253.70,280.70 L328.70,280.71 L328.95,280.74 L329.20,280.79 L329.45,280.89 L329.70,281.10 L329.95,281.47 L330.20,282.12 L330.45,283.15 L330.70,284.66 L330.95,286.72 L331.20,289.29 L331.45,292.22 L331.70,295.22 L331.95,297.89 L332.20,299.82 L332.45,300.68 L332.70,300.30 L332.95,298.77 L333.20,296.35 L333.45,293.44 L333.70,290.44 L333.95,287.69 L334.20,285.41 L334.45,283.69 L334.70,282.48 L334.95,281.69 L335.20,281.22 L335.45,280.96 L335.70,280.82 L335.95,280.75 L336.20,280.72 L336.45,280.71 L372.20,280.71 L372.45,280.73 L372.70,280.76 L372.95,280.84 L373.20,281.00 L373.45,281.28 L373.70,281.77 L373.95,282.53 L374.20,283.67 L374.45,285.21 L374.70,287.14 L374.95,289.34 L375.20,291.59 L375.45,293.59 L375.70,295.04 L375.95,295.68 L376.20,295.40 L376.45,294.26 L376.70,292.44 L376.95,290.25 L377.20,288.00 L377.45,285.94 L377.70,284.24 L377.95,282.94 L378.20,282.03 L378.45,281.45 L378.70,281.09 L378.95,280.90 L379.20,280.80 L379.45,280.76 L379.70,280.76 L379.95,280.80 L380.20,280.90 L380.45,281.09 L380.70,281.41 L380.95,281.92 L381.20,282.68 L381.45,283.71 L381.70,285.00 L381.95,286.46 L382.20,287.96 L382.45,289.30 L382.70,290.26 L382.95,290.69 L383.20,290.50 L383.45,289.74 L383.70,288.53 L383.95,287.07 L384.20,285.57 L384.45,284.20 L384.70,283.06 L384.95,282.19 L385.20,281.59 L385.45,281.20 L385.70,280.96 L385.95,280.83 L386.20,280.76 L386.45,280.73 L386.70,280.71 L451.45,280.70" fill="none" stroke="#3889c0" stroke-width="1.45" stroke-linejoin="round" opacity="1"/>
<path d="M253.70,280.70 L282.95,280.69 L283.20,280.67 L283.45,280.64 L283.70,280.58 L283.95,280.47 L284.20,280.30 L284.45,280.05 L284.70,279.70 L284.95,279.25 L285.20,278.73 L285.45,278.19 L285.70,277.69 L285.95,277.31 L286.20,277.12 L286.45,277.14 L286.70,277.38 L286.95,277.79 L287.20,278.30 L287.45,278.84 L287.70,279.35 L287.95,279.78 L288.20,280.11 L288.45,280.34 L288.70,280.50 L288.95,280.59 L289.20,280.65 L289.45,280.67 L289.70,280.69 L309.20,280.69 L309.45,280.67 L309.70,280.62 L309.95,280.50 L310.20,280.23 L310.45,279.69 L310.70,278.70 L310.95,277.01 L311.20,274.42 L311.45,270.80 L311.70,266.25 L311.95,261.17 L312.20,256.28 L312.45,252.42 L312.70,250.39 L312.95,250.62 L313.20,253.07 L313.45,257.20 L313.70,262.20 L313.95,267.22 L314.20,271.60 L314.45,275.02 L314.70,277.42 L314.95,278.94 L315.20,279.83 L315.45,280.30 L315.70,280.53 L315.95,280.63 L316.20,280.68 L316.45,280.69 L358.95,280.68 L359.20,280.66 L359.45,280.62 L359.70,280.52 L359.95,280.34 L360.20,280.02 L360.45,279.50 L360.70,278.71 L360.95,277.60 L361.20,276.16 L361.45,274.45 L361.70,272.63 L361.95,270.90 L362.20,269.53 L362.45,268.74 L362.70,268.66 L362.95,269.32 L363.20,270.59 L363.45,272.27 L363.70,274.09 L363.95,275.84 L364.20,277.34 L364.45,278.51 L364.70,279.37 L364.95,279.94 L365.20,280.29 L365.45,280.49 L365.70,280.60 L365.95,280.66 L366.20,280.68 L367.70,280.68 L367.95,280.66 L368.20,280.61 L368.45,280.50 L368.70,280.29 L368.95,279.91 L369.20,279.30 L369.45,278.34 L369.70,276.98 L369.95,275.18 L370.20,273.01 L370.45,270.64 L370.70,268.33 L370.95,266.42 L371.20,265.21 L371.45,264.92 L371.70,265.60 L371.95,267.12 L372.20,269.23 L372.45,271.60 L372.70,273.91 L372.95,275.95 L373.20,277.57 L373.45,278.77 L373.70,279.58 L373.95,280.09 L374.20,280.39 L374.45,280.55 L374.70,280.63 L374.95,280.67 L375.20,280.69 L451.45,280.70" fill="none" stroke="#50b9b9" stroke-width="1.45" stroke-linejoin="round" opacity="1"/>
<path d="M253.70,280.70 L283.20,280.71 L283.45,280.73 L283.70,280.76 L283.95,280.81 L284.20,280.90 L284.45,281.03 L284.70,281.20 L284.95,281.42 L285.20,281.68 L285.45,281.95 L285.70,282.20 L285.95,282.39 L286.20,282.49 L286.45,282.48 L286.70,282.36 L286.95,282.16 L287.20,281.90 L287.45,281.63 L287.70,281.38 L287.95,281.16 L288.20,281.00 L288.45,280.88 L288.70,280.80 L288.95,280.75 L289.20,280.73 L289.45,280.71 L328.45,280.72 L328.70,280.75 L328.95,280.82 L329.20,280.96 L329.45,281.24 L329.70,281.78 L329.95,282.70 L330.20,284.18 L330.45,286.41 L330.70,289.49 L330.95,293.40 L331.20,297.96 L331.45,302.72 L331.70,307.09 L331.95,310.42 L332.20,312.14 L332.45,311.95 L332.70,309.87 L332.95,306.28 L333.20,301.78 L333.45,297.01 L333.70,292.56 L333.95,288.80 L334.20,285.90 L334.45,283.83 L334.70,282.47 L334.95,281.64 L335.20,281.17 L335.45,280.92 L335.70,280.80 L335.95,280.74 L336.20,280.72 L371.45,280.71 L371.70,280.72 L371.95,280.76 L372.20,280.83 L372.45,280.99 L372.70,281.30 L372.95,281.86 L373.20,282.83 L373.45,284.37 L373.70,286.64 L373.95,289.72 L374.20,293.59 L374.45,297.99 L374.70,302.48 L374.95,306.49 L375.20,309.38 L375.45,310.66 L375.70,310.11 L375.95,307.81 L376.20,304.18 L376.45,299.80 L376.70,295.30 L376.95,291.19 L377.20,287.77 L377.45,285.18 L377.70,283.37 L377.95,282.19 L378.20,281.48 L378.45,281.09 L378.70,280.88 L378.95,280.79 L379.20,280.77 L379.45,280.81 L379.70,280.94 L379.95,281.26 L380.20,281.92 L380.45,283.16 L380.70,285.30 L380.95,288.65 L381.20,293.43 L381.45,299.58 L381.70,306.60 L381.95,313.60 L382.20,319.38 L382.45,322.81 L382.70,323.14 L382.95,320.29 L383.20,314.89 L383.45,308.04 L383.70,300.93 L383.95,294.56 L384.20,289.49 L384.45,285.86 L384.70,283.51 L384.95,282.11 L385.20,281.36 L385.45,280.98 L385.70,280.81 L385.95,280.74 L386.20,280.71 L451.45,280.70" fill="none" stroke="#50b9b9" stroke-width="1.45" stroke-linejoin="round" opacity="1"/>
<path d="M253.70,280.70 L303.70,280.68 L303.95,280.67 L304.20,280.63 L304.45,280.57 L304.70,280.48 L304.95,280.34 L305.20,280.14 L305.45,279.89 L305.70,279.60 L305.95,279.30 L306.20,279.00 L306.45,278.75 L306.70,278.54 L306.95,278.36 L307.20,278.10 L307.45,277.66 L307.70,276.86 L307.95,275.60 L308.20,273.82 L308.45,271.63 L308.70,269.31 L308.95,267.23 L309.20,265.75 L309.45,265.10 L309.70,265.22 L309.95,265.76 L310.20,266.15 L310.45,265.83 L310.70,264.43 L310.95,261.96 L311.20,258.87 L311.45,255.92 L311.70,253.95 L311.95,253.60 L312.20,255.07 L312.45,258.11 L312.70,262.06 L312.95,266.15 L313.20,269.67 L313.45,272.21 L313.70,273.64 L313.95,274.09 L314.20,273.87 L314.45,273.34 L314.70,272.84 L314.95,272.62 L315.20,272.83 L315.45,273.46 L315.70,274.43 L315.95,275.60 L316.20,276.81 L316.45,277.90 L316.70,278.81 L316.95,279.50 L317.20,279.99 L317.45,280.30 L317.70,280.49 L317.95,280.60 L318.20,280.65 L318.45,280.68 L318.70,280.69 L344.95,280.69 L345.20,280.67 L345.45,280.64 L345.70,280.58 L345.95,280.47 L346.20,280.28 L346.45,280.00 L346.70,279.59 L346.95,279.06 L347.20,278.41 L347.45,277.71 L347.70,277.02 L347.95,276.45 L348.20,276.09 L348.45,276.01 L348.70,276.21 L348.95,276.66 L349.20,277.29 L349.45,277.99 L349.70,278.67 L349.95,279.26 L350.20,279.70 L350.45,279.97 L350.70,280.05 L350.95,279.88 L351.20,279.40 L351.45,278.52 L351.70,277.14 L351.95,275.18 L352.20,272.63 L352.45,269.60 L352.70,266.36 L352.95,263.29 L353.20,260.85 L353.45,259.44 L353.70,259.31 L353.95,260.48 L354.20,262.74 L354.45,265.72 L354.70,268.96 L354.95,272.06 L355.20,274.72 L355.45,276.82 L355.70,278.33 L355.95,279.34 L356.20,279.97 L356.45,280.33 L356.70,280.52 L356.95,280.62 L357.20,280.67 L357.45,280.69 L358.45,280.69 L358.70,280.67 L358.95,280.62 L359.20,280.54 L359.45,280.39 L359.70,280.13 L359.95,279.72 L360.20,279.12 L360.45,278.29 L360.70,277.26 L360.95,276.09 L361.20,274.89 L361.45,273.82 L361.70,273.05 L361.95,272.71 L362.20,272.86 L362.45,273.47 L362.70,274.44 L362.95,275.61 L363.20,276.81 L363.45,277.90 L363.70,278.81 L363.95,279.50 L364.20,279.99 L364.45,280.30 L364.70,280.49 L364.95,280.60 L365.20,280.65 L365.45,280.68 L365.70,280.69 L451.45,280.70" fill="none" stroke="#26a026" stroke-width="1.45" stroke-linejoin="round" opacity="1"/>
<path d="M253.70,280.70 L337.20,280.71 L337.45,280.74 L337.70,280.79 L337.95,280.91 L338.20,281.15 L338.45,281.60 L338.70,282.38 L338.95,283.67 L339.20,285.63 L339.45,288.39 L339.70,291.96 L339.95,296.19 L340.20,300.71 L340.45,304.99 L340.70,308.39 L340.95,310.36 L341.20,310.55 L341.45,308.92 L341.70,305.76 L341.95,301.60 L342.20,297.08 L342.45,292.76 L342.70,289.04 L342.95,286.12 L343.20,284.01 L343.45,282.60 L343.70,281.72 L343.95,281.22 L344.20,280.95 L344.45,280.81 L344.70,280.75 L344.95,280.72 L371.95,280.71 L372.20,280.72 L372.45,280.75 L372.70,280.83 L372.95,281.00 L373.20,281.34 L373.45,281.98 L373.70,283.10 L373.95,284.93 L374.20,287.72 L374.45,291.65 L374.70,296.73 L374.95,302.74 L375.20,309.18 L375.45,315.27 L375.70,320.12 L375.95,322.92 L376.20,323.19 L376.45,320.86 L376.70,316.37 L376.95,310.45 L377.20,304.02 L377.45,297.87 L377.70,292.57 L377.95,288.41 L378.20,285.41 L378.45,283.40 L378.70,282.15 L378.95,281.44 L379.20,281.05 L379.45,280.86 L379.70,280.77 L379.95,280.73 L380.20,280.71 L381.45,280.71 L381.70,280.73 L381.95,280.77 L382.20,280.83 L382.45,280.93 L382.70,281.09 L382.95,281.33 L383.20,281.64 L383.45,282.03 L383.70,282.46 L383.95,282.89 L384.20,283.26 L384.45,283.51 L384.70,283.60 L384.95,283.51 L385.20,283.26 L385.45,282.89 L385.70,282.46 L385.95,282.03 L386.20,281.64 L386.45,281.33 L386.70,281.09 L386.95,280.93 L387.20,280.83 L387.45,280.77 L387.70,280.73 L387.95,280.71 L451.45,280.70" fill="none" stroke="#26a026" stroke-width="1.45" stroke-linejoin="round" opacity="1"/>
<path d="M253.70,280.70 L290.70,280.68 L290.95,280.66 L291.20,280.61 L291.45,280.52 L291.70,280.36 L291.95,280.08 L292.20,279.64 L292.45,279.01 L292.70,278.17 L292.95,277.13 L293.20,275.97 L293.45,274.81 L293.70,273.82 L293.95,273.14 L294.20,272.90 L294.45,273.14 L294.70,273.82 L294.95,274.81 L295.20,275.97 L295.45,277.13 L295.70,278.17 L295.95,279.01 L296.20,279.64 L296.45,280.08 L296.70,280.36 L296.95,280.52 L297.20,280.61 L297.45,280.66 L297.70,280.68 L314.45,280.69 L314.70,280.67 L314.95,280.63 L315.20,280.55 L315.45,280.37 L315.70,280.02 L315.95,279.41 L316.20,278.40 L316.45,276.83 L316.70,274.59 L316.95,271.65 L317.20,268.09 L317.45,264.21 L317.70,260.43 L317.95,257.29 L318.20,255.31 L318.45,254.83 L318.70,255.94 L318.95,258.44 L319.20,261.89 L319.45,265.78 L319.70,269.57 L319.95,272.91 L320.20,275.57 L320.45,277.53 L320.70,278.86 L320.95,279.70 L321.20,280.19 L321.45,280.45 L321.70,280.59 L321.95,280.65 L322.20,280.68 L326.95,280.69 L327.20,280.67 L327.45,280.64 L327.70,280.58 L327.95,280.46 L328.20,280.25 L328.45,279.90 L328.70,279.37 L328.95,278.62 L329.20,277.66 L329.45,276.52 L329.70,275.30 L329.95,274.14 L330.20,273.22 L330.45,272.69 L330.70,272.64 L330.95,273.08 L331.20,273.93 L331.45,275.06 L331.70,276.28 L331.95,277.44 L332.20,278.45 L332.45,279.24 L332.70,279.81 L332.95,280.19 L333.20,280.42 L333.45,280.56 L333.70,280.63 L333.95,280.67 L334.20,280.69 L369.45,280.69 L369.70,280.66 L369.95,280.60 L370.20,280.44 L370.45,280.09 L370.70,279.37 L370.95,278.01 L371.20,275.68 L371.45,272.02 L371.70,266.80 L371.95,260.10 L372.20,252.44 L372.45,244.80 L372.70,238.48 L372.95,234.74 L373.20,234.39 L373.45,237.49 L373.70,243.39 L373.95,250.87 L374.20,258.62 L374.45,265.57 L374.70,271.10 L374.95,275.07 L375.20,277.64 L375.45,279.16 L375.70,279.98 L375.95,280.39 L376.20,280.58 L376.45,280.65 L376.70,280.68 L451.45,280.70" fill="none" stroke="#f89696" stroke-width="1.45" stroke-linejoin="round" opacity="1"/>
<path d="M253.70,280.70 L291.20,280.71 L291.45,280.73 L291.70,280.77 L291.95,280.83 L292.20,280.95 L292.45,281.14 L292.70,281.42 L292.95,281.83 L293.20,282.35 L293.45,282.97 L293.70,283.63 L293.95,284.26 L294.20,284.76 L294.45,285.05 L294.70,285.08 L294.95,284.84 L295.20,284.38 L295.45,283.77 L295.70,283.10 L295.95,282.47 L296.20,281.92 L296.45,281.49 L296.70,281.19 L296.95,280.98 L297.20,280.85 L297.45,280.78 L297.70,280.74 L297.95,280.72 L320.70,280.71 L320.95,280.72 L321.20,280.74 L321.45,280.79 L321.70,280.88 L321.95,281.03 L322.20,281.28 L322.45,281.67 L322.70,282.24 L322.95,283.01 L323.20,284.00 L323.45,285.17 L323.70,286.46 L323.95,287.75 L324.20,288.89 L324.45,289.73 L324.70,290.16 L324.95,290.11 L325.20,289.59 L325.45,288.68 L325.70,287.50 L325.95,286.20 L326.20,284.93 L326.45,283.78 L326.70,282.84 L326.95,282.11 L327.20,281.58 L327.45,281.22 L327.70,280.99 L327.95,280.86 L328.20,280.78 L328.45,280.74 L328.70,280.72 L330.20,280.72 L330.45,280.74 L330.70,280.77 L330.95,280.85 L331.20,280.98 L331.45,281.20 L331.70,281.52 L331.95,281.98 L332.20,282.58 L332.45,283.28 L332.70,284.03 L332.95,284.75 L333.20,285.32 L333.45,285.64 L333.70,285.68 L333.95,285.40 L334.20,284.88 L334.45,284.18 L334.70,283.43 L334.95,282.71 L335.20,282.09 L335.45,281.60 L335.70,281.25 L335.95,281.02 L336.20,280.87 L336.45,280.79 L336.70,280.74 L336.95,280.72 L380.70,280.71 L380.95,280.72 L381.20,280.77 L381.45,280.89 L381.70,281.16 L381.95,281.75 L382.20,282.93 L382.45,285.06 L382.70,288.60 L382.95,293.95 L383.20,301.28 L383.45,310.27 L383.70,320.04 L383.95,329.15 L384.20,335.94 L384.45,339.01 L384.70,337.68 L384.95,332.24 L385.20,323.86 L385.45,314.16 L385.70,304.71 L385.95,296.65 L386.20,290.51 L386.45,286.29 L386.70,283.64 L386.95,282.14 L387.20,281.35 L387.45,280.97 L387.70,280.81 L387.95,280.74 L388.20,280.71 L451.45,280.70" fill="none" stroke="#f89696" stroke-width="1.45" stroke-linejoin="round" opacity="1"/>
<path d="M253.70,280.70 L310.95,280.69 L311.20,280.67 L311.45,280.64 L311.70,280.58 L311.95,280.47 L312.20,280.27 L312.45,279.97 L312.70,279.51 L312.95,278.90 L313.20,278.12 L313.45,277.24 L313.70,276.34 L313.95,275.54 L314.20,274.96 L314.45,274.71 L314.70,274.82 L314.95,275.28 L315.20,276.00 L315.45,276.88 L315.70,277.78 L315.95,278.60 L316.20,279.29 L316.45,279.80 L316.70,280.17 L316.95,280.40 L317.20,280.54 L317.45,280.62 L317.70,280.66 L317.95,280.68 L348.95,280.69 L349.20,280.68 L349.45,280.64 L349.70,280.57 L349.95,280.41 L350.20,280.10 L350.45,279.54 L350.70,278.57 L350.95,277.03 L351.20,274.76 L351.45,271.68 L351.70,267.81 L351.95,263.41 L352.20,258.92 L352.45,254.91 L352.70,252.02 L352.95,250.74 L353.20,251.29 L353.45,253.59 L353.70,257.22 L353.95,261.60 L354.20,266.10 L354.45,270.21 L354.70,273.63 L354.95,276.22 L355.20,278.03 L355.45,279.21 L355.70,279.92 L355.95,280.31 L356.20,280.52 L356.45,280.62 L356.70,280.67 L356.95,280.69 L358.45,280.69 L358.70,280.67 L358.95,280.64 L359.20,280.58 L359.45,280.47 L359.70,280.27 L359.95,279.97 L360.20,279.51 L360.45,278.90 L360.70,278.12 L360.95,277.24 L361.20,276.34 L361.45,275.54 L361.70,274.96 L361.95,274.71 L362.20,274.82 L362.45,275.28 L362.70,276.00 L362.95,276.88 L363.20,277.78 L363.45,278.60 L363.70,279.29 L363.95,279.80 L364.20,280.17 L364.45,280.40 L364.70,280.54 L364.95,280.62 L365.20,280.66 L365.45,280.68 L451.45,280.70" fill="none" stroke="#7474f2" stroke-width="1.3" stroke-linejoin="round" stroke-dasharray="2.2,1.3" stroke-dashoffset="0.9" opacity="1"/>
<path d="M253.70,280.70 L328.20,280.71 L328.45,280.72 L328.70,280.76 L328.95,280.85 L329.20,281.04 L329.45,281.41 L329.70,282.11 L329.95,283.31 L330.20,285.25 L330.45,288.16 L330.70,292.18 L330.95,297.30 L331.20,303.25 L331.45,309.48 L331.70,315.20 L331.95,319.55 L332.20,321.79 L332.45,321.54 L332.70,318.82 L332.95,314.14 L333.20,308.25 L333.45,302.02 L333.70,296.20 L333.95,291.29 L334.20,287.49 L334.45,284.79 L334.70,283.02 L334.95,281.93 L335.20,281.32 L335.45,280.99 L335.70,280.83 L335.95,280.75 L336.20,280.72 L336.45,280.71 L353.20,280.71 L353.45,280.72 L353.70,280.75 L353.95,280.80 L354.20,280.90 L354.45,281.08 L354.70,281.36 L354.95,281.78 L355.20,282.37 L355.45,283.11 L355.70,283.98 L355.95,284.88 L356.20,285.71 L356.45,286.34 L356.70,286.67 L356.95,286.63 L357.20,286.24 L357.45,285.56 L357.70,284.70 L357.95,283.80 L358.20,282.95 L358.45,282.24 L358.70,281.69 L358.95,281.29 L359.20,281.04 L359.45,280.88 L359.70,280.79 L359.95,280.74 L360.20,280.72 L379.20,280.71 L379.45,280.73 L379.70,280.77 L379.95,280.86 L380.20,281.03 L380.45,281.34 L380.70,281.86 L380.95,282.71 L381.20,283.95 L381.45,285.63 L381.70,287.74 L381.95,290.15 L382.20,292.61 L382.45,294.80 L382.70,296.38 L382.95,297.08 L383.20,296.78 L383.45,295.52 L383.70,293.54 L383.95,291.14 L384.20,288.68 L384.45,286.43 L384.70,284.57 L384.95,283.15 L385.20,282.16 L385.45,281.52 L385.70,281.13 L385.95,280.91 L386.20,280.80 L386.45,280.74 L386.70,280.72 L451.45,280.70" fill="none" stroke="#7474f2" stroke-width="1.3" stroke-linejoin="round" stroke-dasharray="2.2,1.3" stroke-dashoffset="0.9" opacity="1"/>
<path d="M253.70,280.70 L310.45,280.69 L310.70,280.67 L310.95,280.62 L311.20,280.54 L311.45,280.39 L311.70,280.13 L311.95,279.72 L312.20,279.12 L312.45,278.29 L312.70,277.26 L312.95,276.09 L313.20,274.89 L313.45,273.82 L313.70,273.05 L313.95,272.71 L314.20,272.86 L314.45,273.47 L314.70,274.44 L314.95,275.61 L315.20,276.81 L315.45,277.90 L315.70,278.81 L315.95,279.50 L316.20,279.99 L316.45,280.30 L316.70,280.49 L316.95,280.60 L317.20,280.65 L317.45,280.68 L317.70,280.69 L349.70,280.69 L349.95,280.67 L350.20,280.64 L350.45,280.55 L350.70,280.36 L350.95,279.98 L351.20,279.27 L351.45,278.05 L351.70,276.07 L351.95,273.11 L352.20,269.02 L352.45,263.82 L352.70,257.76 L352.95,251.43 L353.20,245.62 L353.45,241.20 L353.70,238.91 L353.95,239.17 L354.20,241.93 L354.45,246.70 L354.70,252.69 L354.95,259.02 L355.20,264.94 L355.45,269.93 L355.70,273.79 L355.95,276.54 L356.20,278.34 L356.45,279.45 L356.70,280.07 L356.95,280.41 L357.20,280.57 L357.45,280.65 L357.70,280.68 L357.95,280.69 L367.45,280.69 L367.70,280.67 L367.95,280.62 L368.20,280.54 L368.45,280.39 L368.70,280.13 L368.95,279.72 L369.20,279.12 L369.45,278.29 L369.70,277.26 L369.95,276.09 L370.20,274.89 L370.45,273.82 L370.70,273.05 L370.95,272.71 L371.20,272.86 L371.45,273.47 L371.70,274.44 L371.95,275.61 L372.20,276.81 L372.45,277.90 L372.70,278.81 L372.95,279.50 L373.20,279.99 L373.45,280.30 L373.70,280.49 L373.95,280.60 L374.20,280.65 L374.45,280.68 L374.70,280.69 L451.45,280.70" fill="none" stroke="#55bcf2" stroke-width="1.3" stroke-linejoin="round" stroke-dasharray="2.2,1.3" stroke-dashoffset="1.75" opacity="1"/>
<path d="M253.70,280.70 L328.70,280.71 L328.95,280.72 L329.20,280.76 L329.45,280.84 L329.70,281.01 L329.95,281.35 L330.20,281.99 L330.45,283.10 L330.70,284.89 L330.95,287.56 L331.20,291.27 L331.45,295.98 L331.70,301.45 L331.95,307.18 L332.20,312.44 L332.45,316.44 L332.70,318.51 L332.95,318.27 L333.20,315.78 L333.45,311.46 L333.70,306.05 L333.95,300.32 L334.20,294.96 L334.45,290.44 L334.70,286.95 L334.95,284.47 L335.20,282.83 L335.45,281.83 L335.70,281.27 L335.95,280.97 L336.20,280.82 L336.45,280.75 L336.70,280.72 L371.70,280.72 L371.95,280.75 L372.20,280.81 L372.45,280.95 L372.70,281.22 L372.95,281.71 L373.20,282.55 L373.45,283.88 L373.70,285.85 L373.95,288.52 L374.20,291.87 L374.45,295.68 L374.70,299.58 L374.95,303.05 L375.20,305.56 L375.45,306.67 L375.70,306.19 L375.95,304.20 L376.20,301.05 L376.45,297.26 L376.70,293.36 L376.95,289.79 L377.20,286.83 L377.45,284.58 L377.70,283.01 L377.95,281.99 L378.20,281.38 L378.45,281.04 L378.70,280.86 L378.95,280.77 L379.20,280.74 L379.45,280.74 L379.70,280.76 L379.95,280.83 L380.20,280.98 L380.45,281.24 L380.70,281.69 L380.95,282.41 L381.20,283.47 L381.45,284.91 L381.70,286.71 L381.95,288.77 L382.20,290.87 L382.45,292.73 L382.70,294.08 L382.95,294.68 L383.20,294.42 L383.45,293.35 L383.70,291.66 L383.95,289.62 L384.20,287.51 L384.45,285.59 L384.70,284.00 L384.95,282.79 L385.20,281.94 L385.45,281.40 L385.70,281.07 L385.95,280.88 L386.20,280.78 L386.45,280.74 L386.70,280.71 L451.45,280.70" fill="none" stroke="#55bcf2" stroke-width="1.3" stroke-linejoin="round" stroke-dasharray="2.2,1.3" stroke-dashoffset="1.75" opacity="1"/>
<path d="M253.70,280.70 L310.95,280.68 L311.20,280.66 L311.45,280.62 L311.70,280.52 L311.95,280.36 L312.20,280.07 L312.45,279.61 L312.70,278.94 L312.95,278.02 L313.20,276.88 L313.45,275.57 L313.70,274.24 L313.95,273.05 L314.20,272.19 L314.45,271.81 L314.70,271.98 L314.95,272.66 L315.20,273.73 L315.45,275.03 L315.70,276.37 L315.95,277.59 L316.20,278.60 L316.45,279.37 L316.70,279.91 L316.95,280.26 L317.20,280.47 L317.45,280.59 L317.70,280.65 L317.95,280.68 L318.20,280.69 L318.45,280.69 L318.70,280.68 L318.95,280.65 L319.20,280.60 L319.45,280.51 L319.70,280.34 L319.95,280.07 L320.20,279.65 L320.45,279.06 L320.70,278.30 L320.95,277.40 L321.20,276.43 L321.45,275.52 L321.70,274.79 L321.95,274.37 L322.20,274.33 L322.45,274.68 L322.70,275.35 L322.95,276.24 L323.20,277.21 L323.45,278.13 L323.70,278.92 L323.95,279.54 L324.20,279.99 L324.45,280.30 L324.70,280.48 L324.95,280.59 L325.20,280.65 L325.45,280.68 L325.70,280.69 L348.95,280.69 L349.20,280.67 L349.45,280.62 L349.70,280.51 L349.95,280.28 L350.20,279.82 L350.45,278.98 L350.70,277.54 L350.95,275.26 L351.20,271.89 L351.45,267.31 L351.70,261.58 L351.95,255.06 L352.20,248.39 L352.45,242.45 L352.70,238.16 L352.95,236.26 L353.20,237.08 L353.45,240.49 L353.70,245.87 L353.95,252.36 L354.20,259.04 L354.45,265.15 L354.70,270.21 L354.95,274.05 L355.20,276.74 L355.45,278.49 L355.70,279.54 L355.95,280.13 L356.20,280.43 L356.45,280.58 L356.70,280.65 L356.95,280.68 L359.45,280.69 L359.70,280.68 L359.95,280.65 L360.20,280.60 L360.45,280.51 L360.70,280.34 L360.95,280.09 L361.20,279.71 L361.45,279.20 L361.70,278.55 L361.95,277.82 L362.20,277.07 L362.45,276.40 L362.70,275.92 L362.95,275.71 L363.20,275.80 L363.45,276.18 L363.70,276.79 L363.95,277.52 L364.20,278.27 L364.45,278.95 L364.70,279.52 L364.95,279.95 L365.20,280.26 L365.45,280.45 L365.70,280.57 L365.95,280.64 L366.20,280.67 L366.45,280.69 L451.45,280.70" fill="none" stroke="#ff4ea6" stroke-width="1.3" stroke-linejoin="round" stroke-dasharray="2.2,1.3" stroke-dashoffset="0" opacity="1"/>
<path d="M253.70,280.70 L329.70,280.72 L329.95,280.74 L330.20,280.78 L330.45,280.85 L330.70,280.98 L330.95,281.19 L331.20,281.49 L331.45,281.90 L331.70,282.42 L331.95,283.00 L332.20,283.60 L332.45,284.14 L332.70,284.52 L332.95,284.70 L333.20,284.62 L333.45,284.31 L333.70,283.83 L333.95,283.25 L334.20,282.65 L334.45,282.10 L334.70,281.64 L334.95,281.30 L335.20,281.06 L335.45,280.90 L335.70,280.80 L335.95,280.75 L336.20,280.72 L336.45,280.71 L451.45,280.70" fill="none" stroke="#ff4ea6" stroke-width="1.3" stroke-linejoin="round" stroke-dasharray="2.2,1.3" stroke-dashoffset="0" opacity="1"/>
<line x1="43.40" y1="350.80" x2="43.40" y2="348.20" stroke="#3a3a3a" stroke-width="1" />
<line x1="67.10" y1="350.80" x2="67.10" y2="349.40" stroke="#3a3a3a" stroke-width="1" />
<line x1="90.80" y1="350.80" x2="90.80" y2="348.20" stroke="#3a3a3a" stroke-width="1" />
<line x1="114.50" y1="350.80" x2="114.50" y2="349.40" stroke="#3a3a3a" stroke-width="1" />
<line x1="138.20" y1="350.80" x2="138.20" y2="348.20" stroke="#3a3a3a" stroke-width="1" />
<line x1="161.90" y1="350.80" x2="161.90" y2="349.40" stroke="#3a3a3a" stroke-width="1" />
<line x1="185.60" y1="350.80" x2="185.60" y2="348.20" stroke="#3a3a3a" stroke-width="1" />
<line x1="209.30" y1="350.80" x2="209.30" y2="349.40" stroke="#3a3a3a" stroke-width="1" />
<line x1="24.60" y1="337.60" x2="27.20" y2="337.60" stroke="#3a3a3a" stroke-width="1" />
<line x1="24.60" y1="323.20" x2="26.00" y2="323.20" stroke="#3a3a3a" stroke-width="1" />
<line x1="24.60" y1="308.80" x2="27.20" y2="308.80" stroke="#3a3a3a" stroke-width="1" />
<line x1="24.60" y1="294.40" x2="26.00" y2="294.40" stroke="#3a3a3a" stroke-width="1" />
<line x1="24.60" y1="280.00" x2="27.20" y2="280.00" stroke="#3a3a3a" stroke-width="1" />
<line x1="24.60" y1="265.60" x2="26.00" y2="265.60" stroke="#3a3a3a" stroke-width="1" />
<line x1="24.60" y1="251.20" x2="27.20" y2="251.20" stroke="#3a3a3a" stroke-width="1" />
<line x1="24.60" y1="236.80" x2="26.00" y2="236.80" stroke="#3a3a3a" stroke-width="1" />
<line x1="24.60" y1="222.40" x2="27.20" y2="222.40" stroke="#3a3a3a" stroke-width="1" />
<text x="21.40" y="226.80" font-size="12.4" fill="#000" textLength="7.0" lengthAdjust="spacingAndGlyphs" text-anchor="end" >2</text>
<text x="21.40" y="255.60" font-size="12.4" fill="#000" textLength="7.0" lengthAdjust="spacingAndGlyphs" text-anchor="end" >1</text>
<text x="21.40" y="284.40" font-size="12.4" fill="#000" textLength="7.0" lengthAdjust="spacingAndGlyphs" text-anchor="end" >0</text>
<text x="21.40" y="313.20" font-size="12.4" fill="#000" textLength="11.4" lengthAdjust="spacingAndGlyphs" text-anchor="end" >-1</text>
<text x="21.40" y="342.00" font-size="12.4" fill="#000" textLength="11.4" lengthAdjust="spacingAndGlyphs" text-anchor="end" >-2</text>
<text x="42.90" y="364.40" font-size="12.2" fill="#000" textLength="19.0" lengthAdjust="spacingAndGlyphs" text-anchor="middle" >-10</text>
<text x="90.30" y="364.40" font-size="12.2" fill="#000" textLength="11.9" lengthAdjust="spacingAndGlyphs" text-anchor="middle" >-5</text>
<text x="138.20" y="364.40" font-size="12.2" fill="#000" textLength="6.9" lengthAdjust="spacingAndGlyphs" text-anchor="middle" >0</text>
<text x="185.60" y="364.40" font-size="12.2" fill="#000" textLength="7.2" lengthAdjust="spacingAndGlyphs" text-anchor="middle" >5</text>
<text x="9.60" y="309.10" font-size="12.4" fill="#000" textLength="57.6" lengthAdjust="spacingAndGlyphs" transform="rotate(-90 9.60 309.10)" >DOS (a.u.)</text>
<text x="90.60" y="377.30" font-size="12.6" fill="#000" textLength="67.6" lengthAdjust="spacingAndGlyphs" >Energy (eV)</text>
<text x="28.90" y="343.40" font-size="12.0" fill="#000" textLength="68.4" lengthAdjust="spacingAndGlyphs" >Al-Co TCPP</text>
<line x1="138.20" y1="209.00" x2="138.20" y2="350.20" stroke="#333" stroke-width="1.2" stroke-dasharray="3.0,3.4" stroke-dashoffset="1.0"/>
<line x1="272.00" y1="351.60" x2="272.00" y2="349.00" stroke="#3a3a3a" stroke-width="1" />
<line x1="295.65" y1="351.60" x2="295.65" y2="350.20" stroke="#3a3a3a" stroke-width="1" />
<line x1="319.30" y1="351.60" x2="319.30" y2="349.00" stroke="#3a3a3a" stroke-width="1" />
<line x1="342.95" y1="351.60" x2="342.95" y2="350.20" stroke="#3a3a3a" stroke-width="1" />
<line x1="366.60" y1="351.60" x2="366.60" y2="349.00" stroke="#3a3a3a" stroke-width="1" />
<line x1="390.25" y1="351.60" x2="390.25" y2="350.20" stroke="#3a3a3a" stroke-width="1" />
<line x1="413.90" y1="351.60" x2="413.90" y2="349.00" stroke="#3a3a3a" stroke-width="1" />
<line x1="437.55" y1="351.60" x2="437.55" y2="350.20" stroke="#3a3a3a" stroke-width="1" />
<line x1="253.00" y1="337.60" x2="255.60" y2="337.60" stroke="#3a3a3a" stroke-width="1" />
<line x1="253.00" y1="323.40" x2="254.40" y2="323.40" stroke="#3a3a3a" stroke-width="1" />
<line x1="253.00" y1="309.20" x2="255.60" y2="309.20" stroke="#3a3a3a" stroke-width="1" />
<line x1="253.00" y1="295.00" x2="254.40" y2="295.00" stroke="#3a3a3a" stroke-width="1" />
<line x1="253.00" y1="280.80" x2="255.60" y2="280.80" stroke="#3a3a3a" stroke-width="1" />
<line x1="253.00" y1="266.60" x2="254.40" y2="266.60" stroke="#3a3a3a" stroke-width="1" />
<line x1="253.00" y1="252.40" x2="255.60" y2="252.40" stroke="#3a3a3a" stroke-width="1" />
<line x1="253.00" y1="238.20" x2="254.40" y2="238.20" stroke="#3a3a3a" stroke-width="1" />
<line x1="253.00" y1="224.00" x2="255.60" y2="224.00" stroke="#3a3a3a" stroke-width="1" />
<text x="249.60" y="228.40" font-size="12.4" fill="#000" textLength="7.0" lengthAdjust="spacingAndGlyphs" text-anchor="end" >2</text>
<text x="249.60" y="256.80" font-size="12.4" fill="#000" textLength="7.0" lengthAdjust="spacingAndGlyphs" text-anchor="end" >1</text>
<text x="249.60" y="285.20" font-size="12.4" fill="#000" textLength="7.0" lengthAdjust="spacingAndGlyphs" text-anchor="end" >0</text>
<text x="249.60" y="313.60" font-size="12.4" fill="#000" textLength="11.4" lengthAdjust="spacingAndGlyphs" text-anchor="end" >-1</text>
<text x="249.60" y="342.00" font-size="12.4" fill="#000" textLength="11.4" lengthAdjust="spacingAndGlyphs" text-anchor="end" >-2</text>
<text x="271.50" y="365.20" font-size="12.2" fill="#000" textLength="19.0" lengthAdjust="spacingAndGlyphs" text-anchor="middle" >-10</text>
<text x="318.80" y="365.20" font-size="12.2" fill="#000" textLength="11.9" lengthAdjust="spacingAndGlyphs" text-anchor="middle" >-5</text>
<text x="366.60" y="365.20" font-size="12.2" fill="#000" textLength="6.9" lengthAdjust="spacingAndGlyphs" text-anchor="middle" >0</text>
<text x="413.90" y="365.20" font-size="12.2" fill="#000" textLength="7.2" lengthAdjust="spacingAndGlyphs" text-anchor="middle" >5</text>
<text x="237.40" y="310.20" font-size="12.4" fill="#000" textLength="59.7" lengthAdjust="spacingAndGlyphs" transform="rotate(-90 237.40 310.20)" >DOS (a.u.)</text>
<text x="317.20" y="378.60" font-size="12.6" fill="#000" textLength="70.4" lengthAdjust="spacingAndGlyphs" >Energy (eV)</text>
<text x="256.00" y="345.70" font-size="12.0" fill="#000" textLength="73.4" lengthAdjust="spacingAndGlyphs" >Ce-Co TCPP</text>
<line x1="366.60" y1="209.90" x2="366.60" y2="351.00" stroke="#333" stroke-width="1.2" stroke-dasharray="3.5,2.8" stroke-dashoffset="5.3"/>
<line x1="173.60" y1="225.40" x2="197.90" y2="225.40" stroke="#2a2af0" stroke-width="1.4" stroke-dasharray="2.6,1.5" />
<text x="201.40" y="229.70" font-size="10.6" fill="#2a2af0" font-style="italic">p<tspan font-size="7.8" dy="2.7" font-style="normal">z</tspan></text>
<line x1="173.60" y1="241.00" x2="197.90" y2="241.00" stroke="#80d0f8" stroke-width="1.4" stroke-dasharray="2.6,1.5" />
<text x="201.40" y="245.30" font-size="10.6" fill="#80d0f8" font-style="italic">p<tspan font-size="7.8" dy="2.7" font-style="normal">y</tspan></text>
<line x1="173.60" y1="256.70" x2="197.90" y2="256.70" stroke="#ff50a8" stroke-width="1.4" stroke-dasharray="2.6,1.5" />
<text x="201.40" y="261.00" font-size="10.6" fill="#ff50a8" font-style="italic">p<tspan font-size="7.8" dy="2.7" font-style="normal">x</tspan></text>
<line x1="173.60" y1="270.40" x2="197.90" y2="270.40" stroke="#7570b0" stroke-width="1.4" />
<text x="201.40" y="274.70" font-size="10.6" fill="#7570b0" font-style="italic">d<tspan font-size="7.8" dy="2.7" font-style="normal">xy</tspan></text>
<line x1="173.60" y1="285.30" x2="197.90" y2="285.30" stroke="#3889c0" stroke-width="1.4" />
<text x="201.40" y="289.60" font-size="10.6" fill="#3889c0" font-style="italic">d<tspan font-size="7.8" dy="2.7" font-style="normal">yz</tspan></text>
<line x1="173.60" y1="300.70" x2="197.90" y2="300.70" stroke="#50b9b9" stroke-width="1.4" />
<text x="201.40" y="305.00" font-size="10.6" fill="#50b9b9" font-style="italic">d<tspan font-size="7.8" dy="2.7" font-style="normal">z²</tspan></text>
<line x1="173.60" y1="316.30" x2="197.90" y2="316.30" stroke="#26a026" stroke-width="1.4" />
<text x="201.40" y="320.60" font-size="10.6" fill="#26a026" font-style="italic">d<tspan font-size="7.8" dy="2.7" font-style="normal">xz</tspan></text>
<line x1="173.60" y1="332.40" x2="197.90" y2="332.40" stroke="#f89696" stroke-width="1.4" />
<text x="201.40" y="336.70" font-size="10.6" fill="#f89696" font-style="italic">d<tspan font-size="7.8" dy="2.7" font-style="normal">x²-y²</tspan></text>
<line x1="402.70" y1="227.50" x2="426.20" y2="227.50" stroke="#7474f2" stroke-width="1.4" stroke-dasharray="2.6,1.5" />
<text x="430.30" y="231.80" font-size="10.6" fill="#7474f2" font-style="italic">p<tspan font-size="7.8" dy="2.7" font-style="normal">z</tspan></text>
<line x1="402.70" y1="242.80" x2="426.20" y2="242.80" stroke="#55bcf2" stroke-width="1.4" stroke-dasharray="2.6,1.5" />
<text x="430.30" y="247.10" font-size="10.6" fill="#55bcf2" font-style="italic">p<tspan font-size="7.8" dy="2.7" font-style="normal">y</tspan></text>
<line x1="402.70" y1="258.00" x2="426.20" y2="258.00" stroke="#ff4ea6" stroke-width="1.4" stroke-dasharray="2.6,1.5" />
<text x="430.30" y="262.30" font-size="10.6" fill="#ff4ea6" font-style="italic">p<tspan font-size="7.8" dy="2.7" font-style="normal">x</tspan></text>
<line x1="402.70" y1="272.90" x2="426.20" y2="272.90" stroke="#7570b0" stroke-width="1.4" />
<text x="430.30" y="277.20" font-size="10.6" fill="#7570b0" font-style="italic">d<tspan font-size="7.8" dy="2.7" font-style="normal">xy</tspan></text>
<line x1="402.70" y1="288.20" x2="426.20" y2="288.20" stroke="#3889c0" stroke-width="1.4" />
<text x="430.30" y="292.50" font-size="10.6" fill="#3889c0" font-style="italic">d<tspan font-size="7.8" dy="2.7" font-style="normal">yz</tspan></text>
<line x1="402.70" y1="303.20" x2="426.20" y2="303.20" stroke="#50b9b9" stroke-width="1.4" />
<text x="430.30" y="307.50" font-size="10.6" fill="#50b9b9" font-style="italic">d<tspan font-size="7.8" dy="2.7" font-style="normal">z²</tspan></text>
<line x1="402.70" y1="318.90" x2="426.20" y2="318.90" stroke="#26a026" stroke-width="1.4" />
<text x="430.30" y="323.20" font-size="10.6" fill="#26a026" font-style="italic">d<tspan font-size="7.8" dy="2.7" font-style="normal">xz</tspan></text>
<line x1="402.70" y1="333.40" x2="426.20" y2="333.40" stroke="#f89696" stroke-width="1.4" />
<text x="430.30" y="337.70" font-size="10.6" fill="#f89696" font-style="italic">d<tspan font-size="7.8" dy="2.7" font-style="normal">x²-y²</tspan></text>
<text x="76.50" y="230.70" font-size="10.3" fill="#000" textLength="38.4" lengthAdjust="spacingAndGlyphs" >Bonding</text>
<line x1="90.20" y1="232.60" x2="75.25" y2="259.67" stroke="#111" stroke-width="0.8" />
<path d="M73.80,262.30 L74.11,259.05 L76.39,260.30 Z" fill="#111"/>
<line x1="90.20" y1="232.60" x2="89.01" y2="266.60" stroke="#111" stroke-width="0.8" />
<path d="M88.90,269.60 L87.71,266.56 L90.30,266.65 Z" fill="#111"/>
<text x="110.50" y="218.90" font-size="10.3" fill="#000" textLength="55.3" lengthAdjust="spacingAndGlyphs" >Antibonding</text>
<line x1="130.10" y1="220.40" x2="120.20" y2="227.80" stroke="#111" stroke-width="0.8" />
<path d="M117.80,229.60 L119.42,226.76 L120.98,228.84 Z" fill="#111"/>
<line x1="130.10" y1="220.40" x2="129.56" y2="248.80" stroke="#111" stroke-width="0.8" />
<path d="M129.50,251.80 L128.26,248.78 L130.86,248.83 Z" fill="#111"/>
<line x1="130.10" y1="220.40" x2="136.41" y2="268.63" stroke="#111" stroke-width="0.8" />
<path d="M136.80,271.60 L135.12,268.79 L137.70,268.46 Z" fill="#111"/>
<text x="291.40" y="225.50" font-size="10.3" fill="#000" textLength="40.4" lengthAdjust="spacingAndGlyphs" >Bonding</text>
<line x1="314.50" y1="226.00" x2="314.13" y2="265.40" stroke="#111" stroke-width="0.8" />
<path d="M314.10,268.40 L312.83,265.39 L315.43,265.41 Z" fill="#111"/>
<line x1="314.50" y1="226.00" x2="321.65" y2="264.05" stroke="#111" stroke-width="0.8" />
<path d="M322.20,267.00 L320.37,264.29 L322.92,263.81 Z" fill="#111"/>
<text x="339.70" y="223.70" font-size="10.3" fill="#000" textLength="55.4" lengthAdjust="spacingAndGlyphs" >Antibonding</text>
<line x1="362.60" y1="226.80" x2="355.45" y2="231.87" stroke="#111" stroke-width="0.8" />
<path d="M353.00,233.60 L354.70,230.81 L356.20,232.93 Z" fill="#111"/>
<line x1="362.60" y1="226.80" x2="362.97" y2="264.00" stroke="#111" stroke-width="0.8" />
<path d="M363.00,267.00 L361.67,264.01 L364.27,263.99 Z" fill="#111"/>
<line x1="362.60" y1="226.80" x2="370.91" y2="262.08" stroke="#111" stroke-width="0.8" />
<path d="M371.60,265.00 L369.65,262.38 L372.18,261.78 Z" fill="#111"/>
<defs><linearGradient id="gAB" x1="0" x2="1" y1="0" y2="0"><stop offset="0" stop-color="#fae6e6"/><stop offset="1" stop-color="#e8948a"/></linearGradient></defs>
<path d="M485.80,271.40 L513.40,271.40 L519.20,280.05 L513.40,288.70 L485.80,288.70 Z" fill="url(#gAB)"/>
<path d="M584.20,261.30 L610.80,261.30 L617.80,269.95 L610.80,278.60 L584.20,278.60 Z" fill="url(#gAB)"/>
<path d="M485.80,319.80 L512.00,319.80 L519.20,329.70 L512.00,339.60 L485.80,339.60 Z" fill="#f2a682"/>
<path d="M584.00,315.10 L610.60,315.10 L617.60,325.00 L610.60,334.90 L584.00,334.90 Z" fill="#f2a682"/>
<line x1="485.30" y1="270.20" x2="675.00" y2="270.20" stroke="#111" stroke-width="1.3" stroke-dasharray="5.3,3.23" stroke-dashoffset="0.95"/>
<line x1="485.30" y1="222.00" x2="485.30" y2="348.70" stroke="#111" stroke-width="1.4" />
<line x1="583.60" y1="222.00" x2="583.60" y2="348.70" stroke="#111" stroke-width="1.4" />
<line x1="484.60" y1="348.70" x2="679.50" y2="348.70" stroke="#111" stroke-width="1.4" />
<path d="M485.3,217.8 L483.2,223.2 L487.4,223.2 Z" fill="#111"/>
<path d="M583.6,217.8 L581.5,223.2 L585.7,223.2 Z" fill="#111"/>
<path d="M684.0,348.7 L678.4,346.5 L678.4,350.9 Z" fill="#111"/>
<text x="480.00" y="311.60" font-size="12.4" fill="#000" textLength="69.6" lengthAdjust="spacingAndGlyphs" transform="rotate(-90 480.00 311.60)" >Energy (eV)</text>
<text x="489.80" y="259.50" font-size="12.5" fill="#f2a682" textLength="68.4" lengthAdjust="spacingAndGlyphs" >Antibonding</text>
<text x="585.60" y="256.30" font-size="12.5" fill="#f2a682" textLength="68.0" lengthAdjust="spacingAndGlyphs" >Antibonding</text>
<text x="519.20" y="341.80" font-size="12.6" fill="#f2a682" textLength="46.8" lengthAdjust="spacingAndGlyphs" >Bonding</text>
<text x="614.70" y="342.30" font-size="12.6" fill="#f2a682" textLength="47.2" lengthAdjust="spacingAndGlyphs" >Bonding</text>
<text x="486.40" y="309.80" font-size="11.1" fill="#000" textLength="61.6" lengthAdjust="spacingAndGlyphs" >Al-Co TCPP</text>
<text x="584.20" y="310.50" font-size="11.1" fill="#000" textLength="66.0" lengthAdjust="spacingAndGlyphs" >Ce-Co TCPP</text>
<text x="661.40" y="283.60" font-size="11.3" fill="#000" >E</text>
<text x="668.80" y="286.40" font-size="7.6" fill="#000" >f</text>
</svg>
</body></html>
